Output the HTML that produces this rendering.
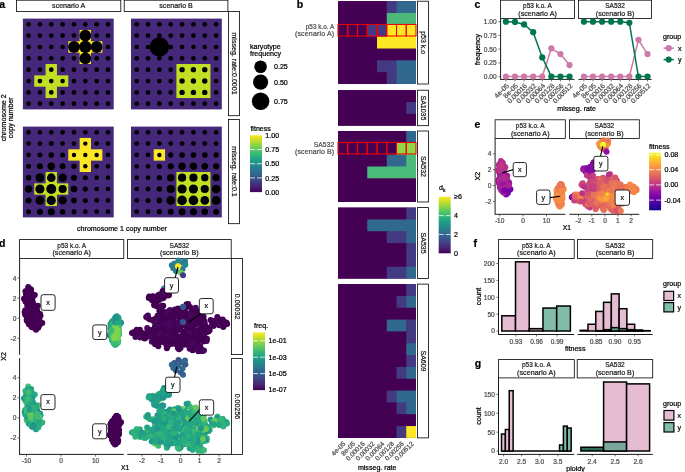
<!DOCTYPE html>
<html><head><meta charset="utf-8"><title>figure</title>
<style>html,body{margin:0;padding:0;background:#fff}svg{display:block;will-change:transform}text{font-family:"Liberation Sans",sans-serif}</style>
</head><body>
<svg width="685" height="472" viewBox="0 0 685 472">
<defs>
<linearGradient id="gvir" x1="0" y1="1" x2="0" y2="0"><stop offset="0%" stop-color="#440154"/><stop offset="10%" stop-color="#482475"/><stop offset="20%" stop-color="#414487"/><stop offset="30%" stop-color="#355f8d"/><stop offset="40%" stop-color="#2a788e"/><stop offset="50%" stop-color="#21918c"/><stop offset="60%" stop-color="#22a884"/><stop offset="70%" stop-color="#44bf70"/><stop offset="80%" stop-color="#7ad151"/><stop offset="90%" stop-color="#bddf26"/><stop offset="100%" stop-color="#fde725"/></linearGradient>
<linearGradient id="gpla" x1="0" y1="1" x2="0" y2="0"><stop offset="0%" stop-color="#0d0887"/><stop offset="10%" stop-color="#41049d"/><stop offset="20%" stop-color="#6a00a8"/><stop offset="30%" stop-color="#8f0da4"/><stop offset="40%" stop-color="#b12a90"/><stop offset="50%" stop-color="#cc4778"/><stop offset="60%" stop-color="#e16462"/><stop offset="70%" stop-color="#f2844b"/><stop offset="80%" stop-color="#fca636"/><stop offset="90%" stop-color="#fcce25"/><stop offset="100%" stop-color="#f0f921"/></linearGradient>
</defs>
<rect x="0" y="0" width="685" height="472" fill="#fff"/>
<text x="-0.80" y="7.60" font-size="10.5" text-anchor="start" fill="#000" font-weight="bold" stroke="#000" stroke-width="0.22">a</text>
<rect x="16.50" y="0.20" width="104.30" height="11.20" fill="#fff" stroke="#000" stroke-width="0.8"/>
<text x="68.65" y="8.36" font-size="7.1" text-anchor="middle" fill="#1a1a1a" stroke="#1a1a1a" stroke-width="0.22">scenario A</text>
<rect x="124.20" y="0.20" width="103.70" height="11.20" fill="#fff" stroke="#000" stroke-width="0.8"/>
<text x="176.05" y="8.36" font-size="7.1" text-anchor="middle" fill="#1a1a1a" stroke="#1a1a1a" stroke-width="0.22">scenario B</text>
<rect x="228.50" y="11.40" width="11.00" height="104.30" fill="#fff" stroke="#000" stroke-width="0.8"/>
<text font-size="7.1" text-anchor="middle" fill="#1a1a1a" transform="translate(232.24 63.55) rotate(90)" stroke="#1a1a1a" stroke-width="0.22">misseg. rate:0.0001</text>
<rect x="228.50" y="119.40" width="11.00" height="104.30" fill="#fff" stroke="#000" stroke-width="0.8"/>
<text font-size="7.1" text-anchor="middle" fill="#1a1a1a" transform="translate(232.24 171.55) rotate(90)" stroke="#1a1a1a" stroke-width="0.22">misseg. rate:0.1</text>
<rect x="22.90" y="18.60" width="90.80" height="90.80" fill="#46287a"/>
<rect x="68.30" y="41.30" width="34.05" height="11.35" fill="#fde725"/>
<rect x="79.65" y="29.95" width="11.35" height="34.05" fill="#fde725"/>
<rect x="34.25" y="75.35" width="34.05" height="11.35" fill="#c2df23"/>
<rect x="45.60" y="64.00" width="11.35" height="34.05" fill="#c2df23"/>
<circle cx="28.57" cy="24.28" r="2.35" fill="#000"/>
<circle cx="28.57" cy="35.62" r="2.35" fill="#000"/>
<circle cx="28.57" cy="46.98" r="2.35" fill="#000"/>
<circle cx="28.57" cy="58.33" r="2.35" fill="#000"/>
<circle cx="28.57" cy="69.67" r="2.35" fill="#000"/>
<circle cx="28.57" cy="81.03" r="2.35" fill="#000"/>
<circle cx="28.57" cy="92.38" r="2.35" fill="#000"/>
<circle cx="28.57" cy="103.72" r="2.35" fill="#000"/>
<circle cx="39.92" cy="24.28" r="2.35" fill="#000"/>
<circle cx="39.92" cy="35.62" r="2.35" fill="#000"/>
<circle cx="39.92" cy="46.98" r="2.35" fill="#000"/>
<circle cx="39.92" cy="58.33" r="2.35" fill="#000"/>
<circle cx="39.92" cy="69.67" r="2.35" fill="#000"/>
<circle cx="39.92" cy="81.03" r="2.35" fill="#000"/>
<circle cx="39.92" cy="92.38" r="2.35" fill="#000"/>
<circle cx="39.92" cy="103.72" r="2.35" fill="#000"/>
<circle cx="51.27" cy="24.28" r="2.35" fill="#000"/>
<circle cx="51.27" cy="35.62" r="2.35" fill="#000"/>
<circle cx="51.27" cy="46.98" r="2.35" fill="#000"/>
<circle cx="51.27" cy="58.33" r="2.35" fill="#000"/>
<circle cx="51.27" cy="69.67" r="2.35" fill="#000"/>
<circle cx="51.27" cy="81.03" r="2.35" fill="#000"/>
<circle cx="51.27" cy="92.38" r="2.35" fill="#000"/>
<circle cx="51.27" cy="103.72" r="2.35" fill="#000"/>
<circle cx="62.62" cy="24.28" r="2.35" fill="#000"/>
<circle cx="62.62" cy="35.62" r="2.35" fill="#000"/>
<circle cx="62.62" cy="46.98" r="2.35" fill="#000"/>
<circle cx="62.62" cy="58.33" r="2.35" fill="#000"/>
<circle cx="62.62" cy="69.67" r="2.35" fill="#000"/>
<circle cx="62.62" cy="81.03" r="2.35" fill="#000"/>
<circle cx="62.62" cy="92.38" r="2.35" fill="#000"/>
<circle cx="62.62" cy="103.72" r="2.35" fill="#000"/>
<circle cx="73.97" cy="24.28" r="2.35" fill="#000"/>
<circle cx="73.97" cy="35.62" r="2.35" fill="#000"/>
<circle cx="73.97" cy="46.98" r="5.90" fill="#000"/>
<circle cx="73.97" cy="58.33" r="2.35" fill="#000"/>
<circle cx="73.97" cy="69.67" r="2.35" fill="#000"/>
<circle cx="73.97" cy="81.03" r="2.35" fill="#000"/>
<circle cx="73.97" cy="92.38" r="2.35" fill="#000"/>
<circle cx="73.97" cy="103.72" r="2.35" fill="#000"/>
<circle cx="85.32" cy="24.28" r="2.35" fill="#000"/>
<circle cx="85.32" cy="35.62" r="5.90" fill="#000"/>
<circle cx="85.32" cy="46.98" r="6.20" fill="#000"/>
<circle cx="85.32" cy="58.33" r="5.90" fill="#000"/>
<circle cx="85.32" cy="69.67" r="2.35" fill="#000"/>
<circle cx="85.32" cy="81.03" r="2.35" fill="#000"/>
<circle cx="85.32" cy="92.38" r="2.35" fill="#000"/>
<circle cx="85.32" cy="103.72" r="2.35" fill="#000"/>
<circle cx="96.67" cy="24.28" r="2.35" fill="#000"/>
<circle cx="96.67" cy="35.62" r="2.35" fill="#000"/>
<circle cx="96.67" cy="46.98" r="5.90" fill="#000"/>
<circle cx="96.67" cy="58.33" r="2.35" fill="#000"/>
<circle cx="96.67" cy="69.67" r="2.35" fill="#000"/>
<circle cx="96.67" cy="81.03" r="2.35" fill="#000"/>
<circle cx="96.67" cy="92.38" r="2.35" fill="#000"/>
<circle cx="96.67" cy="103.72" r="2.35" fill="#000"/>
<circle cx="108.03" cy="24.28" r="2.35" fill="#000"/>
<circle cx="108.03" cy="35.62" r="2.35" fill="#000"/>
<circle cx="108.03" cy="46.98" r="2.35" fill="#000"/>
<circle cx="108.03" cy="58.33" r="2.35" fill="#000"/>
<circle cx="108.03" cy="69.67" r="2.35" fill="#000"/>
<circle cx="108.03" cy="81.03" r="2.35" fill="#000"/>
<circle cx="108.03" cy="92.38" r="2.35" fill="#000"/>
<circle cx="108.03" cy="103.72" r="2.35" fill="#000"/>
<rect x="22.90" y="126.60" width="90.80" height="90.80" fill="#46287a"/>
<rect x="68.30" y="149.30" width="34.05" height="11.35" fill="#fde725"/>
<rect x="79.65" y="137.95" width="11.35" height="34.05" fill="#fde725"/>
<rect x="34.25" y="183.35" width="34.05" height="11.35" fill="#c2df23"/>
<rect x="45.60" y="172.00" width="11.35" height="34.05" fill="#c2df23"/>
<circle cx="28.57" cy="132.28" r="2.35" fill="#000"/>
<circle cx="28.57" cy="143.62" r="2.35" fill="#000"/>
<circle cx="28.57" cy="154.97" r="2.35" fill="#000"/>
<circle cx="28.57" cy="166.32" r="2.50" fill="#000"/>
<circle cx="28.57" cy="177.67" r="2.80" fill="#000"/>
<circle cx="28.57" cy="189.02" r="3.70" fill="#000"/>
<circle cx="28.57" cy="200.38" r="3.00" fill="#000"/>
<circle cx="28.57" cy="211.72" r="2.50" fill="#000"/>
<circle cx="39.92" cy="132.28" r="2.35" fill="#000"/>
<circle cx="39.92" cy="143.62" r="2.35" fill="#000"/>
<circle cx="39.92" cy="154.97" r="2.50" fill="#000"/>
<circle cx="39.92" cy="166.32" r="3.00" fill="#000"/>
<circle cx="39.92" cy="177.67" r="4.40" fill="#000"/>
<circle cx="39.92" cy="189.02" r="4.60" fill="#000"/>
<circle cx="39.92" cy="200.38" r="4.40" fill="#000"/>
<circle cx="39.92" cy="211.72" r="3.00" fill="#000"/>
<circle cx="51.27" cy="132.28" r="2.35" fill="#000"/>
<circle cx="51.27" cy="143.62" r="2.50" fill="#000"/>
<circle cx="51.27" cy="154.97" r="2.80" fill="#000"/>
<circle cx="51.27" cy="166.32" r="3.70" fill="#000"/>
<circle cx="51.27" cy="177.67" r="4.30" fill="#000"/>
<circle cx="51.27" cy="189.02" r="5.00" fill="#000"/>
<circle cx="51.27" cy="200.38" r="4.60" fill="#000"/>
<circle cx="51.27" cy="211.72" r="3.55" fill="#000"/>
<circle cx="62.62" cy="132.28" r="2.35" fill="#000"/>
<circle cx="62.62" cy="143.62" r="2.35" fill="#000"/>
<circle cx="62.62" cy="154.97" r="2.50" fill="#000"/>
<circle cx="62.62" cy="166.32" r="3.00" fill="#000"/>
<circle cx="62.62" cy="177.67" r="4.20" fill="#000"/>
<circle cx="62.62" cy="189.02" r="4.10" fill="#000"/>
<circle cx="62.62" cy="200.38" r="4.20" fill="#000"/>
<circle cx="62.62" cy="211.72" r="2.80" fill="#000"/>
<circle cx="73.97" cy="132.28" r="2.35" fill="#000"/>
<circle cx="73.97" cy="143.62" r="2.35" fill="#000"/>
<circle cx="73.97" cy="154.97" r="2.20" fill="#000"/>
<circle cx="73.97" cy="166.32" r="2.70" fill="#000"/>
<circle cx="73.97" cy="177.67" r="3.00" fill="#000"/>
<circle cx="73.97" cy="189.02" r="3.30" fill="#000"/>
<circle cx="73.97" cy="200.38" r="2.80" fill="#000"/>
<circle cx="73.97" cy="211.72" r="2.50" fill="#000"/>
<circle cx="85.32" cy="132.28" r="2.35" fill="#000"/>
<circle cx="85.32" cy="143.62" r="2.20" fill="#000"/>
<circle cx="85.32" cy="154.97" r="2.20" fill="#000"/>
<circle cx="85.32" cy="166.32" r="2.20" fill="#000"/>
<circle cx="85.32" cy="177.67" r="2.50" fill="#000"/>
<circle cx="85.32" cy="189.02" r="2.60" fill="#000"/>
<circle cx="85.32" cy="200.38" r="2.50" fill="#000"/>
<circle cx="85.32" cy="211.72" r="2.35" fill="#000"/>
<circle cx="96.67" cy="132.28" r="2.35" fill="#000"/>
<circle cx="96.67" cy="143.62" r="2.35" fill="#000"/>
<circle cx="96.67" cy="154.97" r="2.20" fill="#000"/>
<circle cx="96.67" cy="166.32" r="2.35" fill="#000"/>
<circle cx="96.67" cy="177.67" r="2.35" fill="#000"/>
<circle cx="96.67" cy="189.02" r="2.35" fill="#000"/>
<circle cx="96.67" cy="200.38" r="2.35" fill="#000"/>
<circle cx="96.67" cy="211.72" r="2.35" fill="#000"/>
<circle cx="108.03" cy="132.28" r="2.35" fill="#000"/>
<circle cx="108.03" cy="143.62" r="2.35" fill="#000"/>
<circle cx="108.03" cy="154.97" r="2.35" fill="#000"/>
<circle cx="108.03" cy="166.32" r="2.35" fill="#000"/>
<circle cx="108.03" cy="177.67" r="2.35" fill="#000"/>
<circle cx="108.03" cy="189.02" r="2.35" fill="#000"/>
<circle cx="108.03" cy="200.38" r="2.35" fill="#000"/>
<circle cx="108.03" cy="211.72" r="2.35" fill="#000"/>
<rect x="131.00" y="18.60" width="90.80" height="90.80" fill="#46287a"/>
<rect x="176.40" y="64.00" width="34.05" height="34.05" fill="#c2df23"/>
<circle cx="136.68" cy="24.28" r="2.35" fill="#000"/>
<circle cx="136.68" cy="35.62" r="2.35" fill="#000"/>
<circle cx="136.68" cy="46.98" r="2.35" fill="#000"/>
<circle cx="136.68" cy="58.33" r="2.35" fill="#000"/>
<circle cx="136.68" cy="69.67" r="2.35" fill="#000"/>
<circle cx="136.68" cy="81.03" r="2.35" fill="#000"/>
<circle cx="136.68" cy="92.38" r="2.35" fill="#000"/>
<circle cx="136.68" cy="103.72" r="2.35" fill="#000"/>
<circle cx="148.03" cy="24.28" r="2.35" fill="#000"/>
<circle cx="148.03" cy="35.62" r="2.35" fill="#000"/>
<circle cx="148.03" cy="46.98" r="2.35" fill="#000"/>
<circle cx="148.03" cy="58.33" r="2.35" fill="#000"/>
<circle cx="148.03" cy="69.67" r="2.35" fill="#000"/>
<circle cx="148.03" cy="81.03" r="2.35" fill="#000"/>
<circle cx="148.03" cy="92.38" r="2.35" fill="#000"/>
<circle cx="148.03" cy="103.72" r="2.35" fill="#000"/>
<circle cx="159.38" cy="24.28" r="2.35" fill="#000"/>
<circle cx="159.38" cy="35.62" r="2.35" fill="#000"/>
<circle cx="159.38" cy="46.98" r="9.70" fill="#000"/>
<circle cx="159.38" cy="58.33" r="2.35" fill="#000"/>
<circle cx="159.38" cy="69.67" r="2.35" fill="#000"/>
<circle cx="159.38" cy="81.03" r="2.35" fill="#000"/>
<circle cx="159.38" cy="92.38" r="2.35" fill="#000"/>
<circle cx="159.38" cy="103.72" r="2.35" fill="#000"/>
<circle cx="170.72" cy="24.28" r="2.35" fill="#000"/>
<circle cx="170.72" cy="35.62" r="2.35" fill="#000"/>
<circle cx="170.72" cy="46.98" r="2.35" fill="#000"/>
<circle cx="170.72" cy="58.33" r="2.35" fill="#000"/>
<circle cx="170.72" cy="69.67" r="2.35" fill="#000"/>
<circle cx="170.72" cy="81.03" r="2.35" fill="#000"/>
<circle cx="170.72" cy="92.38" r="2.35" fill="#000"/>
<circle cx="170.72" cy="103.72" r="2.35" fill="#000"/>
<circle cx="182.07" cy="24.28" r="2.35" fill="#000"/>
<circle cx="182.07" cy="35.62" r="2.35" fill="#000"/>
<circle cx="182.07" cy="46.98" r="2.35" fill="#000"/>
<circle cx="182.07" cy="58.33" r="2.35" fill="#000"/>
<circle cx="182.07" cy="69.67" r="2.70" fill="#000"/>
<circle cx="182.07" cy="81.03" r="2.70" fill="#000"/>
<circle cx="182.07" cy="92.38" r="2.70" fill="#000"/>
<circle cx="182.07" cy="103.72" r="2.35" fill="#000"/>
<circle cx="193.43" cy="24.28" r="2.35" fill="#000"/>
<circle cx="193.43" cy="35.62" r="2.35" fill="#000"/>
<circle cx="193.43" cy="46.98" r="2.35" fill="#000"/>
<circle cx="193.43" cy="58.33" r="2.35" fill="#000"/>
<circle cx="193.43" cy="69.67" r="2.70" fill="#000"/>
<circle cx="193.43" cy="81.03" r="2.70" fill="#000"/>
<circle cx="193.43" cy="92.38" r="2.70" fill="#000"/>
<circle cx="193.43" cy="103.72" r="2.35" fill="#000"/>
<circle cx="204.77" cy="24.28" r="2.35" fill="#000"/>
<circle cx="204.77" cy="35.62" r="2.35" fill="#000"/>
<circle cx="204.77" cy="46.98" r="2.35" fill="#000"/>
<circle cx="204.77" cy="58.33" r="2.35" fill="#000"/>
<circle cx="204.77" cy="69.67" r="2.70" fill="#000"/>
<circle cx="204.77" cy="81.03" r="2.70" fill="#000"/>
<circle cx="204.77" cy="92.38" r="2.70" fill="#000"/>
<circle cx="204.77" cy="103.72" r="2.35" fill="#000"/>
<circle cx="216.12" cy="24.28" r="2.35" fill="#000"/>
<circle cx="216.12" cy="35.62" r="2.35" fill="#000"/>
<circle cx="216.12" cy="46.98" r="2.35" fill="#000"/>
<circle cx="216.12" cy="58.33" r="2.35" fill="#000"/>
<circle cx="216.12" cy="69.67" r="2.35" fill="#000"/>
<circle cx="216.12" cy="81.03" r="2.35" fill="#000"/>
<circle cx="216.12" cy="92.38" r="2.35" fill="#000"/>
<circle cx="216.12" cy="103.72" r="2.35" fill="#000"/>
<rect x="131.00" y="126.60" width="90.80" height="90.80" fill="#46287a"/>
<rect x="153.70" y="149.30" width="11.35" height="11.35" fill="#fde725"/>
<rect x="176.40" y="172.00" width="34.05" height="34.05" fill="#c2df23"/>
<circle cx="136.68" cy="132.28" r="2.35" fill="#000"/>
<circle cx="136.68" cy="143.62" r="2.35" fill="#000"/>
<circle cx="136.68" cy="154.97" r="2.35" fill="#000"/>
<circle cx="136.68" cy="166.32" r="2.35" fill="#000"/>
<circle cx="136.68" cy="177.67" r="2.35" fill="#000"/>
<circle cx="136.68" cy="189.02" r="2.35" fill="#000"/>
<circle cx="136.68" cy="200.38" r="2.35" fill="#000"/>
<circle cx="136.68" cy="211.72" r="2.35" fill="#000"/>
<circle cx="148.03" cy="132.28" r="2.35" fill="#000"/>
<circle cx="148.03" cy="143.62" r="2.35" fill="#000"/>
<circle cx="148.03" cy="154.97" r="2.35" fill="#000"/>
<circle cx="148.03" cy="166.32" r="2.40" fill="#000"/>
<circle cx="148.03" cy="177.67" r="2.45" fill="#000"/>
<circle cx="148.03" cy="189.02" r="2.50" fill="#000"/>
<circle cx="148.03" cy="200.38" r="2.50" fill="#000"/>
<circle cx="148.03" cy="211.72" r="2.45" fill="#000"/>
<circle cx="159.38" cy="132.28" r="2.35" fill="#000"/>
<circle cx="159.38" cy="143.62" r="2.35" fill="#000"/>
<circle cx="159.38" cy="154.97" r="2.20" fill="#000"/>
<circle cx="159.38" cy="166.32" r="2.60" fill="#000"/>
<circle cx="159.38" cy="177.67" r="2.60" fill="#000"/>
<circle cx="159.38" cy="189.02" r="2.80" fill="#000"/>
<circle cx="159.38" cy="200.38" r="2.80" fill="#000"/>
<circle cx="159.38" cy="211.72" r="2.60" fill="#000"/>
<circle cx="170.72" cy="132.28" r="2.35" fill="#000"/>
<circle cx="170.72" cy="143.62" r="2.35" fill="#000"/>
<circle cx="170.72" cy="154.97" r="2.60" fill="#000"/>
<circle cx="170.72" cy="166.32" r="3.10" fill="#000"/>
<circle cx="170.72" cy="177.67" r="3.70" fill="#000"/>
<circle cx="170.72" cy="189.02" r="4.10" fill="#000"/>
<circle cx="170.72" cy="200.38" r="4.30" fill="#000"/>
<circle cx="170.72" cy="211.72" r="3.00" fill="#000"/>
<circle cx="182.07" cy="132.28" r="2.35" fill="#000"/>
<circle cx="182.07" cy="143.62" r="2.45" fill="#000"/>
<circle cx="182.07" cy="154.97" r="2.80" fill="#000"/>
<circle cx="182.07" cy="166.32" r="3.70" fill="#000"/>
<circle cx="182.07" cy="177.67" r="4.10" fill="#000"/>
<circle cx="182.07" cy="189.02" r="4.60" fill="#000"/>
<circle cx="182.07" cy="200.38" r="4.80" fill="#000"/>
<circle cx="182.07" cy="211.72" r="3.55" fill="#000"/>
<circle cx="193.43" cy="132.28" r="2.35" fill="#000"/>
<circle cx="193.43" cy="143.62" r="2.45" fill="#000"/>
<circle cx="193.43" cy="154.97" r="2.80" fill="#000"/>
<circle cx="193.43" cy="166.32" r="3.70" fill="#000"/>
<circle cx="193.43" cy="177.67" r="4.10" fill="#000"/>
<circle cx="193.43" cy="189.02" r="4.60" fill="#000"/>
<circle cx="193.43" cy="200.38" r="4.80" fill="#000"/>
<circle cx="193.43" cy="211.72" r="3.55" fill="#000"/>
<circle cx="204.77" cy="132.28" r="2.35" fill="#000"/>
<circle cx="204.77" cy="143.62" r="2.45" fill="#000"/>
<circle cx="204.77" cy="154.97" r="2.80" fill="#000"/>
<circle cx="204.77" cy="166.32" r="3.30" fill="#000"/>
<circle cx="204.77" cy="177.67" r="3.70" fill="#000"/>
<circle cx="204.77" cy="189.02" r="4.10" fill="#000"/>
<circle cx="204.77" cy="200.38" r="4.30" fill="#000"/>
<circle cx="204.77" cy="211.72" r="3.30" fill="#000"/>
<circle cx="216.12" cy="132.28" r="2.35" fill="#000"/>
<circle cx="216.12" cy="143.62" r="2.35" fill="#000"/>
<circle cx="216.12" cy="154.97" r="2.60" fill="#000"/>
<circle cx="216.12" cy="166.32" r="3.10" fill="#000"/>
<circle cx="216.12" cy="177.67" r="3.55" fill="#000"/>
<circle cx="216.12" cy="189.02" r="4.30" fill="#000"/>
<circle cx="216.12" cy="200.38" r="4.30" fill="#000"/>
<circle cx="216.12" cy="211.72" r="3.00" fill="#000"/>
<text font-size="7.1" text-anchor="middle" transform="translate(6.3 117.8) rotate(-90)" stroke="#000" stroke-width="0.22">chromosome 2</text>
<text font-size="7.1" text-anchor="middle" transform="translate(13.2 117.8) rotate(-90)" stroke="#000" stroke-width="0.22">copy number</text>
<text x="122.00" y="230.60" font-size="7.1" text-anchor="middle" fill="#000" stroke="#000" stroke-width="0.22">chromosome 1 copy number</text>
<text x="250.00" y="48.50" font-size="7.1" text-anchor="start" fill="#000" stroke="#000" stroke-width="0.22">karyotype</text>
<text x="250.00" y="55.60" font-size="7.1" text-anchor="start" fill="#000" stroke="#000" stroke-width="0.22">frequency</text>
<circle cx="260.60" cy="66.70" r="6.30" fill="#000"/>
<circle cx="260.60" cy="82.10" r="7.60" fill="#000"/>
<circle cx="260.60" cy="101.20" r="8.75" fill="#000"/>
<text x="274.00" y="69.20" font-size="7.1" text-anchor="start" fill="#000" stroke="#000" stroke-width="0.22">0.25</text>
<text x="274.00" y="84.60" font-size="7.1" text-anchor="start" fill="#000" stroke="#000" stroke-width="0.22">0.50</text>
<text x="274.00" y="103.70" font-size="7.1" text-anchor="start" fill="#000" stroke="#000" stroke-width="0.22">0.75</text>
<text x="250.40" y="131.20" font-size="7.1" text-anchor="start" fill="#000" stroke="#000" stroke-width="0.22">fitness</text>
<rect x="250.00" y="135.30" width="12.00" height="56.80" fill="url(#gvir)"/>
<text x="265.30" y="137.90" font-size="7.1" text-anchor="start" fill="#000" stroke="#000" stroke-width="0.22">1.00</text>
<line x1="250.00" y1="149.50" x2="255.00" y2="149.50" stroke="#fff" stroke-width="0.75"/>
<line x1="257.00" y1="149.50" x2="262.00" y2="149.50" stroke="#fff" stroke-width="0.75"/>
<text x="265.30" y="152.10" font-size="7.1" text-anchor="start" fill="#000" stroke="#000" stroke-width="0.22">0.75</text>
<line x1="250.00" y1="163.70" x2="255.00" y2="163.70" stroke="#fff" stroke-width="0.75"/>
<line x1="257.00" y1="163.70" x2="262.00" y2="163.70" stroke="#fff" stroke-width="0.75"/>
<text x="265.30" y="166.30" font-size="7.1" text-anchor="start" fill="#000" stroke="#000" stroke-width="0.22">0.50</text>
<line x1="250.00" y1="177.90" x2="255.00" y2="177.90" stroke="#fff" stroke-width="0.75"/>
<line x1="257.00" y1="177.90" x2="262.00" y2="177.90" stroke="#fff" stroke-width="0.75"/>
<text x="265.30" y="180.50" font-size="7.1" text-anchor="start" fill="#000" stroke="#000" stroke-width="0.22">0.25</text>
<text x="265.30" y="194.70" font-size="7.1" text-anchor="start" fill="#000" stroke="#000" stroke-width="0.22">0.00</text>
<text x="296.80" y="7.60" font-size="10.5" text-anchor="start" fill="#000" font-weight="bold" stroke="#000" stroke-width="0.22">b</text>
<rect x="338.00" y="1.20" width="78.00" height="82.81" fill="#440154"/>
<rect x="338.00" y="1.20" width="49.35" height="12.43" fill="#440154"/>
<rect x="386.75" y="1.20" width="10.35" height="12.43" fill="#443983"/>
<rect x="396.50" y="1.20" width="19.50" height="12.43" fill="#31688e"/>
<rect x="338.00" y="13.03" width="49.35" height="12.43" fill="#440154"/>
<rect x="386.75" y="13.03" width="29.25" height="12.43" fill="#4cb97a"/>
<rect x="338.00" y="24.86" width="29.85" height="12.43" fill="#440154"/>
<rect x="367.25" y="24.86" width="20.10" height="12.43" fill="#443983"/>
<rect x="386.75" y="24.86" width="29.25" height="12.43" fill="#fde725"/>
<rect x="338.00" y="36.69" width="39.60" height="12.43" fill="#440154"/>
<rect x="377.00" y="36.69" width="39.00" height="12.43" fill="#fde725"/>
<rect x="338.00" y="48.52" width="78.00" height="12.43" fill="#440154"/>
<rect x="338.00" y="60.35" width="39.60" height="12.43" fill="#440154"/>
<rect x="377.00" y="60.35" width="20.10" height="12.43" fill="#443983"/>
<rect x="396.50" y="60.35" width="19.50" height="12.43" fill="#31688e"/>
<rect x="338.00" y="72.18" width="49.35" height="11.83" fill="#440154"/>
<rect x="386.75" y="72.18" width="10.35" height="11.83" fill="#443983"/>
<rect x="396.50" y="72.18" width="19.50" height="11.83" fill="#31688e"/>
<rect x="417.40" y="1.20" width="11.10" height="82.81" fill="#fff" stroke="#000" stroke-width="0.8"/>
<text font-size="7.0" text-anchor="middle" fill="#1a1a1a" transform="translate(421.23 42.61) rotate(90)" stroke="#1a1a1a" stroke-width="0.22">p53 k.o</text>
<rect x="338.00" y="90.20" width="78.00" height="35.49" fill="#440154"/>
<rect x="338.00" y="90.20" width="78.00" height="12.43" fill="#440154"/>
<rect x="338.00" y="102.03" width="68.85" height="12.43" fill="#440154"/>
<rect x="406.25" y="102.03" width="9.75" height="12.43" fill="#443983"/>
<rect x="338.00" y="113.86" width="78.00" height="11.83" fill="#440154"/>
<rect x="417.40" y="90.20" width="11.10" height="35.49" fill="#fff" stroke="#000" stroke-width="0.8"/>
<text font-size="7.0" text-anchor="middle" fill="#1a1a1a" transform="translate(421.23 107.94) rotate(90)" stroke="#1a1a1a" stroke-width="0.22">SA1035</text>
<rect x="338.00" y="131.00" width="78.00" height="70.98" fill="#440154"/>
<rect x="338.00" y="131.00" width="68.85" height="12.43" fill="#440154"/>
<rect x="406.25" y="131.00" width="9.75" height="12.43" fill="#31688e"/>
<rect x="338.00" y="142.83" width="59.10" height="12.43" fill="#440154"/>
<rect x="396.50" y="142.83" width="19.50" height="12.43" fill="#8fd744"/>
<rect x="338.00" y="154.66" width="49.35" height="12.43" fill="#440154"/>
<rect x="386.75" y="154.66" width="20.10" height="12.43" fill="#31688e"/>
<rect x="406.25" y="154.66" width="9.75" height="12.43" fill="#4cba79"/>
<rect x="338.00" y="166.49" width="29.85" height="12.43" fill="#440154"/>
<rect x="367.25" y="166.49" width="48.75" height="12.43" fill="#4cba79"/>
<rect x="338.00" y="178.32" width="78.00" height="12.43" fill="#440154"/>
<rect x="338.00" y="190.15" width="78.00" height="11.83" fill="#440154"/>
<rect x="417.40" y="131.00" width="11.10" height="70.98" fill="#fff" stroke="#000" stroke-width="0.8"/>
<text font-size="7.0" text-anchor="middle" fill="#1a1a1a" transform="translate(421.23 166.49) rotate(90)" stroke="#1a1a1a" stroke-width="0.22">SA532</text>
<rect x="338.00" y="207.60" width="78.00" height="70.98" fill="#440154"/>
<rect x="338.00" y="207.60" width="68.85" height="12.43" fill="#440154"/>
<rect x="406.25" y="207.60" width="9.75" height="12.43" fill="#443983"/>
<rect x="338.00" y="219.43" width="29.85" height="12.43" fill="#440154"/>
<rect x="367.25" y="219.43" width="48.75" height="12.43" fill="#31688e"/>
<rect x="338.00" y="231.26" width="49.35" height="12.43" fill="#440154"/>
<rect x="386.75" y="231.26" width="20.10" height="12.43" fill="#443983"/>
<rect x="406.25" y="231.26" width="9.75" height="12.43" fill="#31688e"/>
<rect x="338.00" y="243.09" width="68.85" height="12.43" fill="#440154"/>
<rect x="406.25" y="243.09" width="9.75" height="12.43" fill="#443983"/>
<rect x="338.00" y="254.92" width="68.85" height="12.43" fill="#440154"/>
<rect x="406.25" y="254.92" width="9.75" height="12.43" fill="#443983"/>
<rect x="338.00" y="266.75" width="49.35" height="11.83" fill="#440154"/>
<rect x="386.75" y="266.75" width="20.10" height="11.83" fill="#443983"/>
<rect x="406.25" y="266.75" width="9.75" height="11.83" fill="#31688e"/>
<rect x="417.40" y="207.60" width="11.10" height="70.98" fill="#fff" stroke="#000" stroke-width="0.8"/>
<text font-size="7.0" text-anchor="middle" fill="#1a1a1a" transform="translate(421.23 243.09) rotate(90)" stroke="#1a1a1a" stroke-width="0.22">SA535</text>
<rect x="338.00" y="284.10" width="78.00" height="153.79" fill="#440154"/>
<rect x="338.00" y="284.10" width="68.85" height="12.43" fill="#440154"/>
<rect x="406.25" y="284.10" width="9.75" height="12.43" fill="#443983"/>
<rect x="338.00" y="295.93" width="59.10" height="12.43" fill="#440154"/>
<rect x="396.50" y="295.93" width="10.35" height="12.43" fill="#443983"/>
<rect x="406.25" y="295.93" width="9.75" height="12.43" fill="#31688e"/>
<rect x="338.00" y="307.76" width="78.00" height="12.43" fill="#440154"/>
<rect x="338.00" y="319.59" width="49.35" height="12.43" fill="#440154"/>
<rect x="386.75" y="319.59" width="20.10" height="12.43" fill="#31688e"/>
<rect x="406.25" y="319.59" width="9.75" height="12.43" fill="#443983"/>
<rect x="338.00" y="331.42" width="68.85" height="12.43" fill="#440154"/>
<rect x="406.25" y="331.42" width="9.75" height="12.43" fill="#443983"/>
<rect x="338.00" y="343.25" width="68.85" height="12.43" fill="#440154"/>
<rect x="406.25" y="343.25" width="9.75" height="12.43" fill="#31688e"/>
<rect x="338.00" y="355.08" width="68.85" height="12.43" fill="#440154"/>
<rect x="406.25" y="355.08" width="9.75" height="12.43" fill="#443983"/>
<rect x="338.00" y="366.91" width="59.10" height="12.43" fill="#440154"/>
<rect x="396.50" y="366.91" width="10.35" height="12.43" fill="#443983"/>
<rect x="406.25" y="366.91" width="9.75" height="12.43" fill="#31688e"/>
<rect x="338.00" y="378.74" width="78.00" height="12.43" fill="#440154"/>
<rect x="338.00" y="390.57" width="49.35" height="12.43" fill="#440154"/>
<rect x="386.75" y="390.57" width="10.35" height="12.43" fill="#443983"/>
<rect x="396.50" y="390.57" width="19.50" height="12.43" fill="#31688e"/>
<rect x="338.00" y="402.40" width="59.10" height="12.43" fill="#440154"/>
<rect x="396.50" y="402.40" width="10.35" height="12.43" fill="#443983"/>
<rect x="406.25" y="402.40" width="9.75" height="12.43" fill="#31688e"/>
<rect x="338.00" y="414.23" width="78.00" height="12.43" fill="#440154"/>
<rect x="338.00" y="426.06" width="59.10" height="11.83" fill="#440154"/>
<rect x="396.50" y="426.06" width="10.35" height="11.83" fill="#443983"/>
<rect x="406.25" y="426.06" width="9.75" height="11.83" fill="#fde725"/>
<rect x="417.40" y="284.10" width="11.10" height="153.79" fill="#fff" stroke="#000" stroke-width="0.8"/>
<text font-size="7.0" text-anchor="middle" fill="#1a1a1a" transform="translate(421.23 361.00) rotate(90)" stroke="#1a1a1a" stroke-width="0.22">SA609</text>
<rect x="338.00" y="24.46" width="9.75" height="11.53" fill="none" stroke="#f00000" stroke-width="1.05"/>
<rect x="347.75" y="24.46" width="9.75" height="11.53" fill="none" stroke="#f00000" stroke-width="1.05"/>
<rect x="357.50" y="24.46" width="9.75" height="11.53" fill="none" stroke="#f00000" stroke-width="1.05"/>
<rect x="367.25" y="24.46" width="9.75" height="11.53" fill="none" stroke="#f00000" stroke-width="1.05"/>
<rect x="377.00" y="24.46" width="9.75" height="11.53" fill="none" stroke="#f00000" stroke-width="1.05"/>
<rect x="386.75" y="24.46" width="9.75" height="11.53" fill="none" stroke="#f00000" stroke-width="1.05"/>
<rect x="396.50" y="24.46" width="9.75" height="11.53" fill="none" stroke="#f00000" stroke-width="1.05"/>
<rect x="406.25" y="24.46" width="9.75" height="11.53" fill="none" stroke="#f00000" stroke-width="1.05"/>
<rect x="338.00" y="142.43" width="9.75" height="11.53" fill="none" stroke="#f00000" stroke-width="1.05"/>
<rect x="347.75" y="142.43" width="9.75" height="11.53" fill="none" stroke="#f00000" stroke-width="1.05"/>
<rect x="357.50" y="142.43" width="9.75" height="11.53" fill="none" stroke="#f00000" stroke-width="1.05"/>
<rect x="367.25" y="142.43" width="9.75" height="11.53" fill="none" stroke="#f00000" stroke-width="1.05"/>
<rect x="377.00" y="142.43" width="9.75" height="11.53" fill="none" stroke="#f00000" stroke-width="1.05"/>
<rect x="386.75" y="142.43" width="9.75" height="11.53" fill="none" stroke="#f00000" stroke-width="1.05"/>
<rect x="396.50" y="142.43" width="9.75" height="11.53" fill="none" stroke="#f00000" stroke-width="1.05"/>
<rect x="406.25" y="142.43" width="9.75" height="11.53" fill="none" stroke="#f00000" stroke-width="1.05"/>
<text x="334.20" y="28.90" font-size="7.0" text-anchor="end" fill="#4d4d4d" textLength="28.4" lengthAdjust="spacingAndGlyphs" stroke="#4d4d4d" stroke-width="0.22">p53 k.o. A</text>
<text x="334.20" y="36.40" font-size="7.0" text-anchor="end" fill="#4d4d4d" textLength="39.3" lengthAdjust="spacing" stroke="#4d4d4d" stroke-width="0.22">(scenario A)</text>
<text x="334.20" y="147.00" font-size="7.0" text-anchor="end" fill="#4d4d4d" textLength="20.4" lengthAdjust="spacingAndGlyphs" stroke="#4d4d4d" stroke-width="0.22">SA532</text>
<text x="334.20" y="154.40" font-size="7.0" text-anchor="end" fill="#4d4d4d" textLength="39.3" lengthAdjust="spacing" stroke="#4d4d4d" stroke-width="0.22">(scenario B)</text>
<text font-size="6.6" text-anchor="end" fill="#4d4d4d" transform="translate(345.88 444.20) rotate(-45)" stroke="#4d4d4d" stroke-width="0.22">4e-05</text>
<text font-size="6.6" text-anchor="end" fill="#4d4d4d" transform="translate(355.62 444.20) rotate(-45)" stroke="#4d4d4d" stroke-width="0.22">8e-05</text>
<text font-size="6.6" text-anchor="end" fill="#4d4d4d" transform="translate(365.38 444.20) rotate(-45)" stroke="#4d4d4d" stroke-width="0.22">0.00016</text>
<text font-size="6.6" text-anchor="end" fill="#4d4d4d" transform="translate(375.12 444.20) rotate(-45)" stroke="#4d4d4d" stroke-width="0.22">0.00032</text>
<text font-size="6.6" text-anchor="end" fill="#4d4d4d" transform="translate(384.88 444.20) rotate(-45)" stroke="#4d4d4d" stroke-width="0.22">0.00064</text>
<text font-size="6.6" text-anchor="end" fill="#4d4d4d" transform="translate(394.62 444.20) rotate(-45)" stroke="#4d4d4d" stroke-width="0.22">0.00128</text>
<text font-size="6.6" text-anchor="end" fill="#4d4d4d" transform="translate(404.38 444.20) rotate(-45)" stroke="#4d4d4d" stroke-width="0.22">0.00256</text>
<text font-size="6.6" text-anchor="end" fill="#4d4d4d" transform="translate(414.12 444.20) rotate(-45)" stroke="#4d4d4d" stroke-width="0.22">0.00512</text>
<text x="377.20" y="470.10" font-size="7.1" text-anchor="middle" fill="#000" stroke="#000" stroke-width="0.22">misseg. rate</text>
<text x="439" y="190.3" font-size="7.1" stroke="#000" stroke-width="0.22">d<tspan font-size="5" dy="1.5">k</tspan></text>
<rect x="438.70" y="196.80" width="12.00" height="56.50" fill="url(#gvir)"/>
<text x="454.00" y="199.30" font-size="7.1" text-anchor="start" fill="#000" stroke="#000" stroke-width="0.22">≥6</text>
<line x1="438.70" y1="215.63" x2="443.70" y2="215.63" stroke="#fff" stroke-width="0.75"/>
<line x1="445.70" y1="215.63" x2="450.70" y2="215.63" stroke="#fff" stroke-width="0.75"/>
<text x="454.00" y="218.13" font-size="7.1" text-anchor="start" fill="#000" stroke="#000" stroke-width="0.22">4</text>
<line x1="438.70" y1="234.47" x2="443.70" y2="234.47" stroke="#fff" stroke-width="0.75"/>
<line x1="445.70" y1="234.47" x2="450.70" y2="234.47" stroke="#fff" stroke-width="0.75"/>
<text x="454.00" y="236.97" font-size="7.1" text-anchor="start" fill="#000" stroke="#000" stroke-width="0.22">2</text>
<text x="454.00" y="255.80" font-size="7.1" text-anchor="start" fill="#000" stroke="#000" stroke-width="0.22">0</text>
<text x="474.50" y="7.60" font-size="10.5" text-anchor="start" fill="#000" font-weight="bold" stroke="#000" stroke-width="0.22">c</text>
<rect x="500.60" y="0.20" width="73.80" height="18.20" fill="#fff" stroke="#000" stroke-width="0.8"/>
<text x="537.50" y="7.95" font-size="7.1" text-anchor="middle" fill="#1a1a1a" textLength="28.8" lengthAdjust="spacingAndGlyphs" stroke="#1a1a1a" stroke-width="0.22">p53 k.o. A</text>
<text x="537.50" y="15.70" font-size="7.1" text-anchor="middle" fill="#1a1a1a" textLength="38.6" lengthAdjust="spacing" stroke="#1a1a1a" stroke-width="0.22">(scenario A)</text>
<rect x="578.50" y="0.20" width="73.10" height="18.20" fill="#fff" stroke="#000" stroke-width="0.8"/>
<text x="615.05" y="7.95" font-size="7.1" text-anchor="middle" fill="#1a1a1a" textLength="19.6" lengthAdjust="spacingAndGlyphs" stroke="#1a1a1a" stroke-width="0.22">SA532</text>
<text x="615.05" y="15.70" font-size="7.1" text-anchor="middle" fill="#1a1a1a" textLength="38.6" lengthAdjust="spacing" stroke="#1a1a1a" stroke-width="0.22">(scenario B)</text>
<line x1="500.60" y1="18.40" x2="500.60" y2="79.85" stroke="#000" stroke-width="0.9"/>
<line x1="500.60" y1="79.40" x2="574.40" y2="79.40" stroke="#000" stroke-width="0.9"/>
<line x1="578.50" y1="79.40" x2="651.60" y2="79.40" stroke="#000" stroke-width="0.9"/>
<line x1="498.40" y1="21.70" x2="500.60" y2="21.70" stroke="#333" stroke-width="0.7"/>
<text x="496.60" y="24.10" font-size="6.6" text-anchor="end" fill="#4d4d4d" stroke="#4d4d4d" stroke-width="0.22">1.00</text>
<line x1="498.40" y1="35.42" x2="500.60" y2="35.42" stroke="#333" stroke-width="0.7"/>
<text x="496.60" y="37.82" font-size="6.6" text-anchor="end" fill="#4d4d4d" stroke="#4d4d4d" stroke-width="0.22">0.75</text>
<line x1="498.40" y1="49.15" x2="500.60" y2="49.15" stroke="#333" stroke-width="0.7"/>
<text x="496.60" y="51.55" font-size="6.6" text-anchor="end" fill="#4d4d4d" stroke="#4d4d4d" stroke-width="0.22">0.50</text>
<line x1="498.40" y1="62.88" x2="500.60" y2="62.88" stroke="#333" stroke-width="0.7"/>
<text x="496.60" y="65.28" font-size="6.6" text-anchor="end" fill="#4d4d4d" stroke="#4d4d4d" stroke-width="0.22">0.25</text>
<line x1="498.40" y1="76.60" x2="500.60" y2="76.60" stroke="#333" stroke-width="0.7"/>
<text x="496.60" y="79.00" font-size="6.6" text-anchor="end" fill="#4d4d4d" stroke="#4d4d4d" stroke-width="0.22">0.00</text>
<text font-size="7.1" text-anchor="middle" transform="translate(480.3 49.5) rotate(-90)" stroke="#000" stroke-width="0.22">frequency</text>
<polyline points="505.90,76.60 514.99,76.60 524.08,76.60 533.17,76.60 542.26,76.60 551.35,48.33 560.44,54.09 569.53,65.07" fill="none" stroke="#cc79a7" stroke-width="1.5" stroke-linejoin="round"/>
<circle cx="505.90" cy="76.60" r="3.10" fill="#cc79a7"/>
<circle cx="514.99" cy="76.60" r="3.10" fill="#cc79a7"/>
<circle cx="524.08" cy="76.60" r="3.10" fill="#cc79a7"/>
<circle cx="533.17" cy="76.60" r="3.10" fill="#cc79a7"/>
<circle cx="542.26" cy="76.60" r="3.10" fill="#cc79a7"/>
<circle cx="551.35" cy="48.33" r="3.10" fill="#cc79a7"/>
<circle cx="560.44" cy="54.09" r="3.10" fill="#cc79a7"/>
<circle cx="569.53" cy="65.07" r="3.10" fill="#cc79a7"/>
<polyline points="505.90,21.70 514.99,21.97 524.08,24.45 533.17,32.13 542.26,57.38 551.35,76.60 560.44,76.60 569.53,76.60" fill="none" stroke="#00754f" stroke-width="1.5" stroke-linejoin="round"/>
<circle cx="505.90" cy="21.70" r="3.10" fill="#00754f"/>
<circle cx="514.99" cy="21.97" r="3.10" fill="#00754f"/>
<circle cx="524.08" cy="24.45" r="3.10" fill="#00754f"/>
<circle cx="533.17" cy="32.13" r="3.10" fill="#00754f"/>
<circle cx="542.26" cy="57.38" r="3.10" fill="#00754f"/>
<circle cx="551.35" cy="76.60" r="3.10" fill="#00754f"/>
<circle cx="560.44" cy="76.60" r="3.10" fill="#00754f"/>
<circle cx="569.53" cy="76.60" r="3.10" fill="#00754f"/>
<line x1="505.90" y1="79.40" x2="505.90" y2="81.40" stroke="#333" stroke-width="0.7"/>
<text font-size="6.9" text-anchor="end" fill="#4d4d4d" transform="translate(509.40 86.20) rotate(-45)" stroke="#4d4d4d" stroke-width="0.22">4e-05</text>
<line x1="514.99" y1="79.40" x2="514.99" y2="81.40" stroke="#333" stroke-width="0.7"/>
<text font-size="6.9" text-anchor="end" fill="#4d4d4d" transform="translate(518.49 86.20) rotate(-45)" stroke="#4d4d4d" stroke-width="0.22">8e-05</text>
<line x1="524.08" y1="79.40" x2="524.08" y2="81.40" stroke="#333" stroke-width="0.7"/>
<text font-size="6.9" text-anchor="end" fill="#4d4d4d" transform="translate(527.58 86.20) rotate(-45)" stroke="#4d4d4d" stroke-width="0.22">0.00016</text>
<line x1="533.17" y1="79.40" x2="533.17" y2="81.40" stroke="#333" stroke-width="0.7"/>
<text font-size="6.9" text-anchor="end" fill="#4d4d4d" transform="translate(536.67 86.20) rotate(-45)" stroke="#4d4d4d" stroke-width="0.22">0.00032</text>
<line x1="542.26" y1="79.40" x2="542.26" y2="81.40" stroke="#333" stroke-width="0.7"/>
<text font-size="6.9" text-anchor="end" fill="#4d4d4d" transform="translate(545.76 86.20) rotate(-45)" stroke="#4d4d4d" stroke-width="0.22">0.00064</text>
<line x1="551.35" y1="79.40" x2="551.35" y2="81.40" stroke="#333" stroke-width="0.7"/>
<text font-size="6.9" text-anchor="end" fill="#4d4d4d" transform="translate(554.85 86.20) rotate(-45)" stroke="#4d4d4d" stroke-width="0.22">0.00128</text>
<line x1="560.44" y1="79.40" x2="560.44" y2="81.40" stroke="#333" stroke-width="0.7"/>
<text font-size="6.9" text-anchor="end" fill="#4d4d4d" transform="translate(563.94 86.20) rotate(-45)" stroke="#4d4d4d" stroke-width="0.22">0.00256</text>
<line x1="569.53" y1="79.40" x2="569.53" y2="81.40" stroke="#333" stroke-width="0.7"/>
<text font-size="6.9" text-anchor="end" fill="#4d4d4d" transform="translate(573.03 86.20) rotate(-45)" stroke="#4d4d4d" stroke-width="0.22">0.00512</text>
<polyline points="583.90,76.60 592.99,76.60 602.08,76.60 611.17,76.60 620.26,76.60 629.35,76.60 638.44,39.82 647.53,54.09" fill="none" stroke="#cc79a7" stroke-width="1.5" stroke-linejoin="round"/>
<circle cx="583.90" cy="76.60" r="3.10" fill="#cc79a7"/>
<circle cx="592.99" cy="76.60" r="3.10" fill="#cc79a7"/>
<circle cx="602.08" cy="76.60" r="3.10" fill="#cc79a7"/>
<circle cx="611.17" cy="76.60" r="3.10" fill="#cc79a7"/>
<circle cx="620.26" cy="76.60" r="3.10" fill="#cc79a7"/>
<circle cx="629.35" cy="76.60" r="3.10" fill="#cc79a7"/>
<circle cx="638.44" cy="39.82" r="3.10" fill="#cc79a7"/>
<circle cx="647.53" cy="54.09" r="3.10" fill="#cc79a7"/>
<polyline points="583.90,21.70 592.99,21.70 602.08,21.70 611.17,21.70 620.26,21.70 629.35,22.80 638.44,76.60 647.53,76.60" fill="none" stroke="#00754f" stroke-width="1.5" stroke-linejoin="round"/>
<circle cx="583.90" cy="21.70" r="3.10" fill="#00754f"/>
<circle cx="592.99" cy="21.70" r="3.10" fill="#00754f"/>
<circle cx="602.08" cy="21.70" r="3.10" fill="#00754f"/>
<circle cx="611.17" cy="21.70" r="3.10" fill="#00754f"/>
<circle cx="620.26" cy="21.70" r="3.10" fill="#00754f"/>
<circle cx="629.35" cy="22.80" r="3.10" fill="#00754f"/>
<circle cx="638.44" cy="76.60" r="3.10" fill="#00754f"/>
<circle cx="647.53" cy="76.60" r="3.10" fill="#00754f"/>
<line x1="583.90" y1="79.40" x2="583.90" y2="81.40" stroke="#333" stroke-width="0.7"/>
<text font-size="6.9" text-anchor="end" fill="#4d4d4d" transform="translate(587.40 86.20) rotate(-45)" stroke="#4d4d4d" stroke-width="0.22">4e-05</text>
<line x1="592.99" y1="79.40" x2="592.99" y2="81.40" stroke="#333" stroke-width="0.7"/>
<text font-size="6.9" text-anchor="end" fill="#4d4d4d" transform="translate(596.49 86.20) rotate(-45)" stroke="#4d4d4d" stroke-width="0.22">8e-05</text>
<line x1="602.08" y1="79.40" x2="602.08" y2="81.40" stroke="#333" stroke-width="0.7"/>
<text font-size="6.9" text-anchor="end" fill="#4d4d4d" transform="translate(605.58 86.20) rotate(-45)" stroke="#4d4d4d" stroke-width="0.22">0.00016</text>
<line x1="611.17" y1="79.40" x2="611.17" y2="81.40" stroke="#333" stroke-width="0.7"/>
<text font-size="6.9" text-anchor="end" fill="#4d4d4d" transform="translate(614.67 86.20) rotate(-45)" stroke="#4d4d4d" stroke-width="0.22">0.00032</text>
<line x1="620.26" y1="79.40" x2="620.26" y2="81.40" stroke="#333" stroke-width="0.7"/>
<text font-size="6.9" text-anchor="end" fill="#4d4d4d" transform="translate(623.76 86.20) rotate(-45)" stroke="#4d4d4d" stroke-width="0.22">0.00064</text>
<line x1="629.35" y1="79.40" x2="629.35" y2="81.40" stroke="#333" stroke-width="0.7"/>
<text font-size="6.9" text-anchor="end" fill="#4d4d4d" transform="translate(632.85 86.20) rotate(-45)" stroke="#4d4d4d" stroke-width="0.22">0.00128</text>
<line x1="638.44" y1="79.40" x2="638.44" y2="81.40" stroke="#333" stroke-width="0.7"/>
<text font-size="6.9" text-anchor="end" fill="#4d4d4d" transform="translate(641.94 86.20) rotate(-45)" stroke="#4d4d4d" stroke-width="0.22">0.00256</text>
<line x1="647.53" y1="79.40" x2="647.53" y2="81.40" stroke="#333" stroke-width="0.7"/>
<text font-size="6.9" text-anchor="end" fill="#4d4d4d" transform="translate(651.03 86.20) rotate(-45)" stroke="#4d4d4d" stroke-width="0.22">0.00512</text>
<text x="576.60" y="110.90" font-size="7.1" text-anchor="middle" fill="#000" stroke="#000" stroke-width="0.22">misseg. rate</text>
<text x="663.00" y="38.50" font-size="7.1" text-anchor="start" fill="#000" stroke="#000" stroke-width="0.22">group</text>
<line x1="663.60" y1="48.20" x2="673.80" y2="48.20" stroke="#cc79a7" stroke-width="1.5"/>
<circle cx="668.70" cy="48.20" r="3.10" fill="#cc79a7"/>
<text x="678.10" y="50.60" font-size="7.1" text-anchor="start" fill="#000" stroke="#000" stroke-width="0.22">x</text>
<line x1="663.60" y1="59.60" x2="673.80" y2="59.60" stroke="#00754f" stroke-width="1.5"/>
<circle cx="668.70" cy="59.60" r="3.10" fill="#00754f"/>
<text x="678.10" y="62.00" font-size="7.1" text-anchor="start" fill="#000" stroke="#000" stroke-width="0.22">y</text>
<text x="-0.90" y="246.90" font-size="10.5" text-anchor="start" fill="#000" font-weight="bold" stroke="#000" stroke-width="0.22">d</text>
<rect x="19.60" y="239.60" width="104.20" height="18.90" fill="#fff" stroke="#000" stroke-width="0.8"/>
<text x="71.70" y="247.70" font-size="7.1" text-anchor="middle" fill="#1a1a1a" textLength="28.8" lengthAdjust="spacingAndGlyphs" stroke="#1a1a1a" stroke-width="0.22">p53 k.o. A</text>
<text x="71.70" y="255.45" font-size="7.1" text-anchor="middle" fill="#1a1a1a" textLength="38.6" lengthAdjust="spacing" stroke="#1a1a1a" stroke-width="0.22">(scenario A)</text>
<rect x="127.50" y="239.60" width="103.70" height="18.90" fill="#fff" stroke="#000" stroke-width="0.8"/>
<text x="179.35" y="247.70" font-size="7.1" text-anchor="middle" fill="#1a1a1a" textLength="19.6" lengthAdjust="spacingAndGlyphs" stroke="#1a1a1a" stroke-width="0.22">SA532</text>
<text x="179.35" y="255.45" font-size="7.1" text-anchor="middle" fill="#1a1a1a" textLength="38.6" lengthAdjust="spacing" stroke="#1a1a1a" stroke-width="0.22">(scenario B)</text>
<rect x="231.50" y="258.50" width="11.00" height="96.10" fill="#fff" stroke="#000" stroke-width="0.8"/>
<text font-size="7.1" text-anchor="middle" fill="#1a1a1a" transform="translate(235.24 306.55) rotate(90)" stroke="#1a1a1a" stroke-width="0.22">0.00032</text>
<rect x="231.50" y="358.60" width="11.00" height="95.80" fill="#fff" stroke="#000" stroke-width="0.8"/>
<text font-size="7.1" text-anchor="middle" fill="#1a1a1a" transform="translate(235.24 406.50) rotate(90)" stroke="#1a1a1a" stroke-width="0.22">0.00256</text>
<line x1="19.60" y1="258.50" x2="19.60" y2="354.80" stroke="#000" stroke-width="0.9"/>
<line x1="19.60" y1="358.20" x2="19.60" y2="454.85" stroke="#000" stroke-width="0.9"/>
<line x1="19.60" y1="454.40" x2="123.80" y2="454.40" stroke="#000" stroke-width="0.9"/>
<line x1="127.30" y1="454.40" x2="231.20" y2="454.40" stroke="#000" stroke-width="0.9"/>
<line x1="17.40" y1="278.10" x2="19.60" y2="278.10" stroke="#333" stroke-width="0.7"/>
<text x="16.40" y="280.50" font-size="6.6" text-anchor="end" fill="#4d4d4d" stroke="#4d4d4d" stroke-width="0.22">4</text>
<line x1="17.40" y1="298.20" x2="19.60" y2="298.20" stroke="#333" stroke-width="0.7"/>
<text x="16.40" y="300.60" font-size="6.6" text-anchor="end" fill="#4d4d4d" stroke="#4d4d4d" stroke-width="0.22">2</text>
<line x1="17.40" y1="318.30" x2="19.60" y2="318.30" stroke="#333" stroke-width="0.7"/>
<text x="16.40" y="320.70" font-size="6.6" text-anchor="end" fill="#4d4d4d" stroke="#4d4d4d" stroke-width="0.22">0</text>
<line x1="17.40" y1="338.40" x2="19.60" y2="338.40" stroke="#333" stroke-width="0.7"/>
<text x="16.40" y="340.80" font-size="6.6" text-anchor="end" fill="#4d4d4d" stroke="#4d4d4d" stroke-width="0.22">-2</text>
<line x1="17.40" y1="377.70" x2="19.60" y2="377.70" stroke="#333" stroke-width="0.7"/>
<text x="16.40" y="380.10" font-size="6.6" text-anchor="end" fill="#4d4d4d" stroke="#4d4d4d" stroke-width="0.22">4</text>
<line x1="17.40" y1="397.80" x2="19.60" y2="397.80" stroke="#333" stroke-width="0.7"/>
<text x="16.40" y="400.20" font-size="6.6" text-anchor="end" fill="#4d4d4d" stroke="#4d4d4d" stroke-width="0.22">2</text>
<line x1="17.40" y1="417.90" x2="19.60" y2="417.90" stroke="#333" stroke-width="0.7"/>
<text x="16.40" y="420.30" font-size="6.6" text-anchor="end" fill="#4d4d4d" stroke="#4d4d4d" stroke-width="0.22">0</text>
<line x1="17.40" y1="438.00" x2="19.60" y2="438.00" stroke="#333" stroke-width="0.7"/>
<text x="16.40" y="440.40" font-size="6.6" text-anchor="end" fill="#4d4d4d" stroke="#4d4d4d" stroke-width="0.22">-2</text>
<line x1="26.50" y1="454.40" x2="26.50" y2="456.60" stroke="#333" stroke-width="0.7"/>
<text x="26.50" y="463.20" font-size="6.6" text-anchor="middle" fill="#4d4d4d" stroke="#4d4d4d" stroke-width="0.22">-10</text>
<line x1="61.00" y1="454.40" x2="61.00" y2="456.60" stroke="#333" stroke-width="0.7"/>
<text x="61.00" y="463.20" font-size="6.6" text-anchor="middle" fill="#4d4d4d" stroke="#4d4d4d" stroke-width="0.22">0</text>
<line x1="95.60" y1="454.40" x2="95.60" y2="456.60" stroke="#333" stroke-width="0.7"/>
<text x="95.60" y="463.20" font-size="6.6" text-anchor="middle" fill="#4d4d4d" stroke="#4d4d4d" stroke-width="0.22">10</text>
<line x1="141.90" y1="454.40" x2="141.90" y2="456.60" stroke="#333" stroke-width="0.7"/>
<text x="141.90" y="463.20" font-size="6.6" text-anchor="middle" fill="#4d4d4d" stroke="#4d4d4d" stroke-width="0.22">-2</text>
<line x1="161.10" y1="454.40" x2="161.10" y2="456.60" stroke="#333" stroke-width="0.7"/>
<text x="161.10" y="463.20" font-size="6.6" text-anchor="middle" fill="#4d4d4d" stroke="#4d4d4d" stroke-width="0.22">-1</text>
<line x1="180.70" y1="454.40" x2="180.70" y2="456.60" stroke="#333" stroke-width="0.7"/>
<text x="180.70" y="463.20" font-size="6.6" text-anchor="middle" fill="#4d4d4d" stroke="#4d4d4d" stroke-width="0.22">0</text>
<line x1="199.60" y1="454.40" x2="199.60" y2="456.60" stroke="#333" stroke-width="0.7"/>
<text x="199.60" y="463.20" font-size="6.6" text-anchor="middle" fill="#4d4d4d" stroke="#4d4d4d" stroke-width="0.22">1</text>
<line x1="219.10" y1="454.40" x2="219.10" y2="456.60" stroke="#333" stroke-width="0.7"/>
<text x="219.10" y="463.20" font-size="6.6" text-anchor="middle" fill="#4d4d4d" stroke="#4d4d4d" stroke-width="0.22">2</text>
<text font-size="7.1" text-anchor="middle" transform="translate(6.0 356.5) rotate(-90)" stroke="#000" stroke-width="0.22">X2</text>
<text x="125.20" y="470.40" font-size="6.7" text-anchor="middle" fill="#000" stroke="#000" stroke-width="0.22">X1</text>
<circle cx="27.70" cy="289.98" r="3.00" fill="#440154"/>
<circle cx="27.38" cy="291.87" r="3.00" fill="#440154"/>
<circle cx="26.53" cy="291.63" r="3.00" fill="#440154"/>
<circle cx="27.95" cy="290.26" r="3.00" fill="#440154"/>
<circle cx="28.62" cy="290.30" r="3.00" fill="#440154"/>
<circle cx="31.04" cy="289.49" r="3.00" fill="#440154"/>
<circle cx="29.21" cy="290.10" r="3.00" fill="#440154"/>
<circle cx="28.21" cy="286.90" r="3.00" fill="#440154"/>
<circle cx="30.20" cy="289.09" r="3.00" fill="#440154"/>
<circle cx="30.35" cy="290.13" r="3.00" fill="#440154"/>
<circle cx="29.98" cy="295.98" r="3.00" fill="#440154"/>
<circle cx="29.48" cy="295.62" r="3.00" fill="#440154"/>
<circle cx="30.22" cy="294.54" r="3.00" fill="#440154"/>
<circle cx="29.46" cy="293.16" r="3.00" fill="#440154"/>
<circle cx="28.46" cy="295.38" r="3.00" fill="#440154"/>
<circle cx="27.21" cy="298.12" r="3.00" fill="#440154"/>
<circle cx="27.15" cy="301.73" r="3.00" fill="#440154"/>
<circle cx="26.95" cy="297.25" r="3.00" fill="#440154"/>
<circle cx="25.43" cy="301.45" r="3.00" fill="#440154"/>
<circle cx="28.89" cy="297.13" r="3.00" fill="#440154"/>
<circle cx="26.10" cy="297.12" r="3.00" fill="#440154"/>
<circle cx="26.36" cy="297.85" r="3.00" fill="#440154"/>
<circle cx="26.87" cy="297.27" r="3.00" fill="#440154"/>
<circle cx="25.74" cy="297.92" r="3.00" fill="#440154"/>
<circle cx="26.26" cy="298.18" r="3.00" fill="#440154"/>
<circle cx="27.37" cy="305.12" r="3.00" fill="#440154"/>
<circle cx="30.49" cy="307.49" r="3.00" fill="#440154"/>
<circle cx="27.81" cy="303.78" r="3.00" fill="#440154"/>
<circle cx="31.45" cy="306.27" r="3.00" fill="#440154"/>
<circle cx="29.01" cy="306.49" r="3.00" fill="#440154"/>
<circle cx="28.61" cy="295.31" r="3.00" fill="#440154"/>
<circle cx="26.31" cy="293.82" r="3.00" fill="#440154"/>
<circle cx="25.99" cy="293.49" r="3.00" fill="#440154"/>
<circle cx="25.42" cy="291.36" r="3.00" fill="#440154"/>
<circle cx="26.31" cy="293.19" r="3.00" fill="#440154"/>
<circle cx="30.43" cy="307.58" r="3.00" fill="#440154"/>
<circle cx="32.23" cy="310.84" r="3.00" fill="#440154"/>
<circle cx="30.92" cy="306.65" r="3.00" fill="#440154"/>
<circle cx="31.51" cy="308.46" r="3.00" fill="#440154"/>
<circle cx="32.57" cy="310.66" r="3.00" fill="#440154"/>
<circle cx="29.78" cy="297.44" r="3.00" fill="#440154"/>
<circle cx="30.42" cy="296.30" r="3.00" fill="#440154"/>
<circle cx="30.36" cy="296.71" r="3.00" fill="#440154"/>
<circle cx="29.00" cy="296.89" r="3.00" fill="#440154"/>
<circle cx="29.08" cy="296.50" r="3.00" fill="#440154"/>
<circle cx="32.64" cy="294.31" r="3.00" fill="#440154"/>
<circle cx="32.87" cy="294.73" r="3.00" fill="#440154"/>
<circle cx="34.79" cy="294.88" r="3.00" fill="#440154"/>
<circle cx="31.16" cy="293.81" r="3.00" fill="#440154"/>
<circle cx="31.65" cy="294.76" r="3.00" fill="#440154"/>
<circle cx="28.91" cy="308.37" r="3.00" fill="#440154"/>
<circle cx="29.57" cy="307.60" r="3.00" fill="#440154"/>
<circle cx="28.54" cy="305.47" r="3.00" fill="#440154"/>
<circle cx="28.97" cy="307.23" r="3.00" fill="#440154"/>
<circle cx="27.60" cy="306.32" r="3.00" fill="#440154"/>
<circle cx="30.62" cy="303.01" r="3.00" fill="#440154"/>
<circle cx="26.75" cy="300.52" r="3.00" fill="#440154"/>
<circle cx="27.18" cy="300.78" r="3.00" fill="#440154"/>
<circle cx="23.95" cy="298.67" r="3.00" fill="#440154"/>
<circle cx="29.20" cy="301.07" r="3.00" fill="#440154"/>
<circle cx="27.83" cy="296.84" r="3.00" fill="#440154"/>
<circle cx="27.97" cy="305.37" r="3.00" fill="#440154"/>
<circle cx="30.32" cy="305.32" r="3.00" fill="#440154"/>
<circle cx="28.01" cy="293.80" r="3.00" fill="#440154"/>
<circle cx="32.41" cy="305.71" r="3.00" fill="#440154"/>
<circle cx="32.07" cy="304.34" r="3.00" fill="#440154"/>
<circle cx="27.89" cy="300.02" r="3.00" fill="#440154"/>
<circle cx="27.82" cy="289.73" r="3.00" fill="#440154"/>
<circle cx="28.42" cy="303.66" r="3.00" fill="#440154"/>
<circle cx="32.41" cy="298.14" r="3.00" fill="#440154"/>
<circle cx="32.25" cy="296.41" r="3.00" fill="#440154"/>
<circle cx="27.32" cy="293.94" r="3.00" fill="#440154"/>
<circle cx="27.13" cy="293.48" r="3.00" fill="#440154"/>
<circle cx="31.12" cy="307.81" r="3.00" fill="#440154"/>
<circle cx="31.73" cy="298.88" r="3.00" fill="#440154"/>
<circle cx="31.12" cy="305.68" r="3.00" fill="#440154"/>
<circle cx="27.25" cy="303.09" r="3.00" fill="#440154"/>
<circle cx="32.73" cy="305.18" r="3.00" fill="#440154"/>
<circle cx="31.15" cy="298.90" r="3.00" fill="#440154"/>
<circle cx="28.08" cy="305.73" r="3.00" fill="#440154"/>
<circle cx="29.08" cy="305.89" r="3.00" fill="#440154"/>
<circle cx="32.42" cy="297.06" r="3.00" fill="#440154"/>
<circle cx="29.79" cy="308.90" r="3.00" fill="#440154"/>
<circle cx="30.43" cy="292.47" r="3.00" fill="#440154"/>
<circle cx="27.94" cy="306.53" r="3.00" fill="#440154"/>
<circle cx="28.74" cy="300.60" r="3.00" fill="#440154"/>
<circle cx="32.88" cy="302.37" r="3.00" fill="#440154"/>
<circle cx="30.56" cy="308.56" r="3.00" fill="#440154"/>
<circle cx="29.86" cy="307.31" r="3.00" fill="#440154"/>
<circle cx="31.15" cy="293.27" r="3.00" fill="#440154"/>
<circle cx="27.64" cy="295.31" r="3.00" fill="#440154"/>
<circle cx="28.10" cy="301.45" r="3.00" fill="#440154"/>
<circle cx="27.92" cy="297.94" r="3.00" fill="#440154"/>
<circle cx="28.59" cy="298.71" r="3.00" fill="#440154"/>
<circle cx="30.87" cy="307.91" r="3.00" fill="#440154"/>
<circle cx="29.86" cy="308.28" r="3.00" fill="#440154"/>
<circle cx="29.67" cy="300.16" r="3.00" fill="#440154"/>
<circle cx="28.87" cy="289.42" r="3.00" fill="#440154"/>
<circle cx="28.64" cy="292.90" r="3.00" fill="#440154"/>
<circle cx="27.46" cy="299.13" r="3.00" fill="#440154"/>
<circle cx="34.97" cy="317.98" r="3.00" fill="#440154"/>
<circle cx="35.56" cy="317.12" r="3.00" fill="#440154"/>
<circle cx="39.12" cy="317.22" r="3.00" fill="#440154"/>
<circle cx="36.95" cy="317.15" r="3.00" fill="#440154"/>
<circle cx="36.11" cy="317.37" r="3.00" fill="#440154"/>
<circle cx="30.35" cy="317.08" r="3.00" fill="#440154"/>
<circle cx="32.54" cy="314.78" r="3.00" fill="#440154"/>
<circle cx="30.41" cy="318.17" r="3.00" fill="#440154"/>
<circle cx="27.96" cy="317.86" r="3.00" fill="#440154"/>
<circle cx="32.63" cy="316.30" r="3.00" fill="#440154"/>
<circle cx="37.17" cy="324.05" r="3.00" fill="#440154"/>
<circle cx="34.38" cy="322.97" r="3.00" fill="#440154"/>
<circle cx="37.20" cy="323.25" r="3.00" fill="#440154"/>
<circle cx="35.27" cy="322.80" r="3.00" fill="#440154"/>
<circle cx="35.41" cy="322.92" r="3.00" fill="#440154"/>
<circle cx="28.96" cy="318.28" r="3.00" fill="#440154"/>
<circle cx="31.23" cy="318.03" r="3.00" fill="#440154"/>
<circle cx="27.64" cy="318.68" r="3.00" fill="#440154"/>
<circle cx="28.85" cy="318.63" r="3.00" fill="#440154"/>
<circle cx="26.89" cy="319.14" r="3.00" fill="#440154"/>
<circle cx="28.58" cy="312.65" r="3.00" fill="#440154"/>
<circle cx="27.11" cy="312.97" r="3.00" fill="#440154"/>
<circle cx="27.63" cy="312.73" r="3.00" fill="#440154"/>
<circle cx="28.82" cy="312.69" r="3.00" fill="#440154"/>
<circle cx="29.48" cy="312.26" r="3.00" fill="#440154"/>
<circle cx="36.39" cy="314.97" r="3.00" fill="#440154"/>
<circle cx="37.24" cy="316.68" r="3.00" fill="#440154"/>
<circle cx="37.30" cy="315.79" r="3.00" fill="#440154"/>
<circle cx="37.35" cy="315.23" r="3.00" fill="#440154"/>
<circle cx="33.38" cy="315.78" r="3.00" fill="#440154"/>
<circle cx="34.14" cy="319.99" r="3.00" fill="#440154"/>
<circle cx="35.52" cy="323.84" r="3.00" fill="#440154"/>
<circle cx="36.30" cy="323.33" r="3.00" fill="#440154"/>
<circle cx="35.09" cy="321.18" r="3.00" fill="#440154"/>
<circle cx="34.65" cy="322.18" r="3.00" fill="#440154"/>
<circle cx="40.25" cy="315.42" r="3.00" fill="#440154"/>
<circle cx="37.96" cy="314.35" r="3.00" fill="#440154"/>
<circle cx="40.44" cy="315.71" r="3.00" fill="#440154"/>
<circle cx="40.05" cy="313.93" r="3.00" fill="#440154"/>
<circle cx="37.73" cy="314.35" r="3.00" fill="#440154"/>
<circle cx="33.71" cy="315.61" r="3.00" fill="#440154"/>
<circle cx="33.47" cy="315.43" r="3.00" fill="#440154"/>
<circle cx="37.38" cy="319.51" r="3.00" fill="#440154"/>
<circle cx="33.77" cy="315.25" r="3.00" fill="#440154"/>
<circle cx="35.33" cy="317.35" r="3.00" fill="#440154"/>
<circle cx="34.64" cy="322.47" r="3.00" fill="#440154"/>
<circle cx="32.95" cy="319.28" r="3.00" fill="#440154"/>
<circle cx="33.46" cy="321.89" r="3.00" fill="#440154"/>
<circle cx="34.49" cy="322.18" r="3.00" fill="#440154"/>
<circle cx="34.20" cy="322.45" r="3.00" fill="#440154"/>
<circle cx="33.71" cy="317.69" r="3.00" fill="#440154"/>
<circle cx="32.43" cy="318.39" r="3.00" fill="#440154"/>
<circle cx="29.61" cy="316.84" r="3.00" fill="#440154"/>
<circle cx="30.99" cy="316.28" r="3.00" fill="#440154"/>
<circle cx="33.58" cy="317.09" r="3.00" fill="#440154"/>
<circle cx="35.23" cy="327.72" r="3.00" fill="#440154"/>
<circle cx="35.37" cy="326.07" r="3.00" fill="#440154"/>
<circle cx="35.98" cy="329.75" r="3.00" fill="#440154"/>
<circle cx="36.20" cy="328.17" r="3.00" fill="#440154"/>
<circle cx="35.66" cy="325.98" r="3.00" fill="#440154"/>
<circle cx="35.68" cy="323.81" r="3.00" fill="#440154"/>
<circle cx="39.28" cy="324.40" r="3.00" fill="#440154"/>
<circle cx="38.70" cy="324.43" r="3.00" fill="#440154"/>
<circle cx="39.50" cy="324.99" r="3.00" fill="#440154"/>
<circle cx="37.23" cy="324.14" r="3.00" fill="#440154"/>
<circle cx="36.84" cy="327.34" r="3.00" fill="#440154"/>
<circle cx="38.26" cy="327.81" r="3.00" fill="#440154"/>
<circle cx="33.67" cy="326.16" r="3.00" fill="#440154"/>
<circle cx="34.13" cy="325.79" r="3.00" fill="#440154"/>
<circle cx="35.69" cy="326.72" r="3.00" fill="#440154"/>
<circle cx="36.17" cy="307.66" r="3.00" fill="#440154"/>
<circle cx="37.72" cy="305.75" r="3.00" fill="#440154"/>
<circle cx="33.34" cy="308.10" r="3.00" fill="#440154"/>
<circle cx="35.48" cy="306.76" r="3.00" fill="#440154"/>
<circle cx="35.17" cy="305.90" r="3.00" fill="#440154"/>
<circle cx="28.27" cy="314.50" r="3.00" fill="#440154"/>
<circle cx="26.00" cy="315.27" r="3.00" fill="#440154"/>
<circle cx="25.22" cy="314.84" r="3.00" fill="#440154"/>
<circle cx="28.12" cy="315.60" r="3.00" fill="#440154"/>
<circle cx="27.13" cy="315.81" r="3.00" fill="#440154"/>
<circle cx="25.06" cy="312.69" r="3.00" fill="#440154"/>
<circle cx="24.61" cy="312.12" r="3.00" fill="#440154"/>
<circle cx="26.17" cy="311.94" r="3.00" fill="#440154"/>
<circle cx="24.91" cy="312.48" r="3.00" fill="#440154"/>
<circle cx="25.30" cy="310.35" r="3.00" fill="#440154"/>
<circle cx="26.73" cy="320.19" r="3.00" fill="#440154"/>
<circle cx="27.24" cy="321.11" r="3.00" fill="#440154"/>
<circle cx="28.57" cy="322.24" r="3.00" fill="#440154"/>
<circle cx="30.37" cy="324.67" r="3.00" fill="#440154"/>
<circle cx="28.86" cy="323.24" r="3.00" fill="#440154"/>
<circle cx="37.23" cy="326.09" r="3.00" fill="#440154"/>
<circle cx="38.52" cy="324.51" r="3.00" fill="#440154"/>
<circle cx="37.84" cy="325.72" r="3.00" fill="#440154"/>
<circle cx="39.46" cy="324.72" r="3.00" fill="#440154"/>
<circle cx="42.28" cy="323.02" r="3.00" fill="#440154"/>
<circle cx="30.24" cy="322.22" r="3.00" fill="#440154"/>
<circle cx="31.26" cy="322.71" r="3.00" fill="#440154"/>
<circle cx="28.91" cy="324.15" r="3.00" fill="#440154"/>
<circle cx="28.80" cy="322.44" r="3.00" fill="#440154"/>
<circle cx="30.93" cy="323.39" r="3.00" fill="#440154"/>
<circle cx="32.80" cy="307.42" r="3.00" fill="#440154"/>
<circle cx="32.57" cy="306.93" r="3.00" fill="#440154"/>
<circle cx="33.26" cy="307.70" r="3.00" fill="#440154"/>
<circle cx="34.58" cy="307.45" r="3.00" fill="#440154"/>
<circle cx="32.53" cy="310.59" r="3.00" fill="#440154"/>
<circle cx="30.91" cy="317.60" r="3.00" fill="#440154"/>
<circle cx="31.66" cy="315.26" r="3.00" fill="#440154"/>
<circle cx="29.96" cy="318.26" r="3.00" fill="#440154"/>
<circle cx="31.59" cy="315.24" r="3.00" fill="#440154"/>
<circle cx="31.22" cy="316.29" r="3.00" fill="#440154"/>
<circle cx="28.65" cy="315.61" r="3.00" fill="#440154"/>
<circle cx="29.00" cy="316.04" r="3.00" fill="#440154"/>
<circle cx="27.36" cy="316.63" r="3.00" fill="#440154"/>
<circle cx="28.19" cy="316.68" r="3.00" fill="#440154"/>
<circle cx="31.14" cy="316.55" r="3.00" fill="#440154"/>
<circle cx="34.96" cy="312.24" r="3.00" fill="#440154"/>
<circle cx="30.75" cy="314.05" r="3.00" fill="#440154"/>
<circle cx="32.42" cy="312.81" r="3.00" fill="#440154"/>
<circle cx="32.82" cy="313.22" r="3.00" fill="#440154"/>
<circle cx="32.75" cy="313.56" r="3.00" fill="#440154"/>
<circle cx="29.62" cy="316.30" r="3.00" fill="#440154"/>
<circle cx="28.09" cy="314.52" r="3.00" fill="#440154"/>
<circle cx="26.85" cy="312.82" r="3.00" fill="#440154"/>
<circle cx="29.07" cy="311.65" r="3.00" fill="#440154"/>
<circle cx="26.81" cy="313.66" r="3.00" fill="#440154"/>
<circle cx="32.53" cy="313.52" r="3.00" fill="#440154"/>
<circle cx="33.23" cy="315.56" r="3.00" fill="#440154"/>
<circle cx="32.58" cy="316.60" r="3.00" fill="#440154"/>
<circle cx="32.54" cy="313.99" r="3.00" fill="#440154"/>
<circle cx="37.08" cy="317.96" r="3.00" fill="#440154"/>
<circle cx="30.45" cy="308.53" r="3.00" fill="#440154"/>
<circle cx="28.87" cy="307.72" r="3.00" fill="#440154"/>
<circle cx="28.38" cy="311.76" r="3.00" fill="#440154"/>
<circle cx="35.52" cy="325.03" r="3.00" fill="#440154"/>
<circle cx="35.51" cy="313.87" r="3.00" fill="#440154"/>
<circle cx="31.84" cy="317.27" r="3.00" fill="#440154"/>
<circle cx="30.48" cy="313.19" r="3.00" fill="#440154"/>
<circle cx="26.25" cy="312.66" r="3.00" fill="#440154"/>
<circle cx="33.46" cy="319.41" r="3.00" fill="#440154"/>
<circle cx="35.98" cy="309.14" r="3.00" fill="#440154"/>
<circle cx="28.73" cy="311.45" r="3.00" fill="#440154"/>
<circle cx="31.29" cy="315.55" r="3.00" fill="#440154"/>
<circle cx="37.63" cy="314.85" r="3.00" fill="#440154"/>
<circle cx="33.48" cy="326.39" r="3.00" fill="#440154"/>
<circle cx="38.58" cy="323.63" r="3.00" fill="#440154"/>
<circle cx="33.95" cy="320.54" r="3.00" fill="#440154"/>
<circle cx="39.39" cy="320.31" r="3.00" fill="#440154"/>
<circle cx="35.91" cy="322.07" r="3.00" fill="#440154"/>
<circle cx="32.51" cy="317.77" r="3.00" fill="#440154"/>
<circle cx="31.46" cy="326.66" r="3.00" fill="#440154"/>
<circle cx="33.68" cy="311.70" r="3.00" fill="#440154"/>
<circle cx="26.96" cy="311.91" r="3.00" fill="#440154"/>
<circle cx="35.46" cy="320.60" r="3.00" fill="#440154"/>
<circle cx="33.50" cy="318.30" r="3.00" fill="#440154"/>
<circle cx="30.08" cy="310.58" r="3.00" fill="#440154"/>
<circle cx="31.72" cy="305.22" r="3.00" fill="#440154"/>
<circle cx="30.13" cy="316.14" r="3.00" fill="#440154"/>
<circle cx="39.24" cy="318.53" r="3.00" fill="#440154"/>
<circle cx="37.49" cy="314.92" r="3.00" fill="#440154"/>
<circle cx="28.27" cy="311.52" r="3.00" fill="#440154"/>
<circle cx="33.61" cy="320.43" r="3.00" fill="#440154"/>
<circle cx="30.64" cy="311.25" r="3.00" fill="#440154"/>
<circle cx="36.93" cy="325.62" r="3.00" fill="#440154"/>
<circle cx="30.39" cy="315.14" r="3.00" fill="#440154"/>
<circle cx="33.64" cy="309.22" r="3.00" fill="#440154"/>
<circle cx="37.66" cy="321.09" r="3.00" fill="#440154"/>
<circle cx="31.45" cy="309.86" r="3.00" fill="#440154"/>
<circle cx="35.52" cy="309.59" r="3.00" fill="#440154"/>
<circle cx="30.56" cy="323.10" r="3.00" fill="#440154"/>
<circle cx="32.39" cy="327.21" r="3.00" fill="#440154"/>
<circle cx="31.25" cy="309.48" r="3.00" fill="#440154"/>
<circle cx="28.94" cy="315.37" r="3.00" fill="#440154"/>
<circle cx="37.02" cy="326.16" r="3.00" fill="#440154"/>
<circle cx="27.86" cy="315.04" r="3.00" fill="#440154"/>
<circle cx="26.78" cy="315.27" r="3.00" fill="#440154"/>
<circle cx="37.39" cy="311.51" r="3.00" fill="#440154"/>
<circle cx="34.28" cy="313.33" r="3.00" fill="#440154"/>
<circle cx="30.42" cy="313.05" r="3.00" fill="#440154"/>
<circle cx="29.33" cy="313.74" r="3.00" fill="#440154"/>
<circle cx="32.54" cy="324.12" r="3.00" fill="#440154"/>
<circle cx="36.51" cy="314.12" r="3.00" fill="#440154"/>
<circle cx="27.03" cy="317.10" r="3.00" fill="#440154"/>
<circle cx="33.21" cy="326.28" r="3.00" fill="#440154"/>
<circle cx="28.31" cy="314.26" r="3.00" fill="#440154"/>
<circle cx="33.17" cy="323.75" r="3.00" fill="#440154"/>
<circle cx="36.90" cy="309.92" r="3.00" fill="#440154"/>
<circle cx="37.80" cy="324.81" r="3.00" fill="#440154"/>
<circle cx="29.70" cy="311.81" r="3.00" fill="#440154"/>
<circle cx="39.09" cy="317.91" r="3.00" fill="#440154"/>
<circle cx="30.86" cy="322.01" r="3.00" fill="#440154"/>
<circle cx="29.43" cy="311.94" r="3.00" fill="#440154"/>
<circle cx="38.65" cy="318.41" r="3.00" fill="#440154"/>
<circle cx="29.35" cy="316.65" r="3.00" fill="#440154"/>
<circle cx="30.19" cy="311.20" r="3.00" fill="#440154"/>
<circle cx="31.89" cy="316.54" r="3.00" fill="#440154"/>
<circle cx="37.73" cy="321.06" r="3.00" fill="#440154"/>
<circle cx="38.15" cy="321.78" r="3.00" fill="#440154"/>
<circle cx="33.32" cy="312.34" r="3.00" fill="#440154"/>
<circle cx="29.88" cy="313.87" r="3.00" fill="#440154"/>
<circle cx="30.22" cy="322.99" r="3.00" fill="#440154"/>
<circle cx="27.22" cy="318.92" r="3.00" fill="#440154"/>
<circle cx="27.87" cy="307.77" r="3.00" fill="#440154"/>
<circle cx="27.74" cy="317.54" r="3.00" fill="#440154"/>
<circle cx="35.17" cy="314.75" r="3.00" fill="#440154"/>
<circle cx="29.07" cy="315.34" r="3.00" fill="#440154"/>
<circle cx="35.14" cy="320.10" r="3.00" fill="#440154"/>
<circle cx="37.56" cy="323.65" r="3.00" fill="#440154"/>
<circle cx="33.05" cy="307.54" r="3.00" fill="#440154"/>
<circle cx="36.08" cy="310.95" r="3.00" fill="#440154"/>
<circle cx="33.03" cy="313.46" r="3.00" fill="#440154"/>
<circle cx="34.34" cy="309.10" r="3.00" fill="#440154"/>
<circle cx="28.42" cy="311.44" r="3.00" fill="#440154"/>
<circle cx="32.95" cy="312.38" r="3.00" fill="#440154"/>
<circle cx="31.61" cy="310.44" r="3.00" fill="#440154"/>
<circle cx="37.39" cy="319.13" r="3.00" fill="#440154"/>
<circle cx="34.01" cy="323.75" r="3.00" fill="#440154"/>
<circle cx="26.55" cy="310.53" r="3.00" fill="#440154"/>
<circle cx="39.12" cy="317.11" r="3.00" fill="#440154"/>
<circle cx="37.57" cy="312.48" r="3.00" fill="#440154"/>
<circle cx="37.14" cy="314.38" r="3.00" fill="#440154"/>
<circle cx="31.12" cy="323.39" r="3.00" fill="#440154"/>
<circle cx="34.58" cy="318.94" r="3.00" fill="#440154"/>
<circle cx="28.64" cy="314.30" r="3.00" fill="#440154"/>
<circle cx="26.89" cy="310.79" r="3.00" fill="#440154"/>
<circle cx="30.21" cy="319.39" r="3.00" fill="#440154"/>
<circle cx="33.28" cy="309.42" r="3.00" fill="#440154"/>
<circle cx="33.53" cy="308.94" r="3.00" fill="#440154"/>
<circle cx="29.03" cy="310.33" r="3.00" fill="#440154"/>
<circle cx="36.73" cy="316.80" r="3.00" fill="#440154"/>
<circle cx="31.73" cy="317.91" r="3.00" fill="#440154"/>
<circle cx="32.59" cy="306.93" r="3.00" fill="#440154"/>
<circle cx="29.52" cy="321.79" r="3.00" fill="#440154"/>
<circle cx="30.63" cy="311.86" r="3.00" fill="#440154"/>
<circle cx="32.56" cy="327.21" r="3.00" fill="#440154"/>
<circle cx="30.77" cy="318.50" r="3.00" fill="#440154"/>
<circle cx="30.61" cy="315.00" r="3.00" fill="#440154"/>
<circle cx="29.65" cy="310.05" r="3.00" fill="#440154"/>
<circle cx="34.24" cy="309.23" r="3.00" fill="#440154"/>
<circle cx="33.38" cy="323.91" r="3.00" fill="#440154"/>
<circle cx="33.46" cy="325.36" r="3.00" fill="#440154"/>
<circle cx="112.77" cy="323.67" r="3.00" fill="#28ac81"/>
<circle cx="117.89" cy="325.06" r="3.00" fill="#36b678"/>
<circle cx="116.54" cy="325.19" r="3.00" fill="#6fcd58"/>
<circle cx="113.09" cy="323.85" r="3.00" fill="#32b37b"/>
<circle cx="114.46" cy="324.96" r="3.00" fill="#5cc762"/>
<circle cx="110.96" cy="331.46" r="3.00" fill="#2eb07d"/>
<circle cx="111.04" cy="331.95" r="3.00" fill="#22a685"/>
<circle cx="110.19" cy="335.53" r="3.00" fill="#21918c"/>
<circle cx="111.12" cy="332.43" r="3.00" fill="#22a585"/>
<circle cx="111.91" cy="334.04" r="3.00" fill="#3fbc73"/>
<circle cx="115.09" cy="343.21" r="3.00" fill="#47c06e"/>
<circle cx="115.53" cy="343.04" r="3.00" fill="#39b876"/>
<circle cx="115.46" cy="341.79" r="3.00" fill="#54c467"/>
<circle cx="115.16" cy="340.72" r="3.00" fill="#6ecd58"/>
<circle cx="115.71" cy="344.52" r="3.00" fill="#22a485"/>
<circle cx="111.42" cy="334.08" r="3.00" fill="#2eb07d"/>
<circle cx="110.91" cy="335.10" r="3.00" fill="#22a485"/>
<circle cx="109.95" cy="334.85" r="3.00" fill="#21918c"/>
<circle cx="112.19" cy="335.35" r="3.00" fill="#41bd72"/>
<circle cx="114.93" cy="334.40" r="3.00" fill="#a4da36"/>
<circle cx="113.94" cy="333.11" r="3.00" fill="#93d641"/>
<circle cx="112.79" cy="333.94" r="3.00" fill="#65ca5d"/>
<circle cx="112.01" cy="335.28" r="3.00" fill="#55c566"/>
<circle cx="112.24" cy="332.91" r="3.00" fill="#64ca5e"/>
<circle cx="113.65" cy="333.00" r="3.00" fill="#8dd545"/>
<circle cx="112.66" cy="327.01" r="3.00" fill="#3fbc73"/>
<circle cx="113.03" cy="327.88" r="3.00" fill="#64ca5d"/>
<circle cx="112.76" cy="327.31" r="3.00" fill="#41bd72"/>
<circle cx="110.76" cy="324.05" r="3.00" fill="#21918c"/>
<circle cx="112.00" cy="327.65" r="3.00" fill="#40bc72"/>
<circle cx="114.48" cy="342.53" r="3.00" fill="#32b37a"/>
<circle cx="114.28" cy="343.08" r="3.00" fill="#41bd72"/>
<circle cx="114.99" cy="344.85" r="3.00" fill="#22a087"/>
<circle cx="114.87" cy="343.45" r="3.00" fill="#3dba74"/>
<circle cx="114.96" cy="342.88" r="3.00" fill="#45bf6f"/>
<circle cx="112.29" cy="331.20" r="3.00" fill="#5ec861"/>
<circle cx="112.20" cy="333.52" r="3.00" fill="#5cc762"/>
<circle cx="112.65" cy="329.38" r="3.00" fill="#4fc36a"/>
<circle cx="110.10" cy="335.80" r="3.00" fill="#21918c"/>
<circle cx="112.31" cy="331.09" r="3.00" fill="#63c95e"/>
<circle cx="112.09" cy="321.55" r="3.00" fill="#22a386"/>
<circle cx="114.14" cy="322.89" r="3.00" fill="#32b37a"/>
<circle cx="113.23" cy="324.08" r="3.00" fill="#44bf70"/>
<circle cx="111.44" cy="323.30" r="3.00" fill="#21968a"/>
<circle cx="110.52" cy="324.74" r="3.00" fill="#21918c"/>
<circle cx="114.47" cy="318.74" r="3.00" fill="#219b89"/>
<circle cx="114.41" cy="320.04" r="3.00" fill="#22a087"/>
<circle cx="115.37" cy="321.79" r="3.00" fill="#229d88"/>
<circle cx="115.96" cy="322.46" r="3.00" fill="#42bd71"/>
<circle cx="114.90" cy="320.59" r="3.00" fill="#229e87"/>
<circle cx="118.90" cy="330.66" r="3.00" fill="#3cba75"/>
<circle cx="117.75" cy="330.28" r="3.00" fill="#68cb5b"/>
<circle cx="118.70" cy="330.11" r="3.00" fill="#3bb975"/>
<circle cx="118.49" cy="329.54" r="3.00" fill="#59c664"/>
<circle cx="118.38" cy="329.30" r="3.00" fill="#5ac663"/>
<circle cx="118.70" cy="334.77" r="3.00" fill="#45bf70"/>
<circle cx="119.07" cy="334.50" r="3.00" fill="#2fb17d"/>
<circle cx="116.50" cy="337.57" r="3.00" fill="#86d449"/>
<circle cx="117.87" cy="335.50" r="3.00" fill="#73cf55"/>
<circle cx="117.26" cy="337.17" r="3.00" fill="#67cb5c"/>
<circle cx="118.12" cy="325.23" r="3.00" fill="#46c06f"/>
<circle cx="118.13" cy="324.40" r="3.00" fill="#30b27c"/>
<circle cx="119.53" cy="324.64" r="3.00" fill="#229f87"/>
<circle cx="119.05" cy="323.28" r="3.00" fill="#219b89"/>
<circle cx="121.06" cy="322.67" r="3.00" fill="#21918c"/>
<circle cx="116.67" cy="325.03" r="3.00" fill="#56c566"/>
<circle cx="116.36" cy="327.17" r="3.00" fill="#73cf55"/>
<circle cx="118.18" cy="325.08" r="3.00" fill="#44bf70"/>
<circle cx="115.77" cy="327.54" r="3.00" fill="#9fd939"/>
<circle cx="116.40" cy="327.36" r="3.00" fill="#8fd544"/>
<circle cx="113.07" cy="340.54" r="3.00" fill="#3ebb73"/>
<circle cx="115.26" cy="340.98" r="3.00" fill="#4fc36a"/>
<circle cx="115.68" cy="341.35" r="3.00" fill="#4fc36a"/>
<circle cx="113.08" cy="340.37" r="3.00" fill="#3bb975"/>
<circle cx="113.88" cy="340.54" r="3.00" fill="#57c565"/>
<circle cx="118.04" cy="326.18" r="3.00" fill="#58c665"/>
<circle cx="115.35" cy="326.01" r="3.00" fill="#67cb5c"/>
<circle cx="118.46" cy="325.72" r="3.00" fill="#30b27c"/>
<circle cx="118.49" cy="325.70" r="3.00" fill="#3ebb74"/>
<circle cx="117.95" cy="324.79" r="3.00" fill="#3cba75"/>
<circle cx="113.67" cy="330.98" r="3.00" fill="#94d640"/>
<circle cx="113.44" cy="329.21" r="3.00" fill="#80d24d"/>
<circle cx="114.36" cy="330.25" r="3.00" fill="#81d24d"/>
<circle cx="112.06" cy="330.46" r="3.00" fill="#58c664"/>
<circle cx="110.60" cy="328.65" r="3.00" fill="#21978a"/>
<circle cx="114.37" cy="329.44" r="3.00" fill="#7bd150"/>
<circle cx="115.32" cy="330.77" r="3.00" fill="#8ad447"/>
<circle cx="115.36" cy="329.92" r="3.00" fill="#a7da34"/>
<circle cx="114.82" cy="329.61" r="3.00" fill="#98d73e"/>
<circle cx="116.89" cy="329.69" r="3.00" fill="#6fcd57"/>
<circle cx="112.32" cy="324.38" r="3.00" fill="#33b47a"/>
<circle cx="112.23" cy="325.59" r="3.00" fill="#3fbc73"/>
<circle cx="111.25" cy="327.93" r="3.00" fill="#22a087"/>
<circle cx="113.37" cy="326.34" r="3.00" fill="#67cb5c"/>
<circle cx="111.02" cy="327.57" r="3.00" fill="#219b89"/>
<circle cx="117.84" cy="342.73" r="3.00" fill="#27ab81"/>
<circle cx="118.19" cy="340.66" r="3.00" fill="#3dba74"/>
<circle cx="117.55" cy="341.76" r="3.00" fill="#3fbc73"/>
<circle cx="115.51" cy="341.58" r="3.00" fill="#4ac16d"/>
<circle cx="113.44" cy="342.97" r="3.00" fill="#2daf7e"/>
<circle cx="114.25" cy="324.21" r="3.00" fill="#52c468"/>
<circle cx="116.30" cy="335.65" r="3.00" fill="#9ed93a"/>
<circle cx="116.21" cy="338.02" r="3.00" fill="#90d643"/>
<circle cx="111.60" cy="334.41" r="3.00" fill="#2aad7f"/>
<circle cx="113.58" cy="339.74" r="3.00" fill="#47c06e"/>
<circle cx="112.37" cy="325.58" r="3.00" fill="#32b37a"/>
<circle cx="117.26" cy="339.80" r="3.00" fill="#62c95f"/>
<circle cx="115.63" cy="340.02" r="3.00" fill="#56c566"/>
<circle cx="116.25" cy="327.67" r="3.00" fill="#96d73f"/>
<circle cx="117.31" cy="325.83" r="3.00" fill="#6ccc59"/>
<circle cx="113.72" cy="330.68" r="3.00" fill="#82d34c"/>
<circle cx="113.09" cy="337.37" r="3.00" fill="#62c95f"/>
<circle cx="114.21" cy="328.33" r="3.00" fill="#99d73d"/>
<circle cx="118.52" cy="332.77" r="3.00" fill="#5dc762"/>
<circle cx="117.52" cy="335.36" r="3.00" fill="#87d448"/>
<circle cx="111.55" cy="330.31" r="3.00" fill="#3cba75"/>
<circle cx="114.19" cy="338.75" r="3.00" fill="#70ce57"/>
<circle cx="113.59" cy="337.14" r="3.00" fill="#79d151"/>
<circle cx="115.63" cy="326.01" r="3.00" fill="#86d449"/>
<circle cx="117.82" cy="325.06" r="3.00" fill="#38b777"/>
<circle cx="111.25" cy="332.09" r="3.00" fill="#31b27b"/>
<circle cx="114.58" cy="339.31" r="3.00" fill="#7cd150"/>
<circle cx="112.61" cy="332.25" r="3.00" fill="#78d052"/>
<circle cx="113.44" cy="340.06" r="3.00" fill="#55c566"/>
<circle cx="113.70" cy="325.86" r="3.00" fill="#5dc762"/>
<circle cx="116.52" cy="332.54" r="3.00" fill="#acdb31"/>
<circle cx="111.88" cy="335.48" r="3.00" fill="#40bd72"/>
<circle cx="116.15" cy="339.17" r="3.00" fill="#5ec861"/>
<circle cx="116.14" cy="329.23" r="3.00" fill="#91d642"/>
<circle cx="114.38" cy="330.04" r="3.00" fill="#8cd546"/>
<circle cx="113.05" cy="326.94" r="3.00" fill="#60c860"/>
<circle cx="118.04" cy="332.69" r="3.00" fill="#75cf54"/>
<circle cx="113.62" cy="341.27" r="3.00" fill="#50c369"/>
<circle cx="113.03" cy="331.50" r="3.00" fill="#5cc762"/>
<circle cx="114.93" cy="338.36" r="3.00" fill="#7ed24f"/>
<circle cx="116.74" cy="335.96" r="3.00" fill="#92d642"/>
<circle cx="114.06" cy="328.46" r="3.00" fill="#73cf55"/>
<circle cx="111.97" cy="340.24" r="3.00" fill="#2aae7f"/>
<circle cx="115.94" cy="338.12" r="3.00" fill="#84d34a"/>
<circle cx="112.57" cy="330.96" r="3.00" fill="#54c467"/>
<circle cx="116.98" cy="334.43" r="3.00" fill="#9ed83a"/>
<circle cx="112.21" cy="331.48" r="3.00" fill="#44bf70"/>
<circle cx="118.24" cy="326.63" r="3.00" fill="#35b579"/>
<circle cx="112.90" cy="327.82" r="3.00" fill="#59c664"/>
<circle cx="116.13" cy="340.47" r="3.00" fill="#59c664"/>
<circle cx="112.79" cy="324.46" r="3.00" fill="#43bf70"/>
<circle cx="113.29" cy="328.42" r="3.00" fill="#81d24d"/>
<circle cx="115.58" cy="324.72" r="3.00" fill="#70ce57"/>
<circle cx="114.07" cy="325.29" r="3.00" fill="#4cc26c"/>
<circle cx="112.12" cy="329.68" r="3.00" fill="#49c16d"/>
<circle cx="116.85" cy="331.10" r="3.00" fill="#92d642"/>
<circle cx="112.53" cy="335.55" r="3.00" fill="#53c467"/>
<circle cx="112.37" cy="325.60" r="3.00" fill="#2aad7f"/>
<circle cx="114.71" cy="321.75" r="3.00" fill="#219c88"/>
<circle cx="113.88" cy="339.14" r="3.00" fill="#76d053"/>
<circle cx="116.47" cy="332.59" r="3.00" fill="#a6da35"/>
<circle cx="116.05" cy="331.71" r="3.00" fill="#b2dd2d"/>
<circle cx="112.16" cy="334.74" r="3.00" fill="#3dba74"/>
<circle cx="113.99" cy="338.00" r="3.00" fill="#62c95f"/>
<circle cx="118.18" cy="331.06" r="3.00" fill="#63c95e"/>
<circle cx="115.26" cy="338.25" r="3.00" fill="#84d34b"/>
<circle cx="114.73" cy="326.23" r="3.00" fill="#6ccc59"/>
<circle cx="116.23" cy="341.32" r="3.00" fill="#50c369"/>
<circle cx="116.84" cy="337.20" r="3.00" fill="#90d643"/>
<circle cx="117.46" cy="336.77" r="3.00" fill="#67cb5c"/>
<circle cx="116.13" cy="331.50" r="3.00" fill="#b1dc2e"/>
<circle cx="113.43" cy="335.37" r="3.00" fill="#65ca5d"/>
<circle cx="112.04" cy="330.49" r="3.00" fill="#39b777"/>
<circle cx="116.89" cy="337.51" r="3.00" fill="#7bd151"/>
<circle cx="116.28" cy="326.81" r="3.00" fill="#66ca5d"/>
<circle cx="114.47" cy="331.44" r="3.00" fill="#9dd83b"/>
<circle cx="116.03" cy="330.47" r="3.00" fill="#a0d939"/>
<circle cx="115.81" cy="342.45" r="3.00" fill="#4dc26b"/>
<circle cx="112.41" cy="335.92" r="3.00" fill="#52c468"/>
<circle cx="117.25" cy="330.05" r="3.00" fill="#88d448"/>
<circle cx="114.35" cy="343.40" r="3.00" fill="#37b678"/>
<circle cx="111.44" cy="333.31" r="3.00" fill="#37b678"/>
<circle cx="112.09" cy="338.84" r="3.00" fill="#31b27b"/>
<circle cx="118.32" cy="333.12" r="3.00" fill="#64ca5d"/>
<circle cx="111.88" cy="334.05" r="3.00" fill="#43be71"/>
<circle cx="115.05" cy="337.51" r="3.00" fill="#77d053"/>
<circle cx="114.92" cy="335.70" r="3.00" fill="#84d34b"/>
<circle cx="117.47" cy="333.13" r="3.00" fill="#7cd150"/>
<circle cx="113.78" cy="342.75" r="3.00" fill="#3dba74"/>
<circle cx="112.58" cy="336.62" r="3.00" fill="#46c06f"/>
<circle cx="113.87" cy="338.49" r="3.00" fill="#73cf55"/>
<circle cx="114.44" cy="322.26" r="3.00" fill="#42bd71"/>
<circle cx="113.41" cy="330.11" r="3.00" fill="#82d34c"/>
<circle cx="111.40" cy="330.44" r="3.00" fill="#3dba74"/>
<circle cx="114.16" cy="337.02" r="3.00" fill="#84d34b"/>
<circle cx="115.89" cy="317.39" r="3.00" fill="#229d88"/>
<circle cx="115.28" cy="321.67" r="3.00" fill="#21938b"/>
<circle cx="118.71" cy="319.74" r="3.00" fill="#22a585"/>
<circle cx="115.25" cy="322.21" r="3.00" fill="#50c369"/>
<circle cx="116.08" cy="316.91" r="3.00" fill="#21978a"/>
<circle cx="114.82" cy="321.99" r="3.00" fill="#21988a"/>
<circle cx="118.09" cy="320.71" r="3.00" fill="#229e87"/>
<circle cx="116.45" cy="320.06" r="3.00" fill="#21958a"/>
<circle cx="115.90" cy="320.75" r="3.00" fill="#21928c"/>
<circle cx="118.13" cy="322.35" r="3.00" fill="#24a983"/>
<circle cx="116.45" cy="317.65" r="3.00" fill="#21968a"/>
<circle cx="116.83" cy="316.13" r="3.00" fill="#22a884"/>
<circle cx="118.20" cy="318.19" r="3.00" fill="#229e87"/>
<circle cx="118.28" cy="317.41" r="3.00" fill="#22a286"/>
<circle cx="116.01" cy="317.28" r="3.00" fill="#21938b"/>
<circle cx="116.25" cy="316.67" r="3.00" fill="#21928c"/>
<circle cx="164.00" cy="288.50" r="3.00" fill="#287d8e"/>
<circle cx="167.50" cy="291.50" r="3.00" fill="#287d8e"/>
<circle cx="204.50" cy="333.73" r="3.00" fill="#440154"/>
<circle cx="174.73" cy="328.28" r="3.00" fill="#46085c"/>
<circle cx="218.14" cy="322.49" r="3.00" fill="#440154"/>
<circle cx="154.10" cy="334.34" r="3.00" fill="#440154"/>
<circle cx="193.10" cy="339.08" r="3.00" fill="#440154"/>
<circle cx="191.15" cy="317.06" r="3.00" fill="#46085c"/>
<circle cx="190.30" cy="338.29" r="3.00" fill="#440154"/>
<circle cx="167.11" cy="346.64" r="3.00" fill="#440154"/>
<circle cx="160.08" cy="295.67" r="3.00" fill="#440154"/>
<circle cx="157.42" cy="301.24" r="3.00" fill="#440154"/>
<circle cx="186.84" cy="315.74" r="3.00" fill="#440154"/>
<circle cx="138.02" cy="330.87" r="3.00" fill="#440154"/>
<circle cx="153.70" cy="338.54" r="3.00" fill="#440154"/>
<circle cx="187.94" cy="316.28" r="3.00" fill="#46085c"/>
<circle cx="200.14" cy="338.84" r="3.00" fill="#440154"/>
<circle cx="188.41" cy="332.88" r="3.00" fill="#440154"/>
<circle cx="179.91" cy="341.64" r="3.00" fill="#46085c"/>
<circle cx="173.07" cy="327.83" r="3.00" fill="#440154"/>
<circle cx="185.42" cy="312.79" r="3.00" fill="#46085c"/>
<circle cx="170.78" cy="315.55" r="3.00" fill="#440154"/>
<circle cx="138.40" cy="333.42" r="3.00" fill="#440154"/>
<circle cx="184.12" cy="312.09" r="3.00" fill="#440154"/>
<circle cx="182.96" cy="336.95" r="3.00" fill="#440154"/>
<circle cx="198.60" cy="313.80" r="3.00" fill="#46085c"/>
<circle cx="187.89" cy="336.77" r="3.00" fill="#440154"/>
<circle cx="191.55" cy="321.75" r="3.00" fill="#440154"/>
<circle cx="217.39" cy="316.96" r="3.00" fill="#440154"/>
<circle cx="169.45" cy="325.78" r="3.00" fill="#440154"/>
<circle cx="192.84" cy="334.85" r="3.00" fill="#440154"/>
<circle cx="168.70" cy="314.12" r="3.00" fill="#440154"/>
<circle cx="189.64" cy="348.69" r="3.00" fill="#440154"/>
<circle cx="174.77" cy="309.62" r="3.00" fill="#440154"/>
<circle cx="203.23" cy="340.22" r="3.00" fill="#440154"/>
<circle cx="200.73" cy="337.07" r="3.00" fill="#440154"/>
<circle cx="162.67" cy="291.04" r="3.00" fill="#440154"/>
<circle cx="202.70" cy="350.90" r="3.00" fill="#440154"/>
<circle cx="204.47" cy="326.59" r="3.00" fill="#440154"/>
<circle cx="186.78" cy="342.87" r="3.00" fill="#46085c"/>
<circle cx="172.20" cy="330.11" r="3.00" fill="#440154"/>
<circle cx="139.95" cy="332.40" r="3.00" fill="#440154"/>
<circle cx="133.19" cy="332.81" r="3.00" fill="#440154"/>
<circle cx="168.19" cy="319.68" r="3.00" fill="#440154"/>
<circle cx="191.27" cy="318.59" r="3.00" fill="#46085c"/>
<circle cx="220.36" cy="322.27" r="3.00" fill="#440154"/>
<circle cx="160.38" cy="318.85" r="3.00" fill="#440154"/>
<circle cx="179.02" cy="349.18" r="3.00" fill="#440154"/>
<circle cx="196.52" cy="312.47" r="3.00" fill="#440154"/>
<circle cx="160.60" cy="337.45" r="3.00" fill="#46085c"/>
<circle cx="191.87" cy="334.77" r="3.00" fill="#440154"/>
<circle cx="200.07" cy="338.33" r="3.00" fill="#440154"/>
<circle cx="204.11" cy="340.13" r="3.00" fill="#440154"/>
<circle cx="190.26" cy="316.88" r="3.00" fill="#440154"/>
<circle cx="158.33" cy="346.21" r="3.00" fill="#440154"/>
<circle cx="169.07" cy="295.10" r="3.00" fill="#440154"/>
<circle cx="190.13" cy="333.49" r="3.00" fill="#46085c"/>
<circle cx="205.41" cy="338.83" r="3.00" fill="#440154"/>
<circle cx="167.08" cy="293.75" r="3.00" fill="#440154"/>
<circle cx="147.67" cy="317.99" r="3.00" fill="#46085c"/>
<circle cx="159.89" cy="334.61" r="3.00" fill="#440154"/>
<circle cx="147.91" cy="315.39" r="3.00" fill="#440154"/>
<circle cx="139.10" cy="331.21" r="3.00" fill="#46085c"/>
<circle cx="202.81" cy="337.10" r="3.00" fill="#440154"/>
<circle cx="161.09" cy="339.84" r="3.00" fill="#440154"/>
<circle cx="136.70" cy="331.18" r="3.00" fill="#440154"/>
<circle cx="194.70" cy="341.28" r="3.00" fill="#440154"/>
<circle cx="200.76" cy="331.19" r="3.00" fill="#440154"/>
<circle cx="214.07" cy="322.47" r="3.00" fill="#440154"/>
<circle cx="161.73" cy="328.53" r="3.00" fill="#440154"/>
<circle cx="161.99" cy="293.91" r="3.00" fill="#440154"/>
<circle cx="149.20" cy="296.62" r="3.00" fill="#440154"/>
<circle cx="192.41" cy="346.40" r="3.00" fill="#440154"/>
<circle cx="176.27" cy="339.31" r="3.00" fill="#46085c"/>
<circle cx="197.05" cy="317.91" r="3.00" fill="#440154"/>
<circle cx="140.16" cy="337.45" r="3.00" fill="#440154"/>
<circle cx="191.88" cy="345.57" r="3.00" fill="#440154"/>
<circle cx="155.02" cy="344.21" r="3.00" fill="#440154"/>
<circle cx="156.56" cy="304.88" r="3.00" fill="#440154"/>
<circle cx="169.49" cy="326.07" r="3.00" fill="#440154"/>
<circle cx="164.85" cy="323.23" r="3.00" fill="#440154"/>
<circle cx="193.26" cy="341.52" r="3.00" fill="#440154"/>
<circle cx="190.60" cy="340.83" r="3.00" fill="#440154"/>
<circle cx="157.51" cy="315.70" r="3.00" fill="#440154"/>
<circle cx="196.46" cy="310.69" r="3.00" fill="#46085c"/>
<circle cx="146.17" cy="317.08" r="3.00" fill="#440154"/>
<circle cx="205.06" cy="327.97" r="3.00" fill="#46085c"/>
<circle cx="161.18" cy="296.67" r="3.00" fill="#440154"/>
<circle cx="136.66" cy="335.44" r="3.00" fill="#440154"/>
<circle cx="149.94" cy="334.93" r="3.00" fill="#440154"/>
<circle cx="201.86" cy="336.39" r="3.00" fill="#440154"/>
<circle cx="192.14" cy="310.77" r="3.00" fill="#46085c"/>
<circle cx="180.33" cy="324.36" r="3.00" fill="#46085c"/>
<circle cx="159.98" cy="295.37" r="3.00" fill="#440154"/>
<circle cx="199.62" cy="346.62" r="3.00" fill="#46085c"/>
<circle cx="174.52" cy="332.93" r="3.00" fill="#440154"/>
<circle cx="203.52" cy="341.54" r="3.00" fill="#46085c"/>
<circle cx="187.00" cy="334.88" r="3.00" fill="#440154"/>
<circle cx="188.52" cy="341.56" r="3.00" fill="#440154"/>
<circle cx="190.16" cy="340.94" r="3.00" fill="#440154"/>
<circle cx="162.04" cy="306.13" r="3.00" fill="#440154"/>
<circle cx="174.81" cy="327.09" r="3.00" fill="#46085c"/>
<circle cx="219.40" cy="319.81" r="3.00" fill="#440154"/>
<circle cx="177.23" cy="323.28" r="3.00" fill="#440154"/>
<circle cx="182.00" cy="318.19" r="3.00" fill="#440154"/>
<circle cx="156.28" cy="318.91" r="3.00" fill="#440154"/>
<circle cx="196.84" cy="319.65" r="3.00" fill="#440154"/>
<circle cx="212.09" cy="323.37" r="3.00" fill="#440154"/>
<circle cx="201.65" cy="331.56" r="3.00" fill="#440154"/>
<circle cx="174.46" cy="316.45" r="3.00" fill="#440154"/>
<circle cx="200.90" cy="332.24" r="3.00" fill="#440154"/>
<circle cx="155.86" cy="332.98" r="3.00" fill="#440154"/>
<circle cx="161.18" cy="296.01" r="3.00" fill="#440154"/>
<circle cx="204.83" cy="339.99" r="3.00" fill="#440154"/>
<circle cx="170.45" cy="314.12" r="3.00" fill="#440154"/>
<circle cx="194.67" cy="339.12" r="3.00" fill="#440154"/>
<circle cx="152.04" cy="300.27" r="3.00" fill="#440154"/>
<circle cx="142.16" cy="334.04" r="3.00" fill="#440154"/>
<circle cx="184.92" cy="319.68" r="3.00" fill="#46085c"/>
<circle cx="184.09" cy="344.75" r="3.00" fill="#440154"/>
<circle cx="175.41" cy="340.46" r="3.00" fill="#440154"/>
<circle cx="161.56" cy="329.15" r="3.00" fill="#46085c"/>
<circle cx="174.78" cy="313.25" r="3.00" fill="#440154"/>
<circle cx="175.68" cy="342.31" r="3.00" fill="#440154"/>
<circle cx="196.02" cy="344.92" r="3.00" fill="#440154"/>
<circle cx="190.23" cy="339.42" r="3.00" fill="#440154"/>
<circle cx="200.01" cy="321.22" r="3.00" fill="#440154"/>
<circle cx="190.06" cy="347.13" r="3.00" fill="#440154"/>
<circle cx="189.56" cy="331.13" r="3.00" fill="#440154"/>
<circle cx="189.58" cy="321.36" r="3.00" fill="#440154"/>
<circle cx="184.96" cy="338.31" r="3.00" fill="#440154"/>
<circle cx="187.50" cy="344.75" r="3.00" fill="#440154"/>
<circle cx="144.90" cy="334.82" r="3.00" fill="#440154"/>
<circle cx="195.04" cy="346.86" r="3.00" fill="#440154"/>
<circle cx="189.27" cy="315.86" r="3.00" fill="#440154"/>
<circle cx="173.61" cy="335.25" r="3.00" fill="#440154"/>
<circle cx="163.84" cy="316.63" r="3.00" fill="#440154"/>
<circle cx="206.26" cy="332.15" r="3.00" fill="#440154"/>
<circle cx="193.76" cy="346.13" r="3.00" fill="#440154"/>
<circle cx="191.32" cy="324.54" r="3.00" fill="#440154"/>
<circle cx="136.70" cy="329.74" r="3.00" fill="#440154"/>
<circle cx="198.02" cy="348.26" r="3.00" fill="#440154"/>
<circle cx="220.76" cy="322.18" r="3.00" fill="#440154"/>
<circle cx="163.18" cy="328.26" r="3.00" fill="#440154"/>
<circle cx="180.57" cy="347.88" r="3.00" fill="#46085c"/>
<circle cx="197.30" cy="341.18" r="3.00" fill="#440154"/>
<circle cx="198.04" cy="320.73" r="3.00" fill="#440154"/>
<circle cx="171.62" cy="311.37" r="3.00" fill="#440154"/>
<circle cx="198.37" cy="346.93" r="3.00" fill="#440154"/>
<circle cx="217.42" cy="318.52" r="3.00" fill="#46085c"/>
<circle cx="148.99" cy="330.76" r="3.00" fill="#440154"/>
<circle cx="177.03" cy="316.25" r="3.00" fill="#440154"/>
<circle cx="208.63" cy="331.25" r="3.00" fill="#46085c"/>
<circle cx="188.86" cy="337.47" r="3.00" fill="#440154"/>
<circle cx="185.52" cy="337.34" r="3.00" fill="#440154"/>
<circle cx="213.52" cy="326.02" r="3.00" fill="#440154"/>
<circle cx="188.15" cy="339.03" r="3.00" fill="#440154"/>
<circle cx="202.14" cy="351.04" r="3.00" fill="#46085c"/>
<circle cx="217.04" cy="321.79" r="3.00" fill="#440154"/>
<circle cx="206.63" cy="340.96" r="3.00" fill="#440154"/>
<circle cx="154.76" cy="339.76" r="3.00" fill="#440154"/>
<circle cx="195.69" cy="341.04" r="3.00" fill="#440154"/>
<circle cx="202.25" cy="319.13" r="3.00" fill="#46085c"/>
<circle cx="157.53" cy="323.67" r="3.00" fill="#46085c"/>
<circle cx="183.28" cy="338.05" r="3.00" fill="#46085c"/>
<circle cx="222.72" cy="319.44" r="3.00" fill="#440154"/>
<circle cx="225.42" cy="322.51" r="3.00" fill="#440154"/>
<circle cx="188.44" cy="345.01" r="3.00" fill="#46085c"/>
<circle cx="204.34" cy="321.85" r="3.00" fill="#46085c"/>
<circle cx="202.66" cy="350.50" r="3.00" fill="#440154"/>
<circle cx="165.45" cy="312.62" r="3.00" fill="#46085c"/>
<circle cx="183.36" cy="320.39" r="3.00" fill="#440154"/>
<circle cx="168.08" cy="294.07" r="3.00" fill="#46085c"/>
<circle cx="173.34" cy="315.37" r="3.00" fill="#46085c"/>
<circle cx="160.67" cy="322.20" r="3.00" fill="#440154"/>
<circle cx="203.60" cy="316.84" r="3.00" fill="#440154"/>
<circle cx="145.52" cy="338.08" r="3.00" fill="#46085c"/>
<circle cx="171.69" cy="315.25" r="3.00" fill="#46085c"/>
<circle cx="197.58" cy="343.36" r="3.00" fill="#440154"/>
<circle cx="178.16" cy="309.13" r="3.00" fill="#440154"/>
<circle cx="158.01" cy="334.88" r="3.00" fill="#440154"/>
<circle cx="165.37" cy="330.73" r="3.00" fill="#440154"/>
<circle cx="174.03" cy="331.77" r="3.00" fill="#440154"/>
<circle cx="207.44" cy="331.39" r="3.00" fill="#440154"/>
<circle cx="171.35" cy="337.08" r="3.00" fill="#46085c"/>
<circle cx="181.25" cy="318.26" r="3.00" fill="#46085c"/>
<circle cx="187.62" cy="331.56" r="3.00" fill="#440154"/>
<circle cx="199.17" cy="323.36" r="3.00" fill="#440154"/>
<circle cx="198.64" cy="322.57" r="3.00" fill="#440154"/>
<circle cx="161.39" cy="338.66" r="3.00" fill="#440154"/>
<circle cx="170.46" cy="336.69" r="3.00" fill="#440154"/>
<circle cx="223.23" cy="323.39" r="3.00" fill="#46085c"/>
<circle cx="185.67" cy="316.85" r="3.00" fill="#440154"/>
<circle cx="183.43" cy="317.99" r="3.00" fill="#46085c"/>
<circle cx="141.10" cy="334.60" r="3.00" fill="#440154"/>
<circle cx="173.76" cy="332.59" r="3.00" fill="#440154"/>
<circle cx="164.56" cy="317.90" r="3.00" fill="#46085c"/>
<circle cx="192.17" cy="333.68" r="3.00" fill="#440154"/>
<circle cx="160.71" cy="340.08" r="3.00" fill="#440154"/>
<circle cx="179.55" cy="336.81" r="3.00" fill="#440154"/>
<circle cx="159.06" cy="298.28" r="3.00" fill="#440154"/>
<circle cx="152.83" cy="296.13" r="3.00" fill="#440154"/>
<circle cx="162.84" cy="294.91" r="3.00" fill="#440154"/>
<circle cx="172.48" cy="343.70" r="3.00" fill="#440154"/>
<circle cx="189.15" cy="340.94" r="3.00" fill="#46085c"/>
<circle cx="219.46" cy="323.75" r="3.00" fill="#440154"/>
<circle cx="187.17" cy="321.11" r="3.00" fill="#46085c"/>
<circle cx="152.69" cy="333.67" r="3.00" fill="#46085c"/>
<circle cx="195.86" cy="347.74" r="3.00" fill="#440154"/>
<circle cx="162.49" cy="296.91" r="3.00" fill="#440154"/>
<circle cx="168.56" cy="342.58" r="3.00" fill="#46085c"/>
<circle cx="157.44" cy="327.67" r="3.00" fill="#440154"/>
<circle cx="137.01" cy="330.99" r="3.00" fill="#440154"/>
<circle cx="173.11" cy="321.93" r="3.00" fill="#440154"/>
<circle cx="167.52" cy="326.06" r="3.00" fill="#440154"/>
<circle cx="145.06" cy="334.30" r="3.00" fill="#440154"/>
<circle cx="187.21" cy="321.82" r="3.00" fill="#440154"/>
<circle cx="186.80" cy="325.50" r="3.00" fill="#440154"/>
<circle cx="159.69" cy="294.45" r="3.00" fill="#46085c"/>
<circle cx="201.87" cy="323.80" r="3.00" fill="#46085c"/>
<circle cx="193.32" cy="332.13" r="3.00" fill="#440154"/>
<circle cx="198.93" cy="339.99" r="3.00" fill="#440154"/>
<circle cx="167.68" cy="341.23" r="3.00" fill="#440154"/>
<circle cx="198.20" cy="312.15" r="3.00" fill="#440154"/>
<circle cx="147.61" cy="316.96" r="3.00" fill="#46085c"/>
<circle cx="190.86" cy="318.14" r="3.00" fill="#440154"/>
<circle cx="180.55" cy="310.87" r="3.00" fill="#440154"/>
<circle cx="173.25" cy="332.83" r="3.00" fill="#46085c"/>
<circle cx="173.58" cy="319.71" r="3.00" fill="#440154"/>
<circle cx="166.85" cy="348.26" r="3.00" fill="#440154"/>
<circle cx="166.70" cy="345.71" r="3.00" fill="#440154"/>
<circle cx="187.09" cy="332.05" r="3.00" fill="#46085c"/>
<circle cx="210.58" cy="319.89" r="3.00" fill="#440154"/>
<circle cx="176.54" cy="313.27" r="3.00" fill="#440154"/>
<circle cx="173.23" cy="312.30" r="3.00" fill="#440154"/>
<circle cx="183.31" cy="331.82" r="3.00" fill="#440154"/>
<circle cx="170.57" cy="341.06" r="3.00" fill="#440154"/>
<circle cx="195.17" cy="314.12" r="3.00" fill="#440154"/>
<circle cx="199.20" cy="349.93" r="3.00" fill="#46085c"/>
<circle cx="169.30" cy="333.06" r="3.00" fill="#440154"/>
<circle cx="184.59" cy="310.77" r="3.00" fill="#46085c"/>
<circle cx="200.60" cy="316.35" r="3.00" fill="#440154"/>
<circle cx="168.06" cy="341.05" r="3.00" fill="#440154"/>
<circle cx="188.85" cy="331.55" r="3.00" fill="#440154"/>
<circle cx="197.16" cy="344.22" r="3.00" fill="#46085c"/>
<circle cx="161.05" cy="295.07" r="3.00" fill="#440154"/>
<circle cx="168.88" cy="322.47" r="3.00" fill="#440154"/>
<circle cx="215.13" cy="322.17" r="3.00" fill="#440154"/>
<circle cx="182.53" cy="336.44" r="3.00" fill="#440154"/>
<circle cx="175.79" cy="333.84" r="3.00" fill="#440154"/>
<circle cx="200.14" cy="346.29" r="3.00" fill="#440154"/>
<circle cx="193.50" cy="346.13" r="3.00" fill="#46085c"/>
<circle cx="185.80" cy="332.56" r="3.00" fill="#440154"/>
<circle cx="182.08" cy="337.82" r="3.00" fill="#440154"/>
<circle cx="190.36" cy="330.61" r="3.00" fill="#440154"/>
<circle cx="190.56" cy="317.91" r="3.00" fill="#440154"/>
<circle cx="189.11" cy="339.08" r="3.00" fill="#46085c"/>
<circle cx="154.48" cy="338.20" r="3.00" fill="#440154"/>
<circle cx="167.77" cy="326.59" r="3.00" fill="#440154"/>
<circle cx="172.02" cy="329.06" r="3.00" fill="#46085c"/>
<circle cx="174.26" cy="311.85" r="3.00" fill="#440154"/>
<circle cx="183.42" cy="320.09" r="3.00" fill="#46085c"/>
<circle cx="187.81" cy="305.55" r="3.00" fill="#440154"/>
<circle cx="168.33" cy="336.68" r="3.00" fill="#440154"/>
<circle cx="158.19" cy="335.00" r="3.00" fill="#440154"/>
<circle cx="182.28" cy="338.11" r="3.00" fill="#46085c"/>
<circle cx="168.42" cy="345.20" r="3.00" fill="#440154"/>
<circle cx="152.57" cy="296.78" r="3.00" fill="#440154"/>
<circle cx="150.11" cy="336.81" r="3.00" fill="#46085c"/>
<circle cx="176.83" cy="325.24" r="3.00" fill="#440154"/>
<circle cx="189.03" cy="326.79" r="3.00" fill="#440154"/>
<circle cx="189.44" cy="314.15" r="3.00" fill="#440154"/>
<circle cx="166.38" cy="316.41" r="3.00" fill="#440154"/>
<circle cx="179.18" cy="327.18" r="3.00" fill="#46085c"/>
<circle cx="182.25" cy="336.58" r="3.00" fill="#440154"/>
<circle cx="162.14" cy="312.26" r="3.00" fill="#440154"/>
<circle cx="168.58" cy="293.48" r="3.00" fill="#46085c"/>
<circle cx="225.89" cy="323.23" r="3.00" fill="#440154"/>
<circle cx="159.64" cy="323.99" r="3.00" fill="#440154"/>
<circle cx="166.41" cy="325.73" r="3.00" fill="#440154"/>
<circle cx="200.65" cy="350.63" r="3.00" fill="#440154"/>
<circle cx="205.82" cy="331.52" r="3.00" fill="#440154"/>
<circle cx="154.81" cy="340.44" r="3.00" fill="#440154"/>
<circle cx="143.45" cy="333.53" r="3.00" fill="#440154"/>
<circle cx="163.01" cy="315.62" r="3.00" fill="#46085c"/>
<circle cx="164.08" cy="315.31" r="3.00" fill="#46085c"/>
<circle cx="172.05" cy="339.13" r="3.00" fill="#46085c"/>
<circle cx="177.66" cy="329.97" r="3.00" fill="#440154"/>
<circle cx="171.55" cy="316.63" r="3.00" fill="#440154"/>
<circle cx="197.14" cy="340.72" r="3.00" fill="#440154"/>
<circle cx="187.81" cy="330.71" r="3.00" fill="#440154"/>
<circle cx="155.40" cy="298.55" r="3.00" fill="#440154"/>
<circle cx="205.96" cy="328.70" r="3.00" fill="#46085c"/>
<circle cx="162.52" cy="296.23" r="3.00" fill="#440154"/>
<circle cx="171.12" cy="335.21" r="3.00" fill="#440154"/>
<circle cx="162.51" cy="325.72" r="3.00" fill="#440154"/>
<circle cx="180.40" cy="343.01" r="3.00" fill="#440154"/>
<circle cx="188.97" cy="338.94" r="3.00" fill="#440154"/>
<circle cx="175.72" cy="327.86" r="3.00" fill="#440154"/>
<circle cx="215.19" cy="324.10" r="3.00" fill="#440154"/>
<circle cx="169.99" cy="326.38" r="3.00" fill="#46085c"/>
<circle cx="188.86" cy="321.49" r="3.00" fill="#440154"/>
<circle cx="222.10" cy="325.58" r="3.00" fill="#440154"/>
<circle cx="160.63" cy="313.87" r="3.00" fill="#46085c"/>
<circle cx="197.51" cy="318.21" r="3.00" fill="#46085c"/>
<circle cx="156.82" cy="339.09" r="3.00" fill="#440154"/>
<circle cx="194.14" cy="313.33" r="3.00" fill="#440154"/>
<circle cx="198.78" cy="330.13" r="3.00" fill="#440154"/>
<circle cx="187.95" cy="340.46" r="3.00" fill="#440154"/>
<circle cx="190.66" cy="324.81" r="3.00" fill="#46085c"/>
<circle cx="187.90" cy="319.98" r="3.00" fill="#440154"/>
<circle cx="144.97" cy="334.07" r="3.00" fill="#440154"/>
<circle cx="192.70" cy="350.19" r="3.00" fill="#46085c"/>
<circle cx="147.71" cy="330.02" r="3.00" fill="#440154"/>
<circle cx="181.10" cy="343.65" r="3.00" fill="#440154"/>
<circle cx="202.28" cy="330.35" r="3.00" fill="#440154"/>
<circle cx="167.53" cy="333.94" r="3.00" fill="#440154"/>
<circle cx="205.31" cy="326.51" r="3.00" fill="#440154"/>
<circle cx="180.38" cy="325.22" r="3.00" fill="#440154"/>
<circle cx="170.51" cy="314.63" r="3.00" fill="#440154"/>
<circle cx="154.97" cy="319.59" r="3.00" fill="#46085c"/>
<circle cx="153.39" cy="300.03" r="3.00" fill="#440154"/>
<circle cx="142.51" cy="333.46" r="3.00" fill="#46085c"/>
<circle cx="195.21" cy="309.28" r="3.00" fill="#440154"/>
<circle cx="170.21" cy="321.98" r="3.00" fill="#440154"/>
<circle cx="198.83" cy="347.19" r="3.00" fill="#46085c"/>
<circle cx="162.98" cy="342.12" r="3.00" fill="#440154"/>
<circle cx="226.37" cy="322.59" r="3.00" fill="#46085c"/>
<circle cx="154.86" cy="326.64" r="3.00" fill="#440154"/>
<circle cx="155.79" cy="335.02" r="3.00" fill="#440154"/>
<circle cx="162.10" cy="306.73" r="3.00" fill="#46085c"/>
<circle cx="209.60" cy="330.29" r="3.00" fill="#440154"/>
<circle cx="163.46" cy="297.92" r="3.00" fill="#440154"/>
<circle cx="161.33" cy="322.81" r="3.00" fill="#46085c"/>
<circle cx="171.02" cy="318.02" r="3.00" fill="#440154"/>
<circle cx="166.58" cy="327.20" r="3.00" fill="#440154"/>
<circle cx="165.89" cy="328.87" r="3.00" fill="#440154"/>
<circle cx="163.84" cy="312.74" r="3.00" fill="#46085c"/>
<circle cx="133.56" cy="333.24" r="3.00" fill="#440154"/>
<circle cx="166.56" cy="328.81" r="3.00" fill="#440154"/>
<circle cx="158.00" cy="322.63" r="3.00" fill="#440154"/>
<circle cx="153.24" cy="320.39" r="3.00" fill="#440154"/>
<circle cx="223.48" cy="324.23" r="3.00" fill="#46085c"/>
<circle cx="167.93" cy="311.57" r="3.00" fill="#440154"/>
<circle cx="182.32" cy="339.16" r="3.00" fill="#440154"/>
<circle cx="163.33" cy="341.38" r="3.00" fill="#440154"/>
<circle cx="188.89" cy="335.70" r="3.00" fill="#46085c"/>
<circle cx="198.92" cy="320.56" r="3.00" fill="#46085c"/>
<circle cx="178.89" cy="329.14" r="3.00" fill="#440154"/>
<circle cx="189.79" cy="338.92" r="3.00" fill="#440154"/>
<circle cx="168.18" cy="320.31" r="3.00" fill="#46085c"/>
<circle cx="189.49" cy="318.37" r="3.00" fill="#440154"/>
<circle cx="179.27" cy="317.67" r="3.00" fill="#440154"/>
<circle cx="176.05" cy="340.29" r="3.00" fill="#46085c"/>
<circle cx="187.38" cy="315.67" r="3.00" fill="#440154"/>
<circle cx="196.02" cy="340.01" r="3.00" fill="#440154"/>
<circle cx="157.53" cy="319.62" r="3.00" fill="#46085c"/>
<circle cx="176.66" cy="330.33" r="3.00" fill="#46085c"/>
<circle cx="188.60" cy="321.44" r="3.00" fill="#440154"/>
<circle cx="203.37" cy="326.16" r="3.00" fill="#440154"/>
<circle cx="154.80" cy="300.90" r="3.00" fill="#440154"/>
<circle cx="181.96" cy="309.50" r="3.00" fill="#440154"/>
<circle cx="196.33" cy="340.62" r="3.00" fill="#46085c"/>
<circle cx="179.30" cy="329.34" r="3.00" fill="#46085c"/>
<circle cx="171.42" cy="322.42" r="3.00" fill="#440154"/>
<circle cx="152.49" cy="299.75" r="3.00" fill="#440154"/>
<circle cx="155.65" cy="304.83" r="3.00" fill="#440154"/>
<circle cx="171.98" cy="318.07" r="3.00" fill="#440154"/>
<circle cx="164.39" cy="295.97" r="3.00" fill="#440154"/>
<circle cx="189.78" cy="322.89" r="3.00" fill="#440154"/>
<circle cx="183.19" cy="323.47" r="3.00" fill="#440154"/>
<circle cx="181.40" cy="323.71" r="3.00" fill="#440154"/>
<circle cx="160.58" cy="336.04" r="3.00" fill="#46085c"/>
<circle cx="172.93" cy="332.87" r="3.00" fill="#46085c"/>
<circle cx="174.69" cy="313.87" r="3.00" fill="#440154"/>
<circle cx="185.42" cy="337.27" r="3.00" fill="#46085c"/>
<circle cx="178.39" cy="344.15" r="3.00" fill="#46085c"/>
<circle cx="178.61" cy="337.74" r="3.00" fill="#440154"/>
<circle cx="168.28" cy="322.91" r="3.00" fill="#440154"/>
<circle cx="163.33" cy="295.19" r="3.00" fill="#440154"/>
<circle cx="191.17" cy="348.17" r="3.00" fill="#46085c"/>
<circle cx="138.50" cy="331.29" r="3.00" fill="#440154"/>
<circle cx="199.69" cy="331.07" r="3.00" fill="#440154"/>
<circle cx="188.59" cy="334.48" r="3.00" fill="#46085c"/>
<circle cx="198.44" cy="339.03" r="3.00" fill="#440154"/>
<circle cx="169.62" cy="315.84" r="3.00" fill="#440154"/>
<circle cx="170.01" cy="338.55" r="3.00" fill="#46085c"/>
<circle cx="199.26" cy="321.88" r="3.00" fill="#440154"/>
<circle cx="205.06" cy="327.43" r="3.00" fill="#440154"/>
<circle cx="174.36" cy="341.35" r="3.00" fill="#440154"/>
<circle cx="158.94" cy="294.72" r="3.00" fill="#440154"/>
<circle cx="162.38" cy="326.65" r="3.00" fill="#440154"/>
<circle cx="175.42" cy="327.63" r="3.00" fill="#440154"/>
<circle cx="171.60" cy="327.21" r="3.00" fill="#440154"/>
<circle cx="170.83" cy="312.06" r="3.00" fill="#440154"/>
<circle cx="168.22" cy="295.47" r="3.00" fill="#440154"/>
<circle cx="199.69" cy="320.34" r="3.00" fill="#440154"/>
<circle cx="154.56" cy="341.04" r="3.00" fill="#440154"/>
<circle cx="176.80" cy="313.91" r="3.00" fill="#46085c"/>
<circle cx="176.26" cy="344.11" r="3.00" fill="#440154"/>
<circle cx="188.14" cy="303.99" r="3.00" fill="#440154"/>
<circle cx="180.24" cy="328.73" r="3.00" fill="#440154"/>
<circle cx="158.03" cy="338.93" r="3.00" fill="#46085c"/>
<circle cx="155.33" cy="321.05" r="3.00" fill="#440154"/>
<circle cx="190.57" cy="315.24" r="3.00" fill="#440154"/>
<circle cx="144.47" cy="334.11" r="3.00" fill="#440154"/>
<circle cx="203.41" cy="332.40" r="3.00" fill="#440154"/>
<circle cx="191.26" cy="312.78" r="3.00" fill="#440154"/>
<circle cx="204.86" cy="332.92" r="3.00" fill="#440154"/>
<circle cx="190.92" cy="322.19" r="3.00" fill="#440154"/>
<circle cx="201.96" cy="330.85" r="3.00" fill="#440154"/>
<circle cx="177.19" cy="344.71" r="3.00" fill="#440154"/>
<circle cx="161.69" cy="295.66" r="3.00" fill="#440154"/>
<circle cx="214.20" cy="321.46" r="3.00" fill="#440154"/>
<circle cx="204.94" cy="324.46" r="3.00" fill="#440154"/>
<circle cx="168.54" cy="327.63" r="3.00" fill="#440154"/>
<circle cx="198.85" cy="329.73" r="3.00" fill="#440154"/>
<circle cx="221.16" cy="323.55" r="3.00" fill="#440154"/>
<circle cx="178.00" cy="308.39" r="3.00" fill="#440154"/>
<circle cx="174.49" cy="311.21" r="3.00" fill="#440154"/>
<circle cx="223.16" cy="321.42" r="3.00" fill="#440154"/>
<circle cx="206.87" cy="329.49" r="3.00" fill="#440154"/>
<circle cx="227.15" cy="323.92" r="3.00" fill="#440154"/>
<circle cx="172.01" cy="329.04" r="3.00" fill="#46085c"/>
<circle cx="158.08" cy="335.45" r="3.00" fill="#440154"/>
<circle cx="175.64" cy="343.41" r="3.00" fill="#440154"/>
<circle cx="160.23" cy="316.33" r="3.00" fill="#440154"/>
<circle cx="188.75" cy="329.07" r="3.00" fill="#440154"/>
<circle cx="192.42" cy="329.05" r="3.00" fill="#440154"/>
<circle cx="161.72" cy="334.95" r="3.00" fill="#46085c"/>
<circle cx="151.86" cy="330.60" r="3.00" fill="#46085c"/>
<circle cx="161.59" cy="332.17" r="3.00" fill="#440154"/>
<circle cx="171.00" cy="312.16" r="3.00" fill="#440154"/>
<circle cx="189.78" cy="321.37" r="3.00" fill="#440154"/>
<circle cx="170.91" cy="314.08" r="3.00" fill="#440154"/>
<circle cx="218.63" cy="323.55" r="3.00" fill="#440154"/>
<circle cx="188.65" cy="336.54" r="3.00" fill="#440154"/>
<circle cx="131.96" cy="333.01" r="3.00" fill="#440154"/>
<circle cx="169.62" cy="336.18" r="3.00" fill="#440154"/>
<circle cx="139.89" cy="329.72" r="3.00" fill="#440154"/>
<circle cx="164.87" cy="315.44" r="3.00" fill="#440154"/>
<circle cx="159.55" cy="298.10" r="3.00" fill="#440154"/>
<circle cx="154.44" cy="319.31" r="3.00" fill="#440154"/>
<circle cx="154.60" cy="304.86" r="3.00" fill="#440154"/>
<circle cx="162.01" cy="325.28" r="3.00" fill="#440154"/>
<circle cx="175.57" cy="337.03" r="3.00" fill="#46085c"/>
<circle cx="219.05" cy="325.33" r="3.00" fill="#440154"/>
<circle cx="176.05" cy="316.07" r="3.00" fill="#440154"/>
<circle cx="178.70" cy="316.09" r="3.00" fill="#440154"/>
<circle cx="198.55" cy="337.15" r="3.00" fill="#440154"/>
<circle cx="157.20" cy="326.80" r="3.00" fill="#46085c"/>
<circle cx="154.82" cy="304.71" r="3.00" fill="#46085c"/>
<circle cx="177.89" cy="330.10" r="3.00" fill="#440154"/>
<circle cx="206.95" cy="338.75" r="3.00" fill="#440154"/>
<circle cx="139.31" cy="330.64" r="3.00" fill="#440154"/>
<circle cx="183.51" cy="337.38" r="3.00" fill="#440154"/>
<circle cx="181.42" cy="323.08" r="3.00" fill="#440154"/>
<circle cx="191.10" cy="316.72" r="3.00" fill="#46085c"/>
<circle cx="161.66" cy="295.06" r="3.00" fill="#440154"/>
<circle cx="167.15" cy="333.02" r="3.00" fill="#440154"/>
<circle cx="188.46" cy="306.70" r="3.00" fill="#440154"/>
<circle cx="195.85" cy="324.52" r="3.00" fill="#440154"/>
<circle cx="204.02" cy="334.10" r="3.00" fill="#46085c"/>
<circle cx="204.43" cy="321.46" r="3.00" fill="#46085c"/>
<circle cx="165.02" cy="314.19" r="3.00" fill="#440154"/>
<circle cx="175.75" cy="316.03" r="3.00" fill="#440154"/>
<circle cx="171.43" cy="315.92" r="3.00" fill="#46085c"/>
<circle cx="188.93" cy="341.14" r="3.00" fill="#46085c"/>
<circle cx="185.37" cy="340.31" r="3.00" fill="#440154"/>
<circle cx="177.92" cy="325.25" r="3.00" fill="#440154"/>
<circle cx="199.41" cy="339.53" r="3.00" fill="#440154"/>
<circle cx="187.99" cy="323.79" r="3.00" fill="#440154"/>
<circle cx="203.51" cy="330.20" r="3.00" fill="#440154"/>
<circle cx="186.98" cy="337.82" r="3.00" fill="#46085c"/>
<circle cx="200.66" cy="348.39" r="3.00" fill="#440154"/>
<circle cx="191.46" cy="321.59" r="3.00" fill="#440154"/>
<circle cx="133.71" cy="332.32" r="3.00" fill="#46085c"/>
<circle cx="157.49" cy="342.68" r="3.00" fill="#440154"/>
<circle cx="190.40" cy="332.22" r="3.00" fill="#440154"/>
<circle cx="179.78" cy="317.38" r="3.00" fill="#440154"/>
<circle cx="179.77" cy="318.09" r="3.00" fill="#440154"/>
<circle cx="165.72" cy="329.80" r="3.00" fill="#440154"/>
<circle cx="188.83" cy="320.82" r="3.00" fill="#440154"/>
<circle cx="213.95" cy="322.84" r="3.00" fill="#440154"/>
<circle cx="167.93" cy="329.76" r="3.00" fill="#440154"/>
<circle cx="214.56" cy="321.11" r="3.00" fill="#46085c"/>
<circle cx="167.33" cy="344.26" r="3.00" fill="#440154"/>
<circle cx="185.12" cy="325.80" r="3.00" fill="#440154"/>
<circle cx="160.61" cy="338.16" r="3.00" fill="#440154"/>
<circle cx="152.17" cy="296.82" r="3.00" fill="#440154"/>
<circle cx="159.09" cy="329.48" r="3.00" fill="#440154"/>
<circle cx="223.29" cy="326.91" r="3.00" fill="#440154"/>
<circle cx="175.98" cy="324.42" r="3.00" fill="#440154"/>
<circle cx="203.10" cy="337.72" r="3.00" fill="#440154"/>
<circle cx="190.60" cy="323.37" r="3.00" fill="#440154"/>
<circle cx="189.25" cy="319.02" r="3.00" fill="#46085c"/>
<circle cx="198.33" cy="335.92" r="3.00" fill="#440154"/>
<circle cx="189.98" cy="335.25" r="3.00" fill="#440154"/>
<circle cx="151.76" cy="341.84" r="3.00" fill="#46085c"/>
<circle cx="178.12" cy="314.90" r="3.00" fill="#440154"/>
<circle cx="154.98" cy="342.08" r="3.00" fill="#440154"/>
<circle cx="167.37" cy="326.68" r="3.00" fill="#440154"/>
<circle cx="205.10" cy="340.72" r="3.00" fill="#440154"/>
<circle cx="155.27" cy="305.24" r="3.00" fill="#440154"/>
<circle cx="182.39" cy="323.81" r="3.00" fill="#440154"/>
<circle cx="208.14" cy="327.38" r="3.00" fill="#440154"/>
<circle cx="188.08" cy="326.07" r="3.00" fill="#440154"/>
<circle cx="184.54" cy="312.09" r="3.00" fill="#440154"/>
<circle cx="159.09" cy="299.88" r="3.00" fill="#440154"/>
<circle cx="184.16" cy="341.08" r="3.00" fill="#440154"/>
<circle cx="222.82" cy="323.01" r="3.00" fill="#440154"/>
<circle cx="189.33" cy="343.34" r="3.00" fill="#46085c"/>
<circle cx="193.15" cy="327.52" r="3.00" fill="#440154"/>
<circle cx="154.42" cy="304.13" r="3.00" fill="#440154"/>
<circle cx="159.98" cy="319.98" r="3.00" fill="#440154"/>
<circle cx="188.30" cy="320.98" r="3.00" fill="#440154"/>
<circle cx="157.66" cy="295.76" r="3.00" fill="#440154"/>
<circle cx="191.30" cy="333.33" r="3.00" fill="#46085c"/>
<circle cx="192.66" cy="330.08" r="3.00" fill="#440154"/>
<circle cx="160.65" cy="341.82" r="3.00" fill="#440154"/>
<circle cx="221.73" cy="319.97" r="3.00" fill="#440154"/>
<circle cx="188.83" cy="336.93" r="3.00" fill="#440154"/>
<circle cx="179.60" cy="340.63" r="3.00" fill="#46085c"/>
<circle cx="162.04" cy="298.38" r="3.00" fill="#46085c"/>
<circle cx="175.70" cy="329.80" r="3.00" fill="#46085c"/>
<circle cx="192.05" cy="322.95" r="3.00" fill="#440154"/>
<circle cx="192.48" cy="350.00" r="3.00" fill="#440154"/>
<circle cx="181.91" cy="324.86" r="3.00" fill="#440154"/>
<circle cx="176.57" cy="330.51" r="3.00" fill="#46085c"/>
<circle cx="208.28" cy="331.42" r="3.00" fill="#440154"/>
<circle cx="177.52" cy="327.65" r="3.00" fill="#46085c"/>
<circle cx="164.09" cy="312.23" r="3.00" fill="#46085c"/>
<circle cx="190.70" cy="312.99" r="3.00" fill="#440154"/>
<circle cx="156.69" cy="297.83" r="3.00" fill="#46085c"/>
<circle cx="198.31" cy="351.13" r="3.00" fill="#440154"/>
<circle cx="151.34" cy="330.05" r="3.00" fill="#440154"/>
<circle cx="166.75" cy="325.01" r="3.00" fill="#440154"/>
<circle cx="158.53" cy="319.15" r="3.00" fill="#46085c"/>
<circle cx="182.44" cy="315.06" r="3.00" fill="#440154"/>
<circle cx="178.22" cy="337.62" r="3.00" fill="#440154"/>
<circle cx="191.06" cy="338.21" r="3.00" fill="#440154"/>
<circle cx="169.50" cy="323.60" r="3.00" fill="#440154"/>
<circle cx="160.65" cy="333.20" r="3.00" fill="#440154"/>
<circle cx="183.24" cy="337.91" r="3.00" fill="#440154"/>
<circle cx="167.03" cy="312.44" r="3.00" fill="#46085c"/>
<circle cx="183.11" cy="321.73" r="3.00" fill="#440154"/>
<circle cx="186.04" cy="330.73" r="3.00" fill="#440154"/>
<circle cx="170.30" cy="324.99" r="3.00" fill="#440154"/>
<circle cx="178.71" cy="310.50" r="3.00" fill="#440154"/>
<circle cx="173.78" cy="316.41" r="3.00" fill="#46085c"/>
<circle cx="159.98" cy="337.03" r="3.00" fill="#440154"/>
<circle cx="190.02" cy="307.04" r="3.00" fill="#440154"/>
<circle cx="183.65" cy="319.04" r="3.00" fill="#46085c"/>
<circle cx="157.29" cy="338.02" r="3.00" fill="#440154"/>
<circle cx="198.86" cy="319.87" r="3.00" fill="#440154"/>
<circle cx="170.48" cy="342.31" r="3.00" fill="#440154"/>
<circle cx="179.49" cy="341.43" r="3.00" fill="#440154"/>
<circle cx="141.60" cy="333.04" r="3.00" fill="#440154"/>
<circle cx="154.23" cy="305.15" r="3.00" fill="#440154"/>
<circle cx="194.14" cy="343.88" r="3.00" fill="#440154"/>
<circle cx="183.01" cy="313.34" r="3.00" fill="#440154"/>
<circle cx="180.97" cy="340.78" r="3.00" fill="#440154"/>
<circle cx="174.94" cy="329.26" r="3.00" fill="#46085c"/>
<circle cx="154.38" cy="322.08" r="3.00" fill="#440154"/>
<circle cx="167.09" cy="323.72" r="3.00" fill="#440154"/>
<circle cx="207.40" cy="330.38" r="3.00" fill="#440154"/>
<circle cx="170.03" cy="309.94" r="3.00" fill="#46085c"/>
<circle cx="200.71" cy="329.47" r="3.00" fill="#46085c"/>
<circle cx="193.72" cy="312.30" r="3.00" fill="#440154"/>
<circle cx="148.72" cy="297.89" r="3.00" fill="#440154"/>
<circle cx="180.98" cy="337.35" r="3.00" fill="#440154"/>
<circle cx="137.16" cy="330.83" r="3.00" fill="#440154"/>
<circle cx="203.94" cy="350.55" r="3.00" fill="#46085c"/>
<circle cx="163.81" cy="296.53" r="3.00" fill="#440154"/>
<circle cx="175.98" cy="316.19" r="3.00" fill="#440154"/>
<circle cx="191.85" cy="318.37" r="3.00" fill="#440154"/>
<circle cx="163.78" cy="314.00" r="3.00" fill="#46085c"/>
<circle cx="141.65" cy="335.55" r="3.00" fill="#46085c"/>
<circle cx="163.65" cy="296.56" r="3.00" fill="#440154"/>
<circle cx="173.98" cy="311.56" r="3.00" fill="#440154"/>
<circle cx="206.55" cy="328.97" r="3.00" fill="#440154"/>
<circle cx="195.65" cy="307.87" r="3.00" fill="#46085c"/>
<circle cx="189.73" cy="323.33" r="3.00" fill="#46085c"/>
<circle cx="190.52" cy="344.36" r="3.00" fill="#440154"/>
<circle cx="134.38" cy="332.23" r="3.00" fill="#440154"/>
<circle cx="185.76" cy="318.27" r="3.00" fill="#440154"/>
<circle cx="219.33" cy="324.57" r="3.00" fill="#46085c"/>
<circle cx="161.90" cy="319.41" r="3.00" fill="#440154"/>
<circle cx="196.96" cy="342.95" r="3.00" fill="#440154"/>
<circle cx="165.94" cy="329.68" r="3.00" fill="#440154"/>
<circle cx="162.17" cy="305.78" r="3.00" fill="#440154"/>
<circle cx="137.08" cy="330.88" r="3.00" fill="#440154"/>
<circle cx="154.45" cy="321.34" r="3.00" fill="#46085c"/>
<circle cx="185.37" cy="321.88" r="3.00" fill="#440154"/>
<circle cx="157.34" cy="337.69" r="3.00" fill="#440154"/>
<circle cx="171.69" cy="319.34" r="3.00" fill="#440154"/>
<circle cx="185.35" cy="343.76" r="3.00" fill="#440154"/>
<circle cx="161.26" cy="337.12" r="3.00" fill="#440154"/>
<circle cx="224.27" cy="324.94" r="3.00" fill="#440154"/>
<circle cx="223.63" cy="322.72" r="3.00" fill="#46085c"/>
<circle cx="165.15" cy="318.64" r="3.00" fill="#440154"/>
<circle cx="189.89" cy="341.74" r="3.00" fill="#440154"/>
<circle cx="193.61" cy="339.03" r="3.00" fill="#440154"/>
<circle cx="185.65" cy="319.10" r="3.00" fill="#440154"/>
<circle cx="177.13" cy="329.47" r="3.00" fill="#440154"/>
<circle cx="197.72" cy="334.60" r="3.00" fill="#440154"/>
<circle cx="188.83" cy="321.85" r="3.00" fill="#440154"/>
<circle cx="201.73" cy="328.93" r="3.00" fill="#440154"/>
<circle cx="203.41" cy="319.00" r="3.00" fill="#440154"/>
<circle cx="180.09" cy="323.97" r="3.00" fill="#440154"/>
<circle cx="172.71" cy="314.39" r="3.00" fill="#440154"/>
<circle cx="178.10" cy="346.36" r="3.00" fill="#440154"/>
<circle cx="161.61" cy="312.18" r="3.00" fill="#440154"/>
<circle cx="225.13" cy="323.02" r="3.00" fill="#440154"/>
<circle cx="144.14" cy="336.90" r="3.00" fill="#440154"/>
<circle cx="163.23" cy="305.83" r="3.00" fill="#440154"/>
<circle cx="192.49" cy="333.24" r="3.00" fill="#46085c"/>
<circle cx="162.24" cy="334.46" r="3.00" fill="#46085c"/>
<circle cx="168.74" cy="317.35" r="3.00" fill="#440154"/>
<circle cx="186.54" cy="304.32" r="3.00" fill="#440154"/>
<circle cx="188.20" cy="318.25" r="3.00" fill="#440154"/>
<circle cx="202.94" cy="326.45" r="3.00" fill="#440154"/>
<circle cx="176.92" cy="327.36" r="3.00" fill="#46085c"/>
<circle cx="165.34" cy="330.64" r="3.00" fill="#440154"/>
<circle cx="221.09" cy="319.69" r="3.00" fill="#440154"/>
<circle cx="157.21" cy="329.43" r="3.00" fill="#440154"/>
<circle cx="190.46" cy="334.66" r="3.00" fill="#440154"/>
<circle cx="196.88" cy="314.93" r="3.00" fill="#440154"/>
<circle cx="192.05" cy="337.95" r="3.00" fill="#440154"/>
<circle cx="143.53" cy="335.19" r="3.00" fill="#440154"/>
<circle cx="166.41" cy="336.98" r="3.00" fill="#46085c"/>
<circle cx="162.21" cy="293.95" r="3.00" fill="#46085c"/>
<circle cx="149.82" cy="319.40" r="3.00" fill="#440154"/>
<circle cx="191.95" cy="317.17" r="3.00" fill="#440154"/>
<circle cx="163.15" cy="320.00" r="3.00" fill="#440154"/>
<circle cx="165.92" cy="339.84" r="3.00" fill="#440154"/>
<circle cx="162.26" cy="337.38" r="3.00" fill="#440154"/>
<circle cx="187.17" cy="332.84" r="3.00" fill="#440154"/>
<circle cx="184.63" cy="337.63" r="3.00" fill="#440154"/>
<circle cx="192.46" cy="332.03" r="3.00" fill="#440154"/>
<circle cx="189.68" cy="325.30" r="3.00" fill="#440154"/>
<circle cx="205.72" cy="329.47" r="3.00" fill="#440154"/>
<circle cx="189.71" cy="332.96" r="3.00" fill="#46085c"/>
<circle cx="144.49" cy="338.45" r="3.00" fill="#440154"/>
<circle cx="167.86" cy="325.15" r="3.00" fill="#46085c"/>
<circle cx="205.45" cy="339.64" r="3.00" fill="#46085c"/>
<circle cx="159.43" cy="311.31" r="3.00" fill="#440154"/>
<circle cx="177.79" cy="348.08" r="3.00" fill="#440154"/>
<circle cx="178.78" cy="310.02" r="3.00" fill="#440154"/>
<circle cx="200.90" cy="328.58" r="3.00" fill="#440154"/>
<circle cx="173.40" cy="313.96" r="3.00" fill="#440154"/>
<circle cx="185.26" cy="312.06" r="3.00" fill="#440154"/>
<circle cx="188.90" cy="338.54" r="3.00" fill="#440154"/>
<circle cx="166.23" cy="344.43" r="3.00" fill="#440154"/>
<circle cx="170.22" cy="343.76" r="3.00" fill="#440154"/>
<circle cx="213.55" cy="324.66" r="3.00" fill="#440154"/>
<circle cx="167.10" cy="319.49" r="3.00" fill="#440154"/>
<circle cx="168.62" cy="340.71" r="3.00" fill="#440154"/>
<circle cx="188.62" cy="338.11" r="3.00" fill="#440154"/>
<circle cx="164.88" cy="317.65" r="3.00" fill="#440154"/>
<circle cx="168.85" cy="327.29" r="3.00" fill="#46085c"/>
<circle cx="223.54" cy="324.58" r="3.00" fill="#440154"/>
<circle cx="174.07" cy="333.30" r="3.00" fill="#440154"/>
<circle cx="135.39" cy="337.11" r="3.00" fill="#46085c"/>
<circle cx="178.44" cy="322.42" r="3.00" fill="#46085c"/>
<circle cx="158.19" cy="297.72" r="3.00" fill="#440154"/>
<circle cx="159.31" cy="334.31" r="3.00" fill="#46085c"/>
<circle cx="147.18" cy="327.91" r="3.00" fill="#46085c"/>
<circle cx="202.95" cy="339.43" r="3.00" fill="#440154"/>
<circle cx="170.43" cy="322.40" r="3.00" fill="#46085c"/>
<circle cx="136.91" cy="332.52" r="3.00" fill="#440154"/>
<circle cx="163.91" cy="329.82" r="3.00" fill="#440154"/>
<circle cx="174.18" cy="328.76" r="3.00" fill="#440154"/>
<circle cx="183.62" cy="341.97" r="3.00" fill="#440154"/>
<circle cx="157.05" cy="306.42" r="3.00" fill="#440154"/>
<circle cx="188.44" cy="336.88" r="3.00" fill="#440154"/>
<circle cx="164.50" cy="322.60" r="3.00" fill="#46085c"/>
<circle cx="190.22" cy="315.09" r="3.00" fill="#46085c"/>
<circle cx="193.02" cy="343.33" r="3.00" fill="#46085c"/>
<circle cx="157.76" cy="299.50" r="3.00" fill="#440154"/>
<circle cx="154.80" cy="297.19" r="3.00" fill="#440154"/>
<circle cx="163.85" cy="318.87" r="3.00" fill="#440154"/>
<circle cx="178.63" cy="343.38" r="3.00" fill="#440154"/>
<circle cx="179.25" cy="343.39" r="3.00" fill="#440154"/>
<circle cx="182.38" cy="334.93" r="3.00" fill="#440154"/>
<circle cx="183.00" cy="306.80" r="3.10" fill="#39568c"/>
<circle cx="183.00" cy="322.00" r="3.10" fill="#39568c"/>
<circle cx="174.40" cy="263.40" r="3.00" fill="#25868d"/>
<circle cx="181.60" cy="262.60" r="3.00" fill="#27808d"/>
<circle cx="185.30" cy="264.80" r="3.00" fill="#26848d"/>
<circle cx="173.30" cy="268.30" r="3.00" fill="#27808d"/>
<circle cx="182.60" cy="268.90" r="3.00" fill="#287e8d"/>
<circle cx="176.00" cy="271.00" r="3.00" fill="#287c8e"/>
<circle cx="185.00" cy="261.00" r="3.00" fill="#287e8d"/>
<circle cx="180.90" cy="272.80" r="3.00" fill="#6fcd57"/>
<circle cx="183.00" cy="275.20" r="3.00" fill="#443983"/>
<circle cx="178.50" cy="260.50" r="3.00" fill="#25878d"/>
<circle cx="171.80" cy="265.20" r="3.00" fill="#2b778e"/>
<circle cx="178.00" cy="266.30" r="3.00" fill="#fde725"/>
<line x1="175.20" y1="277.70" x2="178.00" y2="267.00" stroke="#000" stroke-width="1.1"/>
<line x1="201.50" y1="313.20" x2="189.00" y2="322.00" stroke="#000" stroke-width="1.1"/>
<rect x="41.00" y="294.70" width="14.10" height="15.60" fill="#fff" stroke="#000" stroke-width="0.85" rx="2.2" ry="2.2"/>
<text x="48.05" y="304.80" font-size="7.1" text-anchor="middle" fill="#111" stroke="#111" stroke-width="0.22">x</text>
<rect x="92.80" y="324.90" width="14.00" height="14.60" fill="#fff" stroke="#000" stroke-width="0.85" rx="2.2" ry="2.2"/>
<text x="99.80" y="334.50" font-size="7.1" text-anchor="middle" fill="#111" stroke="#111" stroke-width="0.22">y</text>
<rect x="164.60" y="277.70" width="13.90" height="15.30" fill="#fff" stroke="#000" stroke-width="0.85" rx="2.2" ry="2.2"/>
<text x="171.55" y="287.65" font-size="7.1" text-anchor="middle" fill="#111" stroke="#111" stroke-width="0.22">y</text>
<rect x="199.30" y="298.50" width="13.90" height="15.30" fill="#fff" stroke="#000" stroke-width="0.85" rx="2.2" ry="2.2"/>
<text x="206.25" y="308.45" font-size="7.1" text-anchor="middle" fill="#111" stroke="#111" stroke-width="0.22">x</text>
<circle cx="27.70" cy="389.58" r="3.00" fill="#27ab81"/>
<circle cx="27.38" cy="391.47" r="3.00" fill="#38b777"/>
<circle cx="26.53" cy="391.23" r="3.00" fill="#21968a"/>
<circle cx="27.95" cy="389.86" r="3.00" fill="#3bb975"/>
<circle cx="28.62" cy="389.90" r="3.00" fill="#2db07d"/>
<circle cx="31.04" cy="389.09" r="3.00" fill="#21948b"/>
<circle cx="29.21" cy="389.70" r="3.00" fill="#22a486"/>
<circle cx="28.21" cy="386.50" r="3.00" fill="#48c06e"/>
<circle cx="30.20" cy="388.69" r="3.00" fill="#37b678"/>
<circle cx="30.35" cy="389.73" r="3.00" fill="#219989"/>
<circle cx="29.98" cy="395.58" r="3.00" fill="#44bf70"/>
<circle cx="29.48" cy="395.22" r="3.00" fill="#22a386"/>
<circle cx="30.22" cy="394.14" r="3.00" fill="#34b47a"/>
<circle cx="29.46" cy="392.76" r="3.00" fill="#2daf7e"/>
<circle cx="28.46" cy="394.98" r="3.00" fill="#6ecd58"/>
<circle cx="27.21" cy="397.72" r="3.00" fill="#27ab81"/>
<circle cx="27.15" cy="401.33" r="3.00" fill="#4cc26c"/>
<circle cx="26.95" cy="396.85" r="3.00" fill="#25aa82"/>
<circle cx="25.43" cy="401.05" r="3.00" fill="#38b777"/>
<circle cx="28.89" cy="396.73" r="3.00" fill="#21928c"/>
<circle cx="26.10" cy="396.72" r="3.00" fill="#41bd72"/>
<circle cx="26.36" cy="397.45" r="3.00" fill="#2db07d"/>
<circle cx="26.87" cy="396.87" r="3.00" fill="#22a485"/>
<circle cx="25.74" cy="397.52" r="3.00" fill="#3ebb73"/>
<circle cx="26.26" cy="397.78" r="3.00" fill="#43bf70"/>
<circle cx="27.37" cy="404.72" r="3.00" fill="#219989"/>
<circle cx="30.49" cy="407.09" r="3.00" fill="#21928c"/>
<circle cx="27.81" cy="403.38" r="3.00" fill="#31b27b"/>
<circle cx="31.45" cy="405.87" r="3.00" fill="#42bd71"/>
<circle cx="29.01" cy="406.09" r="3.00" fill="#21978a"/>
<circle cx="28.61" cy="394.91" r="3.00" fill="#2bae7f"/>
<circle cx="26.31" cy="393.42" r="3.00" fill="#21948b"/>
<circle cx="25.99" cy="393.09" r="3.00" fill="#21948b"/>
<circle cx="25.42" cy="390.96" r="3.00" fill="#26ab82"/>
<circle cx="26.31" cy="392.79" r="3.00" fill="#43bf70"/>
<circle cx="30.43" cy="407.18" r="3.00" fill="#40bc73"/>
<circle cx="32.23" cy="410.44" r="3.00" fill="#35b579"/>
<circle cx="30.92" cy="406.25" r="3.00" fill="#35b579"/>
<circle cx="31.51" cy="408.06" r="3.00" fill="#219c88"/>
<circle cx="32.57" cy="410.26" r="3.00" fill="#23a884"/>
<circle cx="29.78" cy="397.04" r="3.00" fill="#22a784"/>
<circle cx="30.42" cy="395.90" r="3.00" fill="#24aa83"/>
<circle cx="30.36" cy="396.31" r="3.00" fill="#22a785"/>
<circle cx="29.00" cy="396.49" r="3.00" fill="#35b579"/>
<circle cx="29.08" cy="396.10" r="3.00" fill="#22a087"/>
<circle cx="32.64" cy="393.91" r="3.00" fill="#21988a"/>
<circle cx="32.87" cy="394.33" r="3.00" fill="#33b47a"/>
<circle cx="34.79" cy="394.48" r="3.00" fill="#2db07d"/>
<circle cx="31.16" cy="393.41" r="3.00" fill="#229d88"/>
<circle cx="31.65" cy="394.36" r="3.00" fill="#219c88"/>
<circle cx="28.91" cy="407.97" r="3.00" fill="#2fb17c"/>
<circle cx="29.57" cy="407.20" r="3.00" fill="#21948b"/>
<circle cx="28.54" cy="405.07" r="3.00" fill="#3ab876"/>
<circle cx="28.97" cy="406.83" r="3.00" fill="#3cba75"/>
<circle cx="27.60" cy="405.92" r="3.00" fill="#44bf70"/>
<circle cx="30.62" cy="402.61" r="3.00" fill="#219989"/>
<circle cx="26.75" cy="400.12" r="3.00" fill="#3bb976"/>
<circle cx="27.18" cy="400.38" r="3.00" fill="#28ac80"/>
<circle cx="23.95" cy="398.27" r="3.00" fill="#229d88"/>
<circle cx="29.20" cy="400.67" r="3.00" fill="#3dbb74"/>
<circle cx="27.83" cy="396.44" r="3.00" fill="#229d88"/>
<circle cx="27.97" cy="404.97" r="3.00" fill="#219a89"/>
<circle cx="30.32" cy="404.92" r="3.00" fill="#41bd72"/>
<circle cx="28.01" cy="393.40" r="3.00" fill="#4cc26b"/>
<circle cx="32.41" cy="405.31" r="3.00" fill="#36b678"/>
<circle cx="32.07" cy="403.94" r="3.00" fill="#21978a"/>
<circle cx="27.89" cy="399.62" r="3.00" fill="#23a884"/>
<circle cx="27.82" cy="389.33" r="3.00" fill="#2caf7e"/>
<circle cx="28.42" cy="403.26" r="3.00" fill="#219c88"/>
<circle cx="32.41" cy="397.74" r="3.00" fill="#3fbb73"/>
<circle cx="32.25" cy="396.01" r="3.00" fill="#22a685"/>
<circle cx="27.32" cy="393.54" r="3.00" fill="#26ab82"/>
<circle cx="27.13" cy="393.08" r="3.00" fill="#25aa83"/>
<circle cx="31.12" cy="407.41" r="3.00" fill="#21918c"/>
<circle cx="31.73" cy="398.48" r="3.00" fill="#41bd72"/>
<circle cx="31.12" cy="405.28" r="3.00" fill="#41bd72"/>
<circle cx="27.25" cy="402.69" r="3.00" fill="#43be71"/>
<circle cx="32.73" cy="404.78" r="3.00" fill="#2aad7f"/>
<circle cx="31.15" cy="398.50" r="3.00" fill="#22a685"/>
<circle cx="28.08" cy="405.33" r="3.00" fill="#22a186"/>
<circle cx="29.08" cy="405.49" r="3.00" fill="#219a89"/>
<circle cx="32.42" cy="396.66" r="3.00" fill="#219c88"/>
<circle cx="29.79" cy="408.50" r="3.00" fill="#29ac80"/>
<circle cx="30.43" cy="392.07" r="3.00" fill="#22a685"/>
<circle cx="27.94" cy="406.13" r="3.00" fill="#36b678"/>
<circle cx="28.74" cy="400.20" r="3.00" fill="#6fcd57"/>
<circle cx="32.88" cy="401.97" r="3.00" fill="#229d88"/>
<circle cx="30.56" cy="408.16" r="3.00" fill="#41bd72"/>
<circle cx="29.86" cy="406.91" r="3.00" fill="#22a386"/>
<circle cx="31.15" cy="392.87" r="3.00" fill="#22a784"/>
<circle cx="27.64" cy="394.91" r="3.00" fill="#22a187"/>
<circle cx="28.10" cy="401.05" r="3.00" fill="#2fb17c"/>
<circle cx="27.92" cy="397.54" r="3.00" fill="#22a884"/>
<circle cx="28.59" cy="398.31" r="3.00" fill="#22a685"/>
<circle cx="30.87" cy="407.51" r="3.00" fill="#2caf7e"/>
<circle cx="29.86" cy="407.88" r="3.00" fill="#21978a"/>
<circle cx="29.67" cy="399.76" r="3.00" fill="#2bae7f"/>
<circle cx="28.87" cy="389.02" r="3.00" fill="#22a685"/>
<circle cx="28.64" cy="392.50" r="3.00" fill="#3fbc73"/>
<circle cx="27.46" cy="398.73" r="3.00" fill="#39b876"/>
<circle cx="34.97" cy="417.58" r="3.00" fill="#41bd72"/>
<circle cx="35.56" cy="416.72" r="3.00" fill="#38b777"/>
<circle cx="39.12" cy="416.82" r="3.00" fill="#29ad80"/>
<circle cx="36.95" cy="416.75" r="3.00" fill="#3bb975"/>
<circle cx="36.11" cy="416.97" r="3.00" fill="#38b777"/>
<circle cx="30.35" cy="416.68" r="3.00" fill="#3ab976"/>
<circle cx="32.54" cy="414.38" r="3.00" fill="#3ab876"/>
<circle cx="30.41" cy="417.77" r="3.00" fill="#26ab82"/>
<circle cx="27.96" cy="417.46" r="3.00" fill="#2fb17d"/>
<circle cx="32.63" cy="415.90" r="3.00" fill="#31b27b"/>
<circle cx="37.17" cy="423.65" r="3.00" fill="#21958b"/>
<circle cx="34.38" cy="422.57" r="3.00" fill="#21968a"/>
<circle cx="37.20" cy="422.85" r="3.00" fill="#37b678"/>
<circle cx="35.27" cy="422.40" r="3.00" fill="#22a286"/>
<circle cx="35.41" cy="422.52" r="3.00" fill="#35b579"/>
<circle cx="28.96" cy="417.88" r="3.00" fill="#3fbc73"/>
<circle cx="31.23" cy="417.63" r="3.00" fill="#30b27c"/>
<circle cx="27.64" cy="418.28" r="3.00" fill="#23a984"/>
<circle cx="28.85" cy="418.23" r="3.00" fill="#3ebb73"/>
<circle cx="26.89" cy="418.74" r="3.00" fill="#29ad80"/>
<circle cx="28.58" cy="412.25" r="3.00" fill="#21938b"/>
<circle cx="27.11" cy="412.57" r="3.00" fill="#3bb975"/>
<circle cx="27.63" cy="412.33" r="3.00" fill="#24a983"/>
<circle cx="28.82" cy="412.29" r="3.00" fill="#26ab82"/>
<circle cx="29.48" cy="411.86" r="3.00" fill="#35b579"/>
<circle cx="36.39" cy="414.57" r="3.00" fill="#33b37a"/>
<circle cx="37.24" cy="416.28" r="3.00" fill="#49c16d"/>
<circle cx="37.30" cy="415.39" r="3.00" fill="#2eb07d"/>
<circle cx="37.35" cy="414.83" r="3.00" fill="#219989"/>
<circle cx="33.38" cy="415.38" r="3.00" fill="#31b27b"/>
<circle cx="34.14" cy="419.59" r="3.00" fill="#38b777"/>
<circle cx="35.52" cy="423.44" r="3.00" fill="#21918c"/>
<circle cx="36.30" cy="422.93" r="3.00" fill="#33b47a"/>
<circle cx="35.09" cy="420.78" r="3.00" fill="#2fb17c"/>
<circle cx="34.65" cy="421.78" r="3.00" fill="#33b37a"/>
<circle cx="40.25" cy="415.02" r="3.00" fill="#22a585"/>
<circle cx="37.96" cy="413.95" r="3.00" fill="#22a286"/>
<circle cx="40.44" cy="415.31" r="3.00" fill="#2bae7f"/>
<circle cx="40.05" cy="413.53" r="3.00" fill="#219c88"/>
<circle cx="37.73" cy="413.95" r="3.00" fill="#3cba75"/>
<circle cx="33.71" cy="415.21" r="3.00" fill="#22a784"/>
<circle cx="33.47" cy="415.03" r="3.00" fill="#3ebb74"/>
<circle cx="37.38" cy="419.11" r="3.00" fill="#46c06f"/>
<circle cx="33.77" cy="414.85" r="3.00" fill="#2aad7f"/>
<circle cx="35.33" cy="416.95" r="3.00" fill="#22a685"/>
<circle cx="34.64" cy="422.07" r="3.00" fill="#64ca5e"/>
<circle cx="32.95" cy="418.88" r="3.00" fill="#6ccc59"/>
<circle cx="33.46" cy="421.49" r="3.00" fill="#43be71"/>
<circle cx="34.49" cy="421.78" r="3.00" fill="#58c664"/>
<circle cx="34.20" cy="422.05" r="3.00" fill="#35b579"/>
<circle cx="33.71" cy="417.29" r="3.00" fill="#29ad80"/>
<circle cx="32.43" cy="417.99" r="3.00" fill="#3bb975"/>
<circle cx="29.61" cy="416.44" r="3.00" fill="#22a087"/>
<circle cx="30.99" cy="415.88" r="3.00" fill="#3dbb74"/>
<circle cx="33.58" cy="416.69" r="3.00" fill="#56c565"/>
<circle cx="35.23" cy="427.32" r="3.00" fill="#22a186"/>
<circle cx="35.37" cy="425.67" r="3.00" fill="#47c06e"/>
<circle cx="35.98" cy="429.35" r="3.00" fill="#21978a"/>
<circle cx="36.20" cy="427.77" r="3.00" fill="#229e88"/>
<circle cx="35.66" cy="425.58" r="3.00" fill="#2eb07d"/>
<circle cx="35.68" cy="423.41" r="3.00" fill="#2aae7f"/>
<circle cx="39.28" cy="424.00" r="3.00" fill="#40bc72"/>
<circle cx="38.70" cy="424.03" r="3.00" fill="#21928c"/>
<circle cx="39.50" cy="424.59" r="3.00" fill="#3cb975"/>
<circle cx="37.23" cy="423.74" r="3.00" fill="#21948b"/>
<circle cx="36.84" cy="426.94" r="3.00" fill="#3dba74"/>
<circle cx="38.26" cy="427.41" r="3.00" fill="#2fb17c"/>
<circle cx="33.67" cy="425.76" r="3.00" fill="#21928c"/>
<circle cx="34.13" cy="425.39" r="3.00" fill="#43be71"/>
<circle cx="35.69" cy="426.32" r="3.00" fill="#22a087"/>
<circle cx="36.17" cy="407.26" r="3.00" fill="#25aa82"/>
<circle cx="37.72" cy="405.35" r="3.00" fill="#48c06e"/>
<circle cx="33.34" cy="407.70" r="3.00" fill="#22a485"/>
<circle cx="35.48" cy="406.36" r="3.00" fill="#21958b"/>
<circle cx="35.17" cy="405.50" r="3.00" fill="#219c88"/>
<circle cx="28.27" cy="414.10" r="3.00" fill="#37b678"/>
<circle cx="26.00" cy="414.87" r="3.00" fill="#21988a"/>
<circle cx="25.22" cy="414.44" r="3.00" fill="#22a187"/>
<circle cx="28.12" cy="415.20" r="3.00" fill="#219c88"/>
<circle cx="27.13" cy="415.41" r="3.00" fill="#22a784"/>
<circle cx="25.06" cy="412.29" r="3.00" fill="#21978a"/>
<circle cx="24.61" cy="411.72" r="3.00" fill="#4bc16c"/>
<circle cx="26.17" cy="411.54" r="3.00" fill="#44bf70"/>
<circle cx="24.91" cy="412.08" r="3.00" fill="#21968a"/>
<circle cx="25.30" cy="409.95" r="3.00" fill="#219889"/>
<circle cx="26.73" cy="419.79" r="3.00" fill="#29ad80"/>
<circle cx="27.24" cy="420.71" r="3.00" fill="#4cc26c"/>
<circle cx="28.57" cy="421.84" r="3.00" fill="#3ab876"/>
<circle cx="30.37" cy="424.27" r="3.00" fill="#219989"/>
<circle cx="28.86" cy="422.84" r="3.00" fill="#3fbb73"/>
<circle cx="37.23" cy="425.69" r="3.00" fill="#21938b"/>
<circle cx="38.52" cy="424.11" r="3.00" fill="#25aa82"/>
<circle cx="37.84" cy="425.32" r="3.00" fill="#37b678"/>
<circle cx="39.46" cy="424.32" r="3.00" fill="#22a685"/>
<circle cx="42.28" cy="422.62" r="3.00" fill="#2fb17c"/>
<circle cx="30.24" cy="421.82" r="3.00" fill="#35b579"/>
<circle cx="31.26" cy="422.31" r="3.00" fill="#219a89"/>
<circle cx="28.91" cy="423.75" r="3.00" fill="#21978a"/>
<circle cx="28.80" cy="422.04" r="3.00" fill="#22a087"/>
<circle cx="30.93" cy="422.99" r="3.00" fill="#21958b"/>
<circle cx="32.80" cy="407.02" r="3.00" fill="#219989"/>
<circle cx="32.57" cy="406.53" r="3.00" fill="#21938b"/>
<circle cx="33.26" cy="407.30" r="3.00" fill="#22a286"/>
<circle cx="34.58" cy="407.05" r="3.00" fill="#34b479"/>
<circle cx="32.53" cy="410.19" r="3.00" fill="#219a89"/>
<circle cx="30.91" cy="417.20" r="3.00" fill="#37b678"/>
<circle cx="31.66" cy="414.86" r="3.00" fill="#22a485"/>
<circle cx="29.96" cy="417.86" r="3.00" fill="#23a983"/>
<circle cx="31.59" cy="414.84" r="3.00" fill="#2fb17c"/>
<circle cx="31.22" cy="415.89" r="3.00" fill="#68cb5b"/>
<circle cx="28.65" cy="415.21" r="3.00" fill="#219b89"/>
<circle cx="29.00" cy="415.64" r="3.00" fill="#21978a"/>
<circle cx="27.36" cy="416.23" r="3.00" fill="#40bc72"/>
<circle cx="28.19" cy="416.28" r="3.00" fill="#22a186"/>
<circle cx="31.14" cy="416.15" r="3.00" fill="#22a685"/>
<circle cx="34.96" cy="411.84" r="3.00" fill="#36b578"/>
<circle cx="30.75" cy="413.65" r="3.00" fill="#39b777"/>
<circle cx="32.42" cy="412.41" r="3.00" fill="#22a087"/>
<circle cx="32.82" cy="412.82" r="3.00" fill="#48c06d"/>
<circle cx="32.75" cy="413.16" r="3.00" fill="#63c95e"/>
<circle cx="29.62" cy="415.90" r="3.00" fill="#219989"/>
<circle cx="28.09" cy="414.12" r="3.00" fill="#43be71"/>
<circle cx="26.85" cy="412.42" r="3.00" fill="#3bb975"/>
<circle cx="29.07" cy="411.25" r="3.00" fill="#2fb17c"/>
<circle cx="26.81" cy="413.26" r="3.00" fill="#31b27b"/>
<circle cx="32.53" cy="413.12" r="3.00" fill="#36b578"/>
<circle cx="33.23" cy="415.16" r="3.00" fill="#43be71"/>
<circle cx="32.58" cy="416.20" r="3.00" fill="#64ca5e"/>
<circle cx="32.54" cy="413.59" r="3.00" fill="#55c566"/>
<circle cx="37.08" cy="417.56" r="3.00" fill="#3dba74"/>
<circle cx="30.45" cy="408.13" r="3.00" fill="#42be71"/>
<circle cx="28.87" cy="407.32" r="3.00" fill="#21928c"/>
<circle cx="28.38" cy="411.36" r="3.00" fill="#22a784"/>
<circle cx="35.52" cy="424.63" r="3.00" fill="#21928c"/>
<circle cx="35.51" cy="413.47" r="3.00" fill="#2fb17c"/>
<circle cx="31.84" cy="416.87" r="3.00" fill="#47c06e"/>
<circle cx="30.48" cy="412.79" r="3.00" fill="#3bb976"/>
<circle cx="26.25" cy="412.26" r="3.00" fill="#219889"/>
<circle cx="33.46" cy="419.01" r="3.00" fill="#22a186"/>
<circle cx="35.98" cy="408.74" r="3.00" fill="#3bb975"/>
<circle cx="28.73" cy="411.05" r="3.00" fill="#27ab81"/>
<circle cx="31.29" cy="415.15" r="3.00" fill="#3ab876"/>
<circle cx="37.63" cy="414.45" r="3.00" fill="#33b47a"/>
<circle cx="33.48" cy="425.99" r="3.00" fill="#219989"/>
<circle cx="38.58" cy="423.23" r="3.00" fill="#30b27c"/>
<circle cx="33.95" cy="420.14" r="3.00" fill="#3ab876"/>
<circle cx="39.39" cy="419.91" r="3.00" fill="#46c06f"/>
<circle cx="35.91" cy="421.67" r="3.00" fill="#34b579"/>
<circle cx="32.51" cy="417.37" r="3.00" fill="#68cb5b"/>
<circle cx="31.46" cy="426.26" r="3.00" fill="#3fbc73"/>
<circle cx="33.68" cy="411.30" r="3.00" fill="#2fb17c"/>
<circle cx="26.96" cy="411.51" r="3.00" fill="#35b579"/>
<circle cx="35.46" cy="420.20" r="3.00" fill="#23a884"/>
<circle cx="33.50" cy="417.90" r="3.00" fill="#31b27b"/>
<circle cx="30.08" cy="410.18" r="3.00" fill="#32b37b"/>
<circle cx="31.72" cy="404.82" r="3.00" fill="#22a286"/>
<circle cx="30.13" cy="415.74" r="3.00" fill="#38b777"/>
<circle cx="39.24" cy="418.13" r="3.00" fill="#2bae7e"/>
<circle cx="37.49" cy="414.52" r="3.00" fill="#4cc26b"/>
<circle cx="28.27" cy="411.12" r="3.00" fill="#219989"/>
<circle cx="33.61" cy="420.03" r="3.00" fill="#63c95e"/>
<circle cx="30.64" cy="410.85" r="3.00" fill="#219b89"/>
<circle cx="36.93" cy="425.22" r="3.00" fill="#4ec26a"/>
<circle cx="30.39" cy="414.74" r="3.00" fill="#24a983"/>
<circle cx="33.64" cy="408.82" r="3.00" fill="#32b37b"/>
<circle cx="37.66" cy="420.69" r="3.00" fill="#2eb07d"/>
<circle cx="31.45" cy="409.46" r="3.00" fill="#21918c"/>
<circle cx="35.52" cy="409.19" r="3.00" fill="#2bae7e"/>
<circle cx="30.56" cy="422.70" r="3.00" fill="#22a286"/>
<circle cx="32.39" cy="426.81" r="3.00" fill="#30b27c"/>
<circle cx="31.25" cy="409.08" r="3.00" fill="#2aad7f"/>
<circle cx="28.94" cy="414.97" r="3.00" fill="#3cba75"/>
<circle cx="37.02" cy="425.76" r="3.00" fill="#22a286"/>
<circle cx="27.86" cy="414.64" r="3.00" fill="#2bae7f"/>
<circle cx="26.78" cy="414.87" r="3.00" fill="#29ad80"/>
<circle cx="37.39" cy="411.11" r="3.00" fill="#49c16d"/>
<circle cx="34.28" cy="412.93" r="3.00" fill="#5ec861"/>
<circle cx="30.42" cy="412.65" r="3.00" fill="#6ecd58"/>
<circle cx="29.33" cy="413.34" r="3.00" fill="#25aa82"/>
<circle cx="32.54" cy="423.72" r="3.00" fill="#3ebb74"/>
<circle cx="36.51" cy="413.72" r="3.00" fill="#21938b"/>
<circle cx="27.03" cy="416.70" r="3.00" fill="#22a784"/>
<circle cx="33.21" cy="425.88" r="3.00" fill="#21958b"/>
<circle cx="28.31" cy="413.86" r="3.00" fill="#22a685"/>
<circle cx="33.17" cy="423.35" r="3.00" fill="#22a087"/>
<circle cx="36.90" cy="409.52" r="3.00" fill="#26ab82"/>
<circle cx="37.80" cy="424.41" r="3.00" fill="#35b579"/>
<circle cx="29.70" cy="411.41" r="3.00" fill="#21918c"/>
<circle cx="39.09" cy="417.51" r="3.00" fill="#2caf7e"/>
<circle cx="30.86" cy="421.61" r="3.00" fill="#21988a"/>
<circle cx="29.43" cy="411.54" r="3.00" fill="#22a485"/>
<circle cx="38.65" cy="418.01" r="3.00" fill="#42bd71"/>
<circle cx="29.35" cy="416.25" r="3.00" fill="#2db07d"/>
<circle cx="30.19" cy="410.80" r="3.00" fill="#22a784"/>
<circle cx="31.89" cy="416.14" r="3.00" fill="#61c95f"/>
<circle cx="37.73" cy="420.66" r="3.00" fill="#3dba74"/>
<circle cx="38.15" cy="421.38" r="3.00" fill="#21958b"/>
<circle cx="33.32" cy="411.94" r="3.00" fill="#36b678"/>
<circle cx="29.88" cy="413.47" r="3.00" fill="#30b17c"/>
<circle cx="30.22" cy="422.59" r="3.00" fill="#21938b"/>
<circle cx="27.22" cy="418.52" r="3.00" fill="#3ebb73"/>
<circle cx="27.87" cy="407.37" r="3.00" fill="#22a087"/>
<circle cx="27.74" cy="417.14" r="3.00" fill="#21948b"/>
<circle cx="35.17" cy="414.35" r="3.00" fill="#28ac81"/>
<circle cx="29.07" cy="414.94" r="3.00" fill="#3ab976"/>
<circle cx="35.14" cy="419.70" r="3.00" fill="#24a983"/>
<circle cx="37.56" cy="423.25" r="3.00" fill="#26ab82"/>
<circle cx="33.05" cy="407.14" r="3.00" fill="#25aa82"/>
<circle cx="36.08" cy="410.55" r="3.00" fill="#27ac81"/>
<circle cx="33.03" cy="413.06" r="3.00" fill="#54c467"/>
<circle cx="34.34" cy="408.70" r="3.00" fill="#34b47a"/>
<circle cx="28.42" cy="411.04" r="3.00" fill="#30b27c"/>
<circle cx="32.95" cy="411.98" r="3.00" fill="#29ad80"/>
<circle cx="31.61" cy="410.04" r="3.00" fill="#30b27c"/>
<circle cx="37.39" cy="418.73" r="3.00" fill="#22a186"/>
<circle cx="34.01" cy="423.35" r="3.00" fill="#33b47a"/>
<circle cx="26.55" cy="410.13" r="3.00" fill="#34b479"/>
<circle cx="39.12" cy="416.71" r="3.00" fill="#4ac16d"/>
<circle cx="37.57" cy="412.08" r="3.00" fill="#21938b"/>
<circle cx="37.14" cy="413.98" r="3.00" fill="#3fbb73"/>
<circle cx="31.12" cy="422.99" r="3.00" fill="#3dba74"/>
<circle cx="34.58" cy="418.54" r="3.00" fill="#2aae7f"/>
<circle cx="28.64" cy="413.90" r="3.00" fill="#2daf7e"/>
<circle cx="26.89" cy="410.39" r="3.00" fill="#41bd72"/>
<circle cx="30.21" cy="418.99" r="3.00" fill="#37b678"/>
<circle cx="33.28" cy="409.02" r="3.00" fill="#47c06e"/>
<circle cx="33.53" cy="408.54" r="3.00" fill="#22a386"/>
<circle cx="29.03" cy="409.93" r="3.00" fill="#40bc73"/>
<circle cx="36.73" cy="416.40" r="3.00" fill="#40bc72"/>
<circle cx="31.73" cy="417.51" r="3.00" fill="#28ac81"/>
<circle cx="32.59" cy="406.53" r="3.00" fill="#26ab82"/>
<circle cx="29.52" cy="421.39" r="3.00" fill="#22a884"/>
<circle cx="30.63" cy="411.46" r="3.00" fill="#22a087"/>
<circle cx="32.56" cy="426.81" r="3.00" fill="#21958b"/>
<circle cx="30.77" cy="418.10" r="3.00" fill="#56c565"/>
<circle cx="30.61" cy="414.60" r="3.00" fill="#61c95f"/>
<circle cx="29.65" cy="409.65" r="3.00" fill="#219c88"/>
<circle cx="34.24" cy="408.83" r="3.00" fill="#2daf7e"/>
<circle cx="33.38" cy="423.51" r="3.00" fill="#42bd71"/>
<circle cx="33.46" cy="424.96" r="3.00" fill="#21958b"/>
<circle cx="112.77" cy="423.27" r="3.00" fill="#440154"/>
<circle cx="117.89" cy="424.66" r="3.00" fill="#440154"/>
<circle cx="116.54" cy="424.79" r="3.00" fill="#440154"/>
<circle cx="113.09" cy="423.45" r="3.00" fill="#440154"/>
<circle cx="114.46" cy="424.56" r="3.00" fill="#440154"/>
<circle cx="110.96" cy="431.06" r="3.00" fill="#440154"/>
<circle cx="111.04" cy="431.55" r="3.00" fill="#440154"/>
<circle cx="110.19" cy="435.13" r="3.00" fill="#440154"/>
<circle cx="111.12" cy="432.03" r="3.00" fill="#440154"/>
<circle cx="111.91" cy="433.64" r="3.00" fill="#440154"/>
<circle cx="115.09" cy="442.81" r="3.00" fill="#440154"/>
<circle cx="115.53" cy="442.64" r="3.00" fill="#440154"/>
<circle cx="115.46" cy="441.39" r="3.00" fill="#440154"/>
<circle cx="115.16" cy="440.32" r="3.00" fill="#440154"/>
<circle cx="115.71" cy="444.12" r="3.00" fill="#440154"/>
<circle cx="111.42" cy="433.68" r="3.00" fill="#440154"/>
<circle cx="110.91" cy="434.70" r="3.00" fill="#440154"/>
<circle cx="109.95" cy="434.45" r="3.00" fill="#440154"/>
<circle cx="112.19" cy="434.95" r="3.00" fill="#440154"/>
<circle cx="114.93" cy="434.00" r="3.00" fill="#440154"/>
<circle cx="113.94" cy="432.71" r="3.00" fill="#440154"/>
<circle cx="112.79" cy="433.54" r="3.00" fill="#440154"/>
<circle cx="112.01" cy="434.88" r="3.00" fill="#440154"/>
<circle cx="112.24" cy="432.51" r="3.00" fill="#440154"/>
<circle cx="113.65" cy="432.60" r="3.00" fill="#440154"/>
<circle cx="112.66" cy="426.61" r="3.00" fill="#440154"/>
<circle cx="113.03" cy="427.48" r="3.00" fill="#440154"/>
<circle cx="112.76" cy="426.91" r="3.00" fill="#440154"/>
<circle cx="110.76" cy="423.65" r="3.00" fill="#440154"/>
<circle cx="112.00" cy="427.25" r="3.00" fill="#440154"/>
<circle cx="114.48" cy="442.13" r="3.00" fill="#440154"/>
<circle cx="114.28" cy="442.68" r="3.00" fill="#440154"/>
<circle cx="114.99" cy="444.45" r="3.00" fill="#440154"/>
<circle cx="114.87" cy="443.05" r="3.00" fill="#440154"/>
<circle cx="114.96" cy="442.48" r="3.00" fill="#440154"/>
<circle cx="112.29" cy="430.80" r="3.00" fill="#440154"/>
<circle cx="112.20" cy="433.12" r="3.00" fill="#440154"/>
<circle cx="112.65" cy="428.98" r="3.00" fill="#440154"/>
<circle cx="110.10" cy="435.40" r="3.00" fill="#440154"/>
<circle cx="112.31" cy="430.69" r="3.00" fill="#440154"/>
<circle cx="112.09" cy="421.15" r="3.00" fill="#440154"/>
<circle cx="114.14" cy="422.49" r="3.00" fill="#440154"/>
<circle cx="113.23" cy="423.68" r="3.00" fill="#440154"/>
<circle cx="111.44" cy="422.90" r="3.00" fill="#440154"/>
<circle cx="110.52" cy="424.34" r="3.00" fill="#440154"/>
<circle cx="114.47" cy="418.34" r="3.00" fill="#440154"/>
<circle cx="114.41" cy="419.64" r="3.00" fill="#440154"/>
<circle cx="115.37" cy="421.39" r="3.00" fill="#440154"/>
<circle cx="115.96" cy="422.06" r="3.00" fill="#440154"/>
<circle cx="114.90" cy="420.19" r="3.00" fill="#440154"/>
<circle cx="118.90" cy="430.26" r="3.00" fill="#440154"/>
<circle cx="117.75" cy="429.88" r="3.00" fill="#440154"/>
<circle cx="118.70" cy="429.71" r="3.00" fill="#440154"/>
<circle cx="118.49" cy="429.14" r="3.00" fill="#440154"/>
<circle cx="118.38" cy="428.90" r="3.00" fill="#440154"/>
<circle cx="118.70" cy="434.37" r="3.00" fill="#440154"/>
<circle cx="119.07" cy="434.10" r="3.00" fill="#440154"/>
<circle cx="116.50" cy="437.17" r="3.00" fill="#440154"/>
<circle cx="117.87" cy="435.10" r="3.00" fill="#440154"/>
<circle cx="117.26" cy="436.77" r="3.00" fill="#440154"/>
<circle cx="118.12" cy="424.83" r="3.00" fill="#440154"/>
<circle cx="118.13" cy="424.00" r="3.00" fill="#440154"/>
<circle cx="119.53" cy="424.24" r="3.00" fill="#440154"/>
<circle cx="119.05" cy="422.88" r="3.00" fill="#440154"/>
<circle cx="121.06" cy="422.27" r="3.00" fill="#440154"/>
<circle cx="116.67" cy="424.63" r="3.00" fill="#440154"/>
<circle cx="116.36" cy="426.77" r="3.00" fill="#440154"/>
<circle cx="118.18" cy="424.68" r="3.00" fill="#440154"/>
<circle cx="115.77" cy="427.14" r="3.00" fill="#440154"/>
<circle cx="116.40" cy="426.96" r="3.00" fill="#440154"/>
<circle cx="113.07" cy="440.14" r="3.00" fill="#440154"/>
<circle cx="115.26" cy="440.58" r="3.00" fill="#440154"/>
<circle cx="115.68" cy="440.95" r="3.00" fill="#440154"/>
<circle cx="113.08" cy="439.97" r="3.00" fill="#440154"/>
<circle cx="113.88" cy="440.14" r="3.00" fill="#440154"/>
<circle cx="118.04" cy="425.78" r="3.00" fill="#440154"/>
<circle cx="115.35" cy="425.61" r="3.00" fill="#440154"/>
<circle cx="118.46" cy="425.32" r="3.00" fill="#440154"/>
<circle cx="118.49" cy="425.30" r="3.00" fill="#440154"/>
<circle cx="117.95" cy="424.39" r="3.00" fill="#440154"/>
<circle cx="113.67" cy="430.58" r="3.00" fill="#440154"/>
<circle cx="113.44" cy="428.81" r="3.00" fill="#440154"/>
<circle cx="114.36" cy="429.85" r="3.00" fill="#440154"/>
<circle cx="112.06" cy="430.06" r="3.00" fill="#440154"/>
<circle cx="110.60" cy="428.25" r="3.00" fill="#440154"/>
<circle cx="114.37" cy="429.04" r="3.00" fill="#440154"/>
<circle cx="115.32" cy="430.37" r="3.00" fill="#440154"/>
<circle cx="115.36" cy="429.52" r="3.00" fill="#440154"/>
<circle cx="114.82" cy="429.21" r="3.00" fill="#440154"/>
<circle cx="116.89" cy="429.29" r="3.00" fill="#440154"/>
<circle cx="112.32" cy="423.98" r="3.00" fill="#440154"/>
<circle cx="112.23" cy="425.19" r="3.00" fill="#440154"/>
<circle cx="111.25" cy="427.53" r="3.00" fill="#440154"/>
<circle cx="113.37" cy="425.94" r="3.00" fill="#440154"/>
<circle cx="111.02" cy="427.17" r="3.00" fill="#440154"/>
<circle cx="117.84" cy="442.33" r="3.00" fill="#440154"/>
<circle cx="118.19" cy="440.26" r="3.00" fill="#440154"/>
<circle cx="117.55" cy="441.36" r="3.00" fill="#440154"/>
<circle cx="115.51" cy="441.18" r="3.00" fill="#440154"/>
<circle cx="113.44" cy="442.57" r="3.00" fill="#440154"/>
<circle cx="114.25" cy="423.81" r="3.00" fill="#440154"/>
<circle cx="116.30" cy="435.25" r="3.00" fill="#440154"/>
<circle cx="116.21" cy="437.62" r="3.00" fill="#440154"/>
<circle cx="111.60" cy="434.01" r="3.00" fill="#440154"/>
<circle cx="113.58" cy="439.34" r="3.00" fill="#440154"/>
<circle cx="112.37" cy="425.18" r="3.00" fill="#440154"/>
<circle cx="117.26" cy="439.40" r="3.00" fill="#440154"/>
<circle cx="115.63" cy="439.62" r="3.00" fill="#440154"/>
<circle cx="116.25" cy="427.27" r="3.00" fill="#440154"/>
<circle cx="117.31" cy="425.43" r="3.00" fill="#440154"/>
<circle cx="113.72" cy="430.28" r="3.00" fill="#440154"/>
<circle cx="113.09" cy="436.97" r="3.00" fill="#440154"/>
<circle cx="114.21" cy="427.93" r="3.00" fill="#440154"/>
<circle cx="118.52" cy="432.37" r="3.00" fill="#440154"/>
<circle cx="117.52" cy="434.96" r="3.00" fill="#440154"/>
<circle cx="111.55" cy="429.91" r="3.00" fill="#440154"/>
<circle cx="114.19" cy="438.35" r="3.00" fill="#440154"/>
<circle cx="113.59" cy="436.74" r="3.00" fill="#440154"/>
<circle cx="115.63" cy="425.61" r="3.00" fill="#440154"/>
<circle cx="117.82" cy="424.66" r="3.00" fill="#440154"/>
<circle cx="111.25" cy="431.69" r="3.00" fill="#440154"/>
<circle cx="114.58" cy="438.91" r="3.00" fill="#440154"/>
<circle cx="112.61" cy="431.85" r="3.00" fill="#440154"/>
<circle cx="113.44" cy="439.66" r="3.00" fill="#440154"/>
<circle cx="113.70" cy="425.46" r="3.00" fill="#440154"/>
<circle cx="116.52" cy="432.14" r="3.00" fill="#440154"/>
<circle cx="111.88" cy="435.08" r="3.00" fill="#440154"/>
<circle cx="116.15" cy="438.77" r="3.00" fill="#440154"/>
<circle cx="116.14" cy="428.83" r="3.00" fill="#440154"/>
<circle cx="114.38" cy="429.64" r="3.00" fill="#440154"/>
<circle cx="113.05" cy="426.54" r="3.00" fill="#440154"/>
<circle cx="118.04" cy="432.29" r="3.00" fill="#440154"/>
<circle cx="113.62" cy="440.87" r="3.00" fill="#440154"/>
<circle cx="113.03" cy="431.10" r="3.00" fill="#440154"/>
<circle cx="114.93" cy="437.96" r="3.00" fill="#440154"/>
<circle cx="116.74" cy="435.56" r="3.00" fill="#440154"/>
<circle cx="114.06" cy="428.06" r="3.00" fill="#440154"/>
<circle cx="111.97" cy="439.84" r="3.00" fill="#440154"/>
<circle cx="115.94" cy="437.72" r="3.00" fill="#440154"/>
<circle cx="112.57" cy="430.56" r="3.00" fill="#440154"/>
<circle cx="116.98" cy="434.03" r="3.00" fill="#440154"/>
<circle cx="112.21" cy="431.08" r="3.00" fill="#440154"/>
<circle cx="118.24" cy="426.23" r="3.00" fill="#440154"/>
<circle cx="112.90" cy="427.42" r="3.00" fill="#440154"/>
<circle cx="116.13" cy="440.07" r="3.00" fill="#440154"/>
<circle cx="112.79" cy="424.06" r="3.00" fill="#440154"/>
<circle cx="113.29" cy="428.02" r="3.00" fill="#440154"/>
<circle cx="115.58" cy="424.32" r="3.00" fill="#440154"/>
<circle cx="114.07" cy="424.89" r="3.00" fill="#440154"/>
<circle cx="112.12" cy="429.28" r="3.00" fill="#440154"/>
<circle cx="116.85" cy="430.70" r="3.00" fill="#440154"/>
<circle cx="112.53" cy="435.15" r="3.00" fill="#440154"/>
<circle cx="112.37" cy="425.20" r="3.00" fill="#440154"/>
<circle cx="114.71" cy="421.35" r="3.00" fill="#440154"/>
<circle cx="113.88" cy="438.74" r="3.00" fill="#440154"/>
<circle cx="116.47" cy="432.19" r="3.00" fill="#440154"/>
<circle cx="116.05" cy="431.31" r="3.00" fill="#440154"/>
<circle cx="112.16" cy="434.34" r="3.00" fill="#440154"/>
<circle cx="113.99" cy="437.60" r="3.00" fill="#440154"/>
<circle cx="118.18" cy="430.66" r="3.00" fill="#440154"/>
<circle cx="115.26" cy="437.85" r="3.00" fill="#440154"/>
<circle cx="114.73" cy="425.83" r="3.00" fill="#440154"/>
<circle cx="116.23" cy="440.92" r="3.00" fill="#440154"/>
<circle cx="116.84" cy="436.80" r="3.00" fill="#440154"/>
<circle cx="117.46" cy="436.37" r="3.00" fill="#440154"/>
<circle cx="116.13" cy="431.10" r="3.00" fill="#440154"/>
<circle cx="113.43" cy="434.97" r="3.00" fill="#440154"/>
<circle cx="112.04" cy="430.09" r="3.00" fill="#440154"/>
<circle cx="116.89" cy="437.11" r="3.00" fill="#440154"/>
<circle cx="116.28" cy="426.41" r="3.00" fill="#440154"/>
<circle cx="114.47" cy="431.04" r="3.00" fill="#440154"/>
<circle cx="116.03" cy="430.07" r="3.00" fill="#440154"/>
<circle cx="115.81" cy="442.05" r="3.00" fill="#440154"/>
<circle cx="112.41" cy="435.52" r="3.00" fill="#440154"/>
<circle cx="117.25" cy="429.65" r="3.00" fill="#440154"/>
<circle cx="114.35" cy="443.00" r="3.00" fill="#440154"/>
<circle cx="111.44" cy="432.91" r="3.00" fill="#440154"/>
<circle cx="112.09" cy="438.44" r="3.00" fill="#440154"/>
<circle cx="118.32" cy="432.72" r="3.00" fill="#440154"/>
<circle cx="111.88" cy="433.65" r="3.00" fill="#440154"/>
<circle cx="115.05" cy="437.11" r="3.00" fill="#440154"/>
<circle cx="114.92" cy="435.30" r="3.00" fill="#440154"/>
<circle cx="117.47" cy="432.73" r="3.00" fill="#440154"/>
<circle cx="113.78" cy="442.35" r="3.00" fill="#440154"/>
<circle cx="112.58" cy="436.22" r="3.00" fill="#440154"/>
<circle cx="113.87" cy="438.09" r="3.00" fill="#440154"/>
<circle cx="114.44" cy="421.86" r="3.00" fill="#440154"/>
<circle cx="113.41" cy="429.71" r="3.00" fill="#440154"/>
<circle cx="111.40" cy="430.04" r="3.00" fill="#440154"/>
<circle cx="114.16" cy="436.62" r="3.00" fill="#440154"/>
<circle cx="115.89" cy="416.99" r="3.00" fill="#440154"/>
<circle cx="115.28" cy="421.27" r="3.00" fill="#440154"/>
<circle cx="118.71" cy="419.34" r="3.00" fill="#440154"/>
<circle cx="115.25" cy="421.81" r="3.00" fill="#440154"/>
<circle cx="116.08" cy="416.51" r="3.00" fill="#440154"/>
<circle cx="114.82" cy="421.59" r="3.00" fill="#440154"/>
<circle cx="118.09" cy="420.31" r="3.00" fill="#440154"/>
<circle cx="116.45" cy="419.66" r="3.00" fill="#440154"/>
<circle cx="115.90" cy="420.35" r="3.00" fill="#440154"/>
<circle cx="118.13" cy="421.95" r="3.00" fill="#440154"/>
<circle cx="116.45" cy="417.25" r="3.00" fill="#440154"/>
<circle cx="116.83" cy="415.73" r="3.00" fill="#440154"/>
<circle cx="118.20" cy="417.79" r="3.00" fill="#440154"/>
<circle cx="118.28" cy="417.01" r="3.00" fill="#440154"/>
<circle cx="116.01" cy="416.88" r="3.00" fill="#440154"/>
<circle cx="116.25" cy="416.27" r="3.00" fill="#440154"/>
<circle cx="164.00" cy="388.10" r="3.00" fill="#21918c"/>
<circle cx="167.50" cy="391.10" r="3.00" fill="#21918c"/>
<circle cx="204.50" cy="433.33" r="3.00" fill="#22a087"/>
<circle cx="174.73" cy="427.88" r="3.00" fill="#28ac81"/>
<circle cx="218.14" cy="422.09" r="3.00" fill="#2aad7f"/>
<circle cx="154.10" cy="433.94" r="3.00" fill="#2aad7f"/>
<circle cx="193.10" cy="438.68" r="3.00" fill="#229f87"/>
<circle cx="191.15" cy="416.66" r="3.00" fill="#38b777"/>
<circle cx="190.30" cy="437.89" r="3.00" fill="#35b579"/>
<circle cx="167.11" cy="446.24" r="3.00" fill="#229f87"/>
<circle cx="160.08" cy="395.27" r="3.00" fill="#228d8c"/>
<circle cx="157.42" cy="400.84" r="3.00" fill="#21938b"/>
<circle cx="186.84" cy="415.34" r="3.00" fill="#21988a"/>
<circle cx="138.02" cy="430.47" r="3.00" fill="#29ad80"/>
<circle cx="153.70" cy="438.14" r="3.00" fill="#229d88"/>
<circle cx="187.94" cy="415.88" r="3.00" fill="#22a784"/>
<circle cx="200.14" cy="438.44" r="3.00" fill="#21988a"/>
<circle cx="188.41" cy="432.48" r="3.00" fill="#2aae7f"/>
<circle cx="179.91" cy="441.24" r="3.00" fill="#24a983"/>
<circle cx="173.07" cy="427.43" r="3.00" fill="#229f87"/>
<circle cx="185.42" cy="412.39" r="3.00" fill="#219a89"/>
<circle cx="170.78" cy="415.15" r="3.00" fill="#37b678"/>
<circle cx="138.40" cy="433.02" r="3.00" fill="#38b777"/>
<circle cx="184.12" cy="411.69" r="3.00" fill="#3ab876"/>
<circle cx="182.96" cy="436.55" r="3.00" fill="#219989"/>
<circle cx="198.60" cy="413.40" r="3.00" fill="#3cb975"/>
<circle cx="187.89" cy="436.37" r="3.00" fill="#22a286"/>
<circle cx="191.55" cy="421.35" r="3.00" fill="#22a486"/>
<circle cx="217.39" cy="416.56" r="3.00" fill="#3cb975"/>
<circle cx="169.45" cy="425.38" r="3.00" fill="#22a087"/>
<circle cx="192.84" cy="434.45" r="3.00" fill="#26ab82"/>
<circle cx="168.70" cy="413.72" r="3.00" fill="#31b27b"/>
<circle cx="189.64" cy="448.29" r="3.00" fill="#22a685"/>
<circle cx="174.77" cy="409.22" r="3.00" fill="#22a685"/>
<circle cx="203.23" cy="439.82" r="3.00" fill="#31b27b"/>
<circle cx="200.73" cy="436.67" r="3.00" fill="#2daf7e"/>
<circle cx="162.67" cy="390.64" r="3.00" fill="#25aa82"/>
<circle cx="202.70" cy="450.50" r="3.00" fill="#3bb975"/>
<circle cx="204.47" cy="426.19" r="3.00" fill="#219c88"/>
<circle cx="186.78" cy="442.47" r="3.00" fill="#229d88"/>
<circle cx="172.20" cy="429.71" r="3.00" fill="#2db07d"/>
<circle cx="139.95" cy="432.00" r="3.00" fill="#27ab81"/>
<circle cx="133.19" cy="432.41" r="3.00" fill="#229d88"/>
<circle cx="168.19" cy="419.28" r="3.00" fill="#23a984"/>
<circle cx="191.27" cy="418.19" r="3.00" fill="#30b17c"/>
<circle cx="220.36" cy="421.87" r="3.00" fill="#219a89"/>
<circle cx="160.38" cy="418.45" r="3.00" fill="#219989"/>
<circle cx="179.02" cy="448.78" r="3.00" fill="#26ab81"/>
<circle cx="196.52" cy="412.07" r="3.00" fill="#229f87"/>
<circle cx="160.60" cy="437.05" r="3.00" fill="#219989"/>
<circle cx="191.87" cy="434.37" r="3.00" fill="#37b777"/>
<circle cx="200.07" cy="437.93" r="3.00" fill="#23a984"/>
<circle cx="204.11" cy="439.73" r="3.00" fill="#2db07d"/>
<circle cx="190.26" cy="416.48" r="3.00" fill="#219c88"/>
<circle cx="158.33" cy="445.81" r="3.00" fill="#3dba74"/>
<circle cx="169.07" cy="394.70" r="3.00" fill="#21908c"/>
<circle cx="190.13" cy="433.09" r="3.00" fill="#219a89"/>
<circle cx="205.41" cy="438.43" r="3.00" fill="#2fb17c"/>
<circle cx="167.08" cy="393.35" r="3.00" fill="#22a187"/>
<circle cx="147.67" cy="417.59" r="3.00" fill="#64ca5d"/>
<circle cx="159.89" cy="434.21" r="3.00" fill="#27ac81"/>
<circle cx="147.91" cy="414.99" r="3.00" fill="#22a585"/>
<circle cx="139.10" cy="430.81" r="3.00" fill="#37b677"/>
<circle cx="202.81" cy="436.70" r="3.00" fill="#22a585"/>
<circle cx="161.09" cy="439.44" r="3.00" fill="#64ca5d"/>
<circle cx="136.70" cy="430.78" r="3.00" fill="#21988a"/>
<circle cx="194.70" cy="440.88" r="3.00" fill="#24a983"/>
<circle cx="200.76" cy="430.79" r="3.00" fill="#22a386"/>
<circle cx="214.07" cy="422.07" r="3.00" fill="#219b89"/>
<circle cx="161.73" cy="428.13" r="3.00" fill="#22a386"/>
<circle cx="161.99" cy="393.51" r="3.00" fill="#228e8c"/>
<circle cx="149.20" cy="396.22" r="3.00" fill="#238b8c"/>
<circle cx="192.41" cy="446.00" r="3.00" fill="#219a89"/>
<circle cx="176.27" cy="438.91" r="3.00" fill="#26aa82"/>
<circle cx="197.05" cy="417.51" r="3.00" fill="#22a884"/>
<circle cx="140.16" cy="437.05" r="3.00" fill="#30b17c"/>
<circle cx="191.88" cy="445.17" r="3.00" fill="#229e87"/>
<circle cx="155.02" cy="443.81" r="3.00" fill="#64ca5d"/>
<circle cx="156.56" cy="404.48" r="3.00" fill="#23a983"/>
<circle cx="169.49" cy="425.67" r="3.00" fill="#31b27b"/>
<circle cx="164.85" cy="422.83" r="3.00" fill="#27ab81"/>
<circle cx="193.26" cy="441.12" r="3.00" fill="#64ca5d"/>
<circle cx="190.60" cy="440.43" r="3.00" fill="#3cb975"/>
<circle cx="157.51" cy="415.30" r="3.00" fill="#21978a"/>
<circle cx="196.46" cy="410.29" r="3.00" fill="#64ca5d"/>
<circle cx="146.17" cy="416.68" r="3.00" fill="#39b876"/>
<circle cx="205.06" cy="427.57" r="3.00" fill="#229f87"/>
<circle cx="161.18" cy="396.27" r="3.00" fill="#22a486"/>
<circle cx="136.66" cy="435.04" r="3.00" fill="#219989"/>
<circle cx="149.94" cy="434.53" r="3.00" fill="#219889"/>
<circle cx="201.86" cy="435.99" r="3.00" fill="#22a685"/>
<circle cx="192.14" cy="410.37" r="3.00" fill="#219c88"/>
<circle cx="180.33" cy="423.96" r="3.00" fill="#39b876"/>
<circle cx="159.98" cy="394.97" r="3.00" fill="#219b89"/>
<circle cx="199.62" cy="446.22" r="3.00" fill="#27ab81"/>
<circle cx="174.52" cy="432.53" r="3.00" fill="#3dba74"/>
<circle cx="203.52" cy="441.14" r="3.00" fill="#2fb17c"/>
<circle cx="187.00" cy="434.48" r="3.00" fill="#32b37b"/>
<circle cx="188.52" cy="441.16" r="3.00" fill="#64ca5d"/>
<circle cx="190.16" cy="440.54" r="3.00" fill="#23a983"/>
<circle cx="162.04" cy="405.73" r="3.00" fill="#228f8c"/>
<circle cx="174.81" cy="426.69" r="3.00" fill="#229e87"/>
<circle cx="219.40" cy="419.41" r="3.00" fill="#229f87"/>
<circle cx="177.23" cy="422.88" r="3.00" fill="#229e87"/>
<circle cx="182.00" cy="417.79" r="3.00" fill="#2daf7e"/>
<circle cx="156.28" cy="418.51" r="3.00" fill="#219989"/>
<circle cx="196.84" cy="419.25" r="3.00" fill="#24a983"/>
<circle cx="212.09" cy="422.97" r="3.00" fill="#22a386"/>
<circle cx="201.65" cy="431.16" r="3.00" fill="#2bae7f"/>
<circle cx="174.46" cy="416.05" r="3.00" fill="#21978a"/>
<circle cx="200.90" cy="431.84" r="3.00" fill="#35b579"/>
<circle cx="155.86" cy="432.58" r="3.00" fill="#219989"/>
<circle cx="161.18" cy="395.61" r="3.00" fill="#228f8c"/>
<circle cx="204.83" cy="439.59" r="3.00" fill="#29ad80"/>
<circle cx="170.45" cy="413.72" r="3.00" fill="#2caf7e"/>
<circle cx="194.67" cy="438.72" r="3.00" fill="#219989"/>
<circle cx="152.04" cy="399.87" r="3.00" fill="#229d88"/>
<circle cx="142.16" cy="433.64" r="3.00" fill="#21988a"/>
<circle cx="184.92" cy="419.28" r="3.00" fill="#37b677"/>
<circle cx="184.09" cy="444.35" r="3.00" fill="#21988a"/>
<circle cx="175.41" cy="440.06" r="3.00" fill="#64ca5d"/>
<circle cx="161.56" cy="428.75" r="3.00" fill="#219c88"/>
<circle cx="174.78" cy="412.85" r="3.00" fill="#2eb07d"/>
<circle cx="175.68" cy="441.91" r="3.00" fill="#32b37b"/>
<circle cx="196.02" cy="444.52" r="3.00" fill="#32b37a"/>
<circle cx="190.23" cy="439.02" r="3.00" fill="#229e88"/>
<circle cx="200.01" cy="420.82" r="3.00" fill="#229f87"/>
<circle cx="190.06" cy="446.73" r="3.00" fill="#34b479"/>
<circle cx="189.56" cy="430.73" r="3.00" fill="#34b47a"/>
<circle cx="189.58" cy="420.96" r="3.00" fill="#22a685"/>
<circle cx="184.96" cy="437.91" r="3.00" fill="#219a89"/>
<circle cx="187.50" cy="444.35" r="3.00" fill="#22a585"/>
<circle cx="144.90" cy="434.42" r="3.00" fill="#38b777"/>
<circle cx="195.04" cy="446.46" r="3.00" fill="#229f87"/>
<circle cx="189.27" cy="415.46" r="3.00" fill="#33b37a"/>
<circle cx="173.61" cy="434.85" r="3.00" fill="#229e88"/>
<circle cx="163.84" cy="416.23" r="3.00" fill="#36b678"/>
<circle cx="206.26" cy="431.75" r="3.00" fill="#22a186"/>
<circle cx="193.76" cy="445.73" r="3.00" fill="#35b579"/>
<circle cx="191.32" cy="424.14" r="3.00" fill="#25aa82"/>
<circle cx="136.70" cy="429.34" r="3.00" fill="#22a685"/>
<circle cx="198.02" cy="447.86" r="3.00" fill="#32b27b"/>
<circle cx="220.76" cy="421.78" r="3.00" fill="#24a983"/>
<circle cx="163.18" cy="427.86" r="3.00" fill="#229d88"/>
<circle cx="180.57" cy="447.48" r="3.00" fill="#219a89"/>
<circle cx="197.30" cy="440.78" r="3.00" fill="#25aa82"/>
<circle cx="198.04" cy="420.33" r="3.00" fill="#29ac80"/>
<circle cx="171.62" cy="410.97" r="3.00" fill="#64ca5d"/>
<circle cx="198.37" cy="446.53" r="3.00" fill="#22a585"/>
<circle cx="217.42" cy="418.12" r="3.00" fill="#21978a"/>
<circle cx="148.99" cy="430.36" r="3.00" fill="#219a89"/>
<circle cx="177.03" cy="415.85" r="3.00" fill="#22a685"/>
<circle cx="208.63" cy="430.85" r="3.00" fill="#22a784"/>
<circle cx="188.86" cy="437.07" r="3.00" fill="#36b678"/>
<circle cx="185.52" cy="436.94" r="3.00" fill="#24aa83"/>
<circle cx="213.52" cy="425.62" r="3.00" fill="#64ca5d"/>
<circle cx="188.15" cy="438.63" r="3.00" fill="#229f87"/>
<circle cx="202.14" cy="450.64" r="3.00" fill="#2caf7e"/>
<circle cx="217.04" cy="421.39" r="3.00" fill="#36b578"/>
<circle cx="206.63" cy="440.56" r="3.00" fill="#22a685"/>
<circle cx="154.76" cy="439.36" r="3.00" fill="#22a386"/>
<circle cx="195.69" cy="440.64" r="3.00" fill="#34b47a"/>
<circle cx="202.25" cy="418.73" r="3.00" fill="#22a685"/>
<circle cx="157.53" cy="423.27" r="3.00" fill="#229f87"/>
<circle cx="183.28" cy="437.65" r="3.00" fill="#21968a"/>
<circle cx="222.72" cy="419.04" r="3.00" fill="#22a286"/>
<circle cx="225.42" cy="422.11" r="3.00" fill="#22a685"/>
<circle cx="188.44" cy="444.61" r="3.00" fill="#37b678"/>
<circle cx="204.34" cy="421.45" r="3.00" fill="#22a186"/>
<circle cx="202.66" cy="450.10" r="3.00" fill="#22a286"/>
<circle cx="165.45" cy="412.22" r="3.00" fill="#2eb07d"/>
<circle cx="183.36" cy="419.99" r="3.00" fill="#219c88"/>
<circle cx="168.08" cy="393.67" r="3.00" fill="#228f8c"/>
<circle cx="173.34" cy="414.97" r="3.00" fill="#21978a"/>
<circle cx="160.67" cy="421.80" r="3.00" fill="#22a286"/>
<circle cx="203.60" cy="416.44" r="3.00" fill="#3bb975"/>
<circle cx="145.52" cy="437.68" r="3.00" fill="#219b88"/>
<circle cx="171.69" cy="414.85" r="3.00" fill="#2aad7f"/>
<circle cx="197.58" cy="442.96" r="3.00" fill="#22a386"/>
<circle cx="178.16" cy="408.73" r="3.00" fill="#2cae7e"/>
<circle cx="158.01" cy="434.48" r="3.00" fill="#21978a"/>
<circle cx="165.37" cy="430.33" r="3.00" fill="#21988a"/>
<circle cx="174.03" cy="431.37" r="3.00" fill="#219b88"/>
<circle cx="207.44" cy="430.99" r="3.00" fill="#23a884"/>
<circle cx="171.35" cy="436.68" r="3.00" fill="#22a087"/>
<circle cx="181.25" cy="417.86" r="3.00" fill="#3dba74"/>
<circle cx="187.62" cy="431.16" r="3.00" fill="#3cba74"/>
<circle cx="199.17" cy="422.96" r="3.00" fill="#219c88"/>
<circle cx="198.64" cy="422.17" r="3.00" fill="#2fb17c"/>
<circle cx="161.39" cy="438.26" r="3.00" fill="#22a186"/>
<circle cx="170.46" cy="436.29" r="3.00" fill="#21978a"/>
<circle cx="223.23" cy="422.99" r="3.00" fill="#229d88"/>
<circle cx="185.67" cy="416.45" r="3.00" fill="#26ab82"/>
<circle cx="183.43" cy="417.59" r="3.00" fill="#219989"/>
<circle cx="141.10" cy="434.20" r="3.00" fill="#35b579"/>
<circle cx="173.76" cy="432.19" r="3.00" fill="#22a784"/>
<circle cx="164.56" cy="417.50" r="3.00" fill="#37b678"/>
<circle cx="192.17" cy="433.28" r="3.00" fill="#26ab82"/>
<circle cx="160.71" cy="439.68" r="3.00" fill="#35b579"/>
<circle cx="179.55" cy="436.41" r="3.00" fill="#22a785"/>
<circle cx="159.06" cy="397.88" r="3.00" fill="#21988a"/>
<circle cx="152.83" cy="395.73" r="3.00" fill="#64ca5d"/>
<circle cx="162.84" cy="394.51" r="3.00" fill="#21908c"/>
<circle cx="172.48" cy="443.30" r="3.00" fill="#22a485"/>
<circle cx="189.15" cy="440.54" r="3.00" fill="#22a585"/>
<circle cx="219.46" cy="423.35" r="3.00" fill="#229e87"/>
<circle cx="187.17" cy="420.71" r="3.00" fill="#23a983"/>
<circle cx="152.69" cy="433.27" r="3.00" fill="#22a187"/>
<circle cx="195.86" cy="447.34" r="3.00" fill="#2eb07d"/>
<circle cx="162.49" cy="396.51" r="3.00" fill="#24888d"/>
<circle cx="168.56" cy="442.18" r="3.00" fill="#22a784"/>
<circle cx="157.44" cy="427.27" r="3.00" fill="#219c88"/>
<circle cx="137.01" cy="430.59" r="3.00" fill="#22a784"/>
<circle cx="173.11" cy="421.53" r="3.00" fill="#219b88"/>
<circle cx="167.52" cy="425.66" r="3.00" fill="#3cba75"/>
<circle cx="145.06" cy="433.90" r="3.00" fill="#2fb17c"/>
<circle cx="187.21" cy="421.42" r="3.00" fill="#37b678"/>
<circle cx="186.80" cy="425.10" r="3.00" fill="#36b678"/>
<circle cx="159.69" cy="394.05" r="3.00" fill="#248a8d"/>
<circle cx="201.87" cy="423.40" r="3.00" fill="#64ca5d"/>
<circle cx="193.32" cy="431.73" r="3.00" fill="#22a585"/>
<circle cx="198.93" cy="439.59" r="3.00" fill="#39b777"/>
<circle cx="167.68" cy="440.83" r="3.00" fill="#22a386"/>
<circle cx="198.20" cy="411.75" r="3.00" fill="#219989"/>
<circle cx="147.61" cy="416.56" r="3.00" fill="#219a89"/>
<circle cx="190.86" cy="417.74" r="3.00" fill="#24aa83"/>
<circle cx="180.55" cy="410.47" r="3.00" fill="#22a485"/>
<circle cx="173.25" cy="432.43" r="3.00" fill="#28ac81"/>
<circle cx="173.58" cy="419.31" r="3.00" fill="#22a087"/>
<circle cx="166.85" cy="447.86" r="3.00" fill="#28ac80"/>
<circle cx="166.70" cy="445.31" r="3.00" fill="#35b579"/>
<circle cx="187.09" cy="431.65" r="3.00" fill="#3cba75"/>
<circle cx="210.58" cy="419.49" r="3.00" fill="#219b89"/>
<circle cx="176.54" cy="412.87" r="3.00" fill="#219a89"/>
<circle cx="173.23" cy="411.90" r="3.00" fill="#21968a"/>
<circle cx="183.31" cy="431.42" r="3.00" fill="#64ca5d"/>
<circle cx="170.57" cy="440.66" r="3.00" fill="#3dba74"/>
<circle cx="195.17" cy="413.72" r="3.00" fill="#24a983"/>
<circle cx="199.20" cy="449.53" r="3.00" fill="#229f87"/>
<circle cx="169.30" cy="432.66" r="3.00" fill="#2db07d"/>
<circle cx="184.59" cy="410.37" r="3.00" fill="#39b777"/>
<circle cx="200.60" cy="415.95" r="3.00" fill="#21988a"/>
<circle cx="168.06" cy="440.65" r="3.00" fill="#37b678"/>
<circle cx="188.85" cy="431.15" r="3.00" fill="#64ca5d"/>
<circle cx="197.16" cy="443.82" r="3.00" fill="#24aa83"/>
<circle cx="161.05" cy="394.67" r="3.00" fill="#219c88"/>
<circle cx="168.88" cy="422.07" r="3.00" fill="#219c88"/>
<circle cx="215.13" cy="421.77" r="3.00" fill="#33b37a"/>
<circle cx="182.53" cy="436.04" r="3.00" fill="#2daf7e"/>
<circle cx="175.79" cy="433.44" r="3.00" fill="#2bae7f"/>
<circle cx="200.14" cy="445.89" r="3.00" fill="#22a087"/>
<circle cx="193.50" cy="445.73" r="3.00" fill="#2eb07d"/>
<circle cx="185.80" cy="432.16" r="3.00" fill="#219a89"/>
<circle cx="182.08" cy="437.42" r="3.00" fill="#22a187"/>
<circle cx="190.36" cy="430.21" r="3.00" fill="#3cb975"/>
<circle cx="190.56" cy="417.51" r="3.00" fill="#3ab876"/>
<circle cx="189.11" cy="438.68" r="3.00" fill="#2bae7f"/>
<circle cx="154.48" cy="437.80" r="3.00" fill="#22a186"/>
<circle cx="167.77" cy="426.19" r="3.00" fill="#35b579"/>
<circle cx="172.02" cy="428.66" r="3.00" fill="#25aa82"/>
<circle cx="174.26" cy="411.45" r="3.00" fill="#21988a"/>
<circle cx="183.42" cy="419.69" r="3.00" fill="#219989"/>
<circle cx="187.81" cy="405.15" r="3.00" fill="#27ab81"/>
<circle cx="168.33" cy="436.28" r="3.00" fill="#23a884"/>
<circle cx="158.19" cy="434.60" r="3.00" fill="#33b37a"/>
<circle cx="182.28" cy="437.71" r="3.00" fill="#38b777"/>
<circle cx="168.42" cy="444.80" r="3.00" fill="#21968a"/>
<circle cx="152.57" cy="396.38" r="3.00" fill="#21908c"/>
<circle cx="150.11" cy="436.41" r="3.00" fill="#34b47a"/>
<circle cx="176.83" cy="424.84" r="3.00" fill="#229e87"/>
<circle cx="189.03" cy="426.39" r="3.00" fill="#22a186"/>
<circle cx="189.44" cy="413.75" r="3.00" fill="#28ac81"/>
<circle cx="166.38" cy="416.01" r="3.00" fill="#22a386"/>
<circle cx="179.18" cy="426.78" r="3.00" fill="#21968a"/>
<circle cx="182.25" cy="436.18" r="3.00" fill="#21978a"/>
<circle cx="162.14" cy="411.86" r="3.00" fill="#2bae7f"/>
<circle cx="168.58" cy="393.08" r="3.00" fill="#22a386"/>
<circle cx="225.89" cy="422.83" r="3.00" fill="#229d88"/>
<circle cx="159.64" cy="423.59" r="3.00" fill="#28ac81"/>
<circle cx="166.41" cy="425.33" r="3.00" fill="#64ca5d"/>
<circle cx="200.65" cy="450.23" r="3.00" fill="#21988a"/>
<circle cx="205.82" cy="431.12" r="3.00" fill="#22a186"/>
<circle cx="154.81" cy="440.04" r="3.00" fill="#2bae7f"/>
<circle cx="143.45" cy="433.13" r="3.00" fill="#27ac81"/>
<circle cx="163.01" cy="415.22" r="3.00" fill="#22a486"/>
<circle cx="164.08" cy="414.91" r="3.00" fill="#22a386"/>
<circle cx="172.05" cy="438.73" r="3.00" fill="#34b479"/>
<circle cx="177.66" cy="429.57" r="3.00" fill="#229e88"/>
<circle cx="171.55" cy="416.23" r="3.00" fill="#3bb975"/>
<circle cx="197.14" cy="440.32" r="3.00" fill="#219b89"/>
<circle cx="187.81" cy="430.31" r="3.00" fill="#21978a"/>
<circle cx="155.40" cy="398.15" r="3.00" fill="#21988a"/>
<circle cx="205.96" cy="428.30" r="3.00" fill="#22a784"/>
<circle cx="162.52" cy="395.83" r="3.00" fill="#219a89"/>
<circle cx="171.12" cy="434.81" r="3.00" fill="#30b27b"/>
<circle cx="162.51" cy="425.32" r="3.00" fill="#2db07d"/>
<circle cx="180.40" cy="442.61" r="3.00" fill="#219b88"/>
<circle cx="188.97" cy="438.54" r="3.00" fill="#38b777"/>
<circle cx="175.72" cy="427.46" r="3.00" fill="#219b88"/>
<circle cx="215.19" cy="423.70" r="3.00" fill="#22a585"/>
<circle cx="169.99" cy="425.98" r="3.00" fill="#3cb975"/>
<circle cx="188.86" cy="421.09" r="3.00" fill="#3ab876"/>
<circle cx="222.10" cy="425.18" r="3.00" fill="#229f87"/>
<circle cx="160.63" cy="413.47" r="3.00" fill="#38b777"/>
<circle cx="197.51" cy="417.81" r="3.00" fill="#22a286"/>
<circle cx="156.82" cy="438.69" r="3.00" fill="#22a087"/>
<circle cx="194.14" cy="412.93" r="3.00" fill="#35b579"/>
<circle cx="198.78" cy="429.73" r="3.00" fill="#33b37a"/>
<circle cx="187.95" cy="440.06" r="3.00" fill="#22a187"/>
<circle cx="190.66" cy="424.41" r="3.00" fill="#219b89"/>
<circle cx="187.90" cy="419.58" r="3.00" fill="#25aa82"/>
<circle cx="144.97" cy="433.67" r="3.00" fill="#2daf7e"/>
<circle cx="192.70" cy="449.79" r="3.00" fill="#2bae7e"/>
<circle cx="147.71" cy="429.62" r="3.00" fill="#3cb975"/>
<circle cx="181.10" cy="443.25" r="3.00" fill="#22a784"/>
<circle cx="202.28" cy="429.95" r="3.00" fill="#2eb07d"/>
<circle cx="167.53" cy="433.54" r="3.00" fill="#35b579"/>
<circle cx="205.31" cy="426.11" r="3.00" fill="#219c88"/>
<circle cx="180.38" cy="424.82" r="3.00" fill="#22a186"/>
<circle cx="170.51" cy="414.23" r="3.00" fill="#22a685"/>
<circle cx="154.97" cy="419.19" r="3.00" fill="#219989"/>
<circle cx="153.39" cy="399.63" r="3.00" fill="#22a784"/>
<circle cx="142.51" cy="433.06" r="3.00" fill="#27ab81"/>
<circle cx="195.21" cy="408.88" r="3.00" fill="#2aad7f"/>
<circle cx="170.21" cy="421.58" r="3.00" fill="#219989"/>
<circle cx="198.83" cy="446.79" r="3.00" fill="#36b678"/>
<circle cx="162.98" cy="441.72" r="3.00" fill="#37b678"/>
<circle cx="226.37" cy="422.19" r="3.00" fill="#219989"/>
<circle cx="154.86" cy="426.24" r="3.00" fill="#35b579"/>
<circle cx="155.79" cy="434.62" r="3.00" fill="#29ad80"/>
<circle cx="162.10" cy="406.33" r="3.00" fill="#26aa82"/>
<circle cx="209.60" cy="429.89" r="3.00" fill="#22a286"/>
<circle cx="163.46" cy="397.52" r="3.00" fill="#22a585"/>
<circle cx="161.33" cy="422.41" r="3.00" fill="#219b88"/>
<circle cx="171.02" cy="417.62" r="3.00" fill="#229f87"/>
<circle cx="166.58" cy="426.80" r="3.00" fill="#32b37a"/>
<circle cx="165.89" cy="428.47" r="3.00" fill="#26ab82"/>
<circle cx="163.84" cy="412.34" r="3.00" fill="#229d88"/>
<circle cx="133.56" cy="432.84" r="3.00" fill="#229f87"/>
<circle cx="166.56" cy="428.41" r="3.00" fill="#229f87"/>
<circle cx="158.00" cy="422.23" r="3.00" fill="#21968a"/>
<circle cx="153.24" cy="419.99" r="3.00" fill="#229e88"/>
<circle cx="223.48" cy="423.83" r="3.00" fill="#37b678"/>
<circle cx="167.93" cy="411.17" r="3.00" fill="#30b17c"/>
<circle cx="182.32" cy="438.76" r="3.00" fill="#219a89"/>
<circle cx="163.33" cy="440.98" r="3.00" fill="#22a685"/>
<circle cx="188.89" cy="435.30" r="3.00" fill="#21968a"/>
<circle cx="198.92" cy="420.16" r="3.00" fill="#22a386"/>
<circle cx="178.89" cy="428.74" r="3.00" fill="#22a485"/>
<circle cx="189.79" cy="438.52" r="3.00" fill="#24a983"/>
<circle cx="168.18" cy="419.91" r="3.00" fill="#22a585"/>
<circle cx="189.49" cy="417.97" r="3.00" fill="#33b37a"/>
<circle cx="179.27" cy="417.27" r="3.00" fill="#2caf7e"/>
<circle cx="176.05" cy="439.89" r="3.00" fill="#24a983"/>
<circle cx="187.38" cy="415.27" r="3.00" fill="#22a087"/>
<circle cx="196.02" cy="439.61" r="3.00" fill="#38b777"/>
<circle cx="157.53" cy="419.22" r="3.00" fill="#64ca5d"/>
<circle cx="176.66" cy="429.93" r="3.00" fill="#229e88"/>
<circle cx="188.60" cy="421.04" r="3.00" fill="#38b777"/>
<circle cx="203.37" cy="425.76" r="3.00" fill="#22a884"/>
<circle cx="154.80" cy="400.50" r="3.00" fill="#22a186"/>
<circle cx="181.96" cy="409.10" r="3.00" fill="#64ca5d"/>
<circle cx="196.33" cy="440.22" r="3.00" fill="#229f87"/>
<circle cx="179.30" cy="428.94" r="3.00" fill="#219b88"/>
<circle cx="171.42" cy="422.02" r="3.00" fill="#33b47a"/>
<circle cx="152.49" cy="399.35" r="3.00" fill="#21988a"/>
<circle cx="155.65" cy="404.43" r="3.00" fill="#25aa82"/>
<circle cx="171.98" cy="417.67" r="3.00" fill="#64ca5d"/>
<circle cx="164.39" cy="395.57" r="3.00" fill="#21938b"/>
<circle cx="189.78" cy="422.49" r="3.00" fill="#2eb07d"/>
<circle cx="183.19" cy="423.07" r="3.00" fill="#229e87"/>
<circle cx="181.40" cy="423.31" r="3.00" fill="#21978a"/>
<circle cx="160.58" cy="435.64" r="3.00" fill="#21978a"/>
<circle cx="172.93" cy="432.47" r="3.00" fill="#32b37b"/>
<circle cx="174.69" cy="413.47" r="3.00" fill="#219c88"/>
<circle cx="185.42" cy="436.87" r="3.00" fill="#2aad7f"/>
<circle cx="178.39" cy="443.75" r="3.00" fill="#22a187"/>
<circle cx="178.61" cy="437.34" r="3.00" fill="#39b777"/>
<circle cx="168.28" cy="422.51" r="3.00" fill="#28ac80"/>
<circle cx="163.33" cy="394.79" r="3.00" fill="#22a386"/>
<circle cx="191.17" cy="447.77" r="3.00" fill="#219a89"/>
<circle cx="138.50" cy="430.89" r="3.00" fill="#22a884"/>
<circle cx="199.69" cy="430.67" r="3.00" fill="#219a89"/>
<circle cx="188.59" cy="434.08" r="3.00" fill="#22a486"/>
<circle cx="198.44" cy="438.63" r="3.00" fill="#22a784"/>
<circle cx="169.62" cy="415.44" r="3.00" fill="#22a486"/>
<circle cx="170.01" cy="438.15" r="3.00" fill="#25aa82"/>
<circle cx="199.26" cy="421.48" r="3.00" fill="#27ab81"/>
<circle cx="205.06" cy="427.03" r="3.00" fill="#229f87"/>
<circle cx="174.36" cy="440.95" r="3.00" fill="#219b88"/>
<circle cx="158.94" cy="394.32" r="3.00" fill="#229e87"/>
<circle cx="162.38" cy="426.25" r="3.00" fill="#28ac81"/>
<circle cx="175.42" cy="427.23" r="3.00" fill="#219b88"/>
<circle cx="171.60" cy="426.81" r="3.00" fill="#34b479"/>
<circle cx="170.83" cy="411.66" r="3.00" fill="#21968a"/>
<circle cx="168.22" cy="395.07" r="3.00" fill="#229e87"/>
<circle cx="199.69" cy="419.94" r="3.00" fill="#32b37b"/>
<circle cx="154.56" cy="440.64" r="3.00" fill="#22a685"/>
<circle cx="176.80" cy="413.51" r="3.00" fill="#219989"/>
<circle cx="176.26" cy="443.71" r="3.00" fill="#22a585"/>
<circle cx="188.14" cy="403.59" r="3.00" fill="#33b47a"/>
<circle cx="180.24" cy="428.33" r="3.00" fill="#22a386"/>
<circle cx="158.03" cy="438.53" r="3.00" fill="#64ca5d"/>
<circle cx="155.33" cy="420.65" r="3.00" fill="#22a884"/>
<circle cx="190.57" cy="414.84" r="3.00" fill="#33b47a"/>
<circle cx="144.47" cy="433.71" r="3.00" fill="#28ac81"/>
<circle cx="203.41" cy="432.00" r="3.00" fill="#22a087"/>
<circle cx="191.26" cy="412.38" r="3.00" fill="#22a685"/>
<circle cx="204.86" cy="432.52" r="3.00" fill="#22a186"/>
<circle cx="190.92" cy="421.79" r="3.00" fill="#25aa82"/>
<circle cx="201.96" cy="430.45" r="3.00" fill="#24aa83"/>
<circle cx="177.19" cy="444.31" r="3.00" fill="#22a186"/>
<circle cx="161.69" cy="395.26" r="3.00" fill="#238b8c"/>
<circle cx="214.20" cy="421.06" r="3.00" fill="#26ab82"/>
<circle cx="204.94" cy="424.06" r="3.00" fill="#34b479"/>
<circle cx="168.54" cy="427.23" r="3.00" fill="#2caf7e"/>
<circle cx="198.85" cy="429.33" r="3.00" fill="#64ca5d"/>
<circle cx="221.16" cy="423.15" r="3.00" fill="#22a685"/>
<circle cx="178.00" cy="407.99" r="3.00" fill="#25aa82"/>
<circle cx="174.49" cy="410.81" r="3.00" fill="#22a884"/>
<circle cx="223.16" cy="421.02" r="3.00" fill="#23a983"/>
<circle cx="206.87" cy="429.09" r="3.00" fill="#22a386"/>
<circle cx="227.15" cy="423.52" r="3.00" fill="#34b479"/>
<circle cx="172.01" cy="428.64" r="3.00" fill="#22a186"/>
<circle cx="158.08" cy="435.05" r="3.00" fill="#39b777"/>
<circle cx="175.64" cy="443.01" r="3.00" fill="#27ab81"/>
<circle cx="160.23" cy="415.93" r="3.00" fill="#229e87"/>
<circle cx="188.75" cy="428.67" r="3.00" fill="#22a784"/>
<circle cx="192.42" cy="428.65" r="3.00" fill="#35b579"/>
<circle cx="161.72" cy="434.55" r="3.00" fill="#219b89"/>
<circle cx="151.86" cy="430.20" r="3.00" fill="#219a89"/>
<circle cx="161.59" cy="431.77" r="3.00" fill="#21968a"/>
<circle cx="171.00" cy="411.76" r="3.00" fill="#2daf7d"/>
<circle cx="189.78" cy="420.97" r="3.00" fill="#2caf7e"/>
<circle cx="170.91" cy="413.68" r="3.00" fill="#22a485"/>
<circle cx="218.63" cy="423.15" r="3.00" fill="#2aae7f"/>
<circle cx="188.65" cy="436.14" r="3.00" fill="#32b37a"/>
<circle cx="131.96" cy="432.61" r="3.00" fill="#2aad7f"/>
<circle cx="169.62" cy="435.78" r="3.00" fill="#22a585"/>
<circle cx="139.89" cy="429.32" r="3.00" fill="#3bb975"/>
<circle cx="164.87" cy="415.04" r="3.00" fill="#2caf7e"/>
<circle cx="159.55" cy="397.70" r="3.00" fill="#22a087"/>
<circle cx="154.44" cy="418.91" r="3.00" fill="#3cba75"/>
<circle cx="154.60" cy="404.46" r="3.00" fill="#22a087"/>
<circle cx="162.01" cy="424.88" r="3.00" fill="#22a485"/>
<circle cx="175.57" cy="436.63" r="3.00" fill="#219b89"/>
<circle cx="219.05" cy="424.93" r="3.00" fill="#22a286"/>
<circle cx="176.05" cy="415.67" r="3.00" fill="#21978a"/>
<circle cx="178.70" cy="415.69" r="3.00" fill="#2caf7e"/>
<circle cx="198.55" cy="436.75" r="3.00" fill="#25aa82"/>
<circle cx="157.20" cy="426.40" r="3.00" fill="#22a386"/>
<circle cx="154.82" cy="404.31" r="3.00" fill="#23a983"/>
<circle cx="177.89" cy="429.70" r="3.00" fill="#22a286"/>
<circle cx="206.95" cy="438.35" r="3.00" fill="#3cba75"/>
<circle cx="139.31" cy="430.24" r="3.00" fill="#219c88"/>
<circle cx="183.51" cy="436.98" r="3.00" fill="#219c88"/>
<circle cx="181.42" cy="422.68" r="3.00" fill="#37b677"/>
<circle cx="191.10" cy="416.32" r="3.00" fill="#22a784"/>
<circle cx="161.66" cy="394.66" r="3.00" fill="#219b88"/>
<circle cx="167.15" cy="432.62" r="3.00" fill="#25aa82"/>
<circle cx="188.46" cy="406.30" r="3.00" fill="#33b37a"/>
<circle cx="195.85" cy="424.12" r="3.00" fill="#22a087"/>
<circle cx="204.02" cy="433.70" r="3.00" fill="#229d88"/>
<circle cx="204.43" cy="421.06" r="3.00" fill="#3ab976"/>
<circle cx="165.02" cy="413.79" r="3.00" fill="#22a784"/>
<circle cx="175.75" cy="415.63" r="3.00" fill="#29ad80"/>
<circle cx="171.43" cy="415.52" r="3.00" fill="#219989"/>
<circle cx="188.93" cy="440.74" r="3.00" fill="#22a485"/>
<circle cx="185.37" cy="439.91" r="3.00" fill="#27ab81"/>
<circle cx="177.92" cy="424.85" r="3.00" fill="#22a585"/>
<circle cx="199.41" cy="439.13" r="3.00" fill="#219989"/>
<circle cx="187.99" cy="423.39" r="3.00" fill="#229d88"/>
<circle cx="203.51" cy="429.80" r="3.00" fill="#64ca5d"/>
<circle cx="186.98" cy="437.42" r="3.00" fill="#35b579"/>
<circle cx="200.66" cy="447.99" r="3.00" fill="#27ab81"/>
<circle cx="191.46" cy="421.19" r="3.00" fill="#27ab81"/>
<circle cx="133.71" cy="431.92" r="3.00" fill="#22a784"/>
<circle cx="157.49" cy="442.28" r="3.00" fill="#22a485"/>
<circle cx="190.40" cy="431.82" r="3.00" fill="#22a784"/>
<circle cx="179.78" cy="416.98" r="3.00" fill="#219c88"/>
<circle cx="179.77" cy="417.69" r="3.00" fill="#3cba75"/>
<circle cx="165.72" cy="429.40" r="3.00" fill="#2bae7f"/>
<circle cx="188.83" cy="420.42" r="3.00" fill="#22a685"/>
<circle cx="213.95" cy="422.44" r="3.00" fill="#22a087"/>
<circle cx="167.93" cy="429.36" r="3.00" fill="#21978a"/>
<circle cx="214.56" cy="420.71" r="3.00" fill="#64ca5d"/>
<circle cx="167.33" cy="443.86" r="3.00" fill="#229f87"/>
<circle cx="185.12" cy="425.40" r="3.00" fill="#3ab876"/>
<circle cx="160.61" cy="437.76" r="3.00" fill="#22a087"/>
<circle cx="152.17" cy="396.42" r="3.00" fill="#219b88"/>
<circle cx="159.09" cy="429.08" r="3.00" fill="#22a784"/>
<circle cx="223.29" cy="426.51" r="3.00" fill="#39b777"/>
<circle cx="175.98" cy="424.02" r="3.00" fill="#219c88"/>
<circle cx="203.10" cy="437.32" r="3.00" fill="#2fb17c"/>
<circle cx="190.60" cy="422.97" r="3.00" fill="#2db07d"/>
<circle cx="189.25" cy="418.62" r="3.00" fill="#229d88"/>
<circle cx="198.33" cy="435.52" r="3.00" fill="#229d88"/>
<circle cx="189.98" cy="434.85" r="3.00" fill="#2eb07d"/>
<circle cx="151.76" cy="441.44" r="3.00" fill="#21978a"/>
<circle cx="178.12" cy="414.50" r="3.00" fill="#33b47a"/>
<circle cx="154.98" cy="441.68" r="3.00" fill="#22a685"/>
<circle cx="167.37" cy="426.28" r="3.00" fill="#21978a"/>
<circle cx="205.10" cy="440.32" r="3.00" fill="#2fb17c"/>
<circle cx="155.27" cy="404.84" r="3.00" fill="#238a8d"/>
<circle cx="182.39" cy="423.41" r="3.00" fill="#219b89"/>
<circle cx="208.14" cy="426.98" r="3.00" fill="#22a585"/>
<circle cx="188.08" cy="425.67" r="3.00" fill="#29ad80"/>
<circle cx="184.54" cy="411.69" r="3.00" fill="#21988a"/>
<circle cx="159.09" cy="399.48" r="3.00" fill="#64ca5d"/>
<circle cx="184.16" cy="440.68" r="3.00" fill="#32b37b"/>
<circle cx="222.82" cy="422.61" r="3.00" fill="#229e88"/>
<circle cx="189.33" cy="442.94" r="3.00" fill="#21978a"/>
<circle cx="193.15" cy="427.12" r="3.00" fill="#35b579"/>
<circle cx="154.42" cy="403.73" r="3.00" fill="#219a89"/>
<circle cx="159.98" cy="419.58" r="3.00" fill="#22a386"/>
<circle cx="188.30" cy="420.58" r="3.00" fill="#22a486"/>
<circle cx="157.66" cy="395.36" r="3.00" fill="#27ab81"/>
<circle cx="191.30" cy="432.93" r="3.00" fill="#22a585"/>
<circle cx="192.66" cy="429.68" r="3.00" fill="#22a884"/>
<circle cx="160.65" cy="441.42" r="3.00" fill="#219989"/>
<circle cx="221.73" cy="419.57" r="3.00" fill="#2bae7f"/>
<circle cx="188.83" cy="436.53" r="3.00" fill="#22a685"/>
<circle cx="179.60" cy="440.23" r="3.00" fill="#21978a"/>
<circle cx="162.04" cy="397.98" r="3.00" fill="#219989"/>
<circle cx="175.70" cy="429.40" r="3.00" fill="#35b579"/>
<circle cx="192.05" cy="422.55" r="3.00" fill="#28ac81"/>
<circle cx="192.48" cy="449.60" r="3.00" fill="#27ac81"/>
<circle cx="181.91" cy="424.46" r="3.00" fill="#21968a"/>
<circle cx="176.57" cy="430.11" r="3.00" fill="#38b777"/>
<circle cx="208.28" cy="431.02" r="3.00" fill="#22a784"/>
<circle cx="177.52" cy="427.25" r="3.00" fill="#29ad80"/>
<circle cx="164.09" cy="411.83" r="3.00" fill="#21988a"/>
<circle cx="190.70" cy="412.59" r="3.00" fill="#229e87"/>
<circle cx="156.69" cy="397.43" r="3.00" fill="#21978a"/>
<circle cx="198.31" cy="450.73" r="3.00" fill="#32b37a"/>
<circle cx="151.34" cy="429.65" r="3.00" fill="#22a585"/>
<circle cx="166.75" cy="424.61" r="3.00" fill="#29ad80"/>
<circle cx="158.53" cy="418.75" r="3.00" fill="#219b89"/>
<circle cx="182.44" cy="414.66" r="3.00" fill="#22a187"/>
<circle cx="178.22" cy="437.22" r="3.00" fill="#21978a"/>
<circle cx="191.06" cy="437.81" r="3.00" fill="#2bae7f"/>
<circle cx="169.50" cy="423.20" r="3.00" fill="#2db07d"/>
<circle cx="160.65" cy="432.80" r="3.00" fill="#30b27c"/>
<circle cx="183.24" cy="437.51" r="3.00" fill="#38b777"/>
<circle cx="167.03" cy="412.04" r="3.00" fill="#229f87"/>
<circle cx="183.11" cy="421.33" r="3.00" fill="#34b479"/>
<circle cx="186.04" cy="430.33" r="3.00" fill="#2eb07d"/>
<circle cx="170.30" cy="424.59" r="3.00" fill="#31b27b"/>
<circle cx="178.71" cy="410.10" r="3.00" fill="#219b89"/>
<circle cx="173.78" cy="416.01" r="3.00" fill="#33b47a"/>
<circle cx="159.98" cy="436.63" r="3.00" fill="#22a685"/>
<circle cx="190.02" cy="406.64" r="3.00" fill="#3bb976"/>
<circle cx="183.65" cy="418.64" r="3.00" fill="#22a685"/>
<circle cx="157.29" cy="437.62" r="3.00" fill="#3bb975"/>
<circle cx="198.86" cy="419.47" r="3.00" fill="#22a386"/>
<circle cx="170.48" cy="441.91" r="3.00" fill="#32b37b"/>
<circle cx="179.49" cy="441.03" r="3.00" fill="#219a89"/>
<circle cx="141.60" cy="432.64" r="3.00" fill="#21968a"/>
<circle cx="154.23" cy="404.75" r="3.00" fill="#22a186"/>
<circle cx="194.14" cy="443.48" r="3.00" fill="#22a286"/>
<circle cx="183.01" cy="412.94" r="3.00" fill="#22a486"/>
<circle cx="180.97" cy="440.38" r="3.00" fill="#64ca5d"/>
<circle cx="174.94" cy="428.86" r="3.00" fill="#37b678"/>
<circle cx="154.38" cy="421.68" r="3.00" fill="#22a785"/>
<circle cx="167.09" cy="423.32" r="3.00" fill="#22a884"/>
<circle cx="207.40" cy="429.98" r="3.00" fill="#219a89"/>
<circle cx="170.03" cy="409.54" r="3.00" fill="#219b88"/>
<circle cx="200.71" cy="429.07" r="3.00" fill="#38b777"/>
<circle cx="193.72" cy="411.90" r="3.00" fill="#38b777"/>
<circle cx="148.72" cy="397.49" r="3.00" fill="#23a983"/>
<circle cx="180.98" cy="436.95" r="3.00" fill="#22a685"/>
<circle cx="137.16" cy="430.43" r="3.00" fill="#33b37a"/>
<circle cx="203.94" cy="450.15" r="3.00" fill="#3cba75"/>
<circle cx="163.81" cy="396.13" r="3.00" fill="#228e8c"/>
<circle cx="175.98" cy="415.79" r="3.00" fill="#22a485"/>
<circle cx="191.85" cy="417.97" r="3.00" fill="#2cae7e"/>
<circle cx="163.78" cy="413.60" r="3.00" fill="#33b37a"/>
<circle cx="141.65" cy="435.15" r="3.00" fill="#219c88"/>
<circle cx="163.65" cy="396.16" r="3.00" fill="#21958a"/>
<circle cx="173.98" cy="411.16" r="3.00" fill="#64ca5d"/>
<circle cx="206.55" cy="428.57" r="3.00" fill="#36b678"/>
<circle cx="195.65" cy="407.47" r="3.00" fill="#64ca5d"/>
<circle cx="189.73" cy="422.93" r="3.00" fill="#22a186"/>
<circle cx="190.52" cy="443.96" r="3.00" fill="#39b777"/>
<circle cx="134.38" cy="431.83" r="3.00" fill="#33b37a"/>
<circle cx="185.76" cy="417.87" r="3.00" fill="#22a685"/>
<circle cx="219.33" cy="424.17" r="3.00" fill="#22a485"/>
<circle cx="161.90" cy="419.01" r="3.00" fill="#229d88"/>
<circle cx="196.96" cy="442.55" r="3.00" fill="#21968a"/>
<circle cx="165.94" cy="429.28" r="3.00" fill="#22a485"/>
<circle cx="162.17" cy="405.38" r="3.00" fill="#219889"/>
<circle cx="137.08" cy="430.48" r="3.00" fill="#3ab876"/>
<circle cx="154.45" cy="420.94" r="3.00" fill="#219a89"/>
<circle cx="185.37" cy="421.48" r="3.00" fill="#229d88"/>
<circle cx="157.34" cy="437.29" r="3.00" fill="#22a685"/>
<circle cx="171.69" cy="418.94" r="3.00" fill="#22a685"/>
<circle cx="185.35" cy="443.36" r="3.00" fill="#35b579"/>
<circle cx="161.26" cy="436.72" r="3.00" fill="#21988a"/>
<circle cx="224.27" cy="424.54" r="3.00" fill="#22a087"/>
<circle cx="223.63" cy="422.32" r="3.00" fill="#22a685"/>
<circle cx="165.15" cy="418.24" r="3.00" fill="#229d88"/>
<circle cx="189.89" cy="441.34" r="3.00" fill="#32b37b"/>
<circle cx="193.61" cy="438.63" r="3.00" fill="#29ad80"/>
<circle cx="185.65" cy="418.70" r="3.00" fill="#219a89"/>
<circle cx="177.13" cy="429.07" r="3.00" fill="#22a685"/>
<circle cx="197.72" cy="434.20" r="3.00" fill="#22a884"/>
<circle cx="188.83" cy="421.45" r="3.00" fill="#229e87"/>
<circle cx="201.73" cy="428.53" r="3.00" fill="#2aad7f"/>
<circle cx="203.41" cy="418.60" r="3.00" fill="#64ca5d"/>
<circle cx="180.09" cy="423.57" r="3.00" fill="#37b678"/>
<circle cx="172.71" cy="413.99" r="3.00" fill="#3bb975"/>
<circle cx="178.10" cy="445.96" r="3.00" fill="#2aad7f"/>
<circle cx="161.61" cy="411.78" r="3.00" fill="#2eb07d"/>
<circle cx="225.13" cy="422.62" r="3.00" fill="#22a485"/>
<circle cx="144.14" cy="436.50" r="3.00" fill="#22a585"/>
<circle cx="163.23" cy="405.43" r="3.00" fill="#21948b"/>
<circle cx="192.49" cy="432.84" r="3.00" fill="#22a087"/>
<circle cx="162.24" cy="434.06" r="3.00" fill="#31b27b"/>
<circle cx="168.74" cy="416.95" r="3.00" fill="#28ac80"/>
<circle cx="186.54" cy="403.92" r="3.00" fill="#219c88"/>
<circle cx="188.20" cy="417.85" r="3.00" fill="#64ca5d"/>
<circle cx="202.94" cy="426.05" r="3.00" fill="#2db07d"/>
<circle cx="176.92" cy="426.96" r="3.00" fill="#22a087"/>
<circle cx="165.34" cy="430.24" r="3.00" fill="#22a884"/>
<circle cx="221.09" cy="419.29" r="3.00" fill="#36b678"/>
<circle cx="157.21" cy="429.03" r="3.00" fill="#21968a"/>
<circle cx="190.46" cy="434.26" r="3.00" fill="#2eb07d"/>
<circle cx="196.88" cy="414.53" r="3.00" fill="#2caf7e"/>
<circle cx="192.05" cy="437.55" r="3.00" fill="#29ad80"/>
<circle cx="143.53" cy="434.79" r="3.00" fill="#22a186"/>
<circle cx="166.41" cy="436.58" r="3.00" fill="#22a386"/>
<circle cx="162.21" cy="393.55" r="3.00" fill="#22a186"/>
<circle cx="149.82" cy="419.00" r="3.00" fill="#22a685"/>
<circle cx="191.95" cy="416.77" r="3.00" fill="#229e88"/>
<circle cx="163.15" cy="419.60" r="3.00" fill="#219a89"/>
<circle cx="165.92" cy="439.44" r="3.00" fill="#30b27c"/>
<circle cx="162.26" cy="436.98" r="3.00" fill="#2bae7f"/>
<circle cx="187.17" cy="432.44" r="3.00" fill="#29ad80"/>
<circle cx="184.63" cy="437.23" r="3.00" fill="#29ad80"/>
<circle cx="192.46" cy="431.63" r="3.00" fill="#3dba74"/>
<circle cx="189.68" cy="424.90" r="3.00" fill="#22a485"/>
<circle cx="205.72" cy="429.07" r="3.00" fill="#64ca5d"/>
<circle cx="189.71" cy="432.56" r="3.00" fill="#22a884"/>
<circle cx="144.49" cy="438.05" r="3.00" fill="#2bae7f"/>
<circle cx="167.86" cy="424.75" r="3.00" fill="#21988a"/>
<circle cx="205.45" cy="439.24" r="3.00" fill="#219889"/>
<circle cx="159.43" cy="410.91" r="3.00" fill="#22a884"/>
<circle cx="177.79" cy="447.68" r="3.00" fill="#38b777"/>
<circle cx="178.78" cy="409.62" r="3.00" fill="#219889"/>
<circle cx="200.90" cy="428.18" r="3.00" fill="#219c88"/>
<circle cx="173.40" cy="413.56" r="3.00" fill="#219989"/>
<circle cx="185.26" cy="411.66" r="3.00" fill="#24a983"/>
<circle cx="188.90" cy="438.14" r="3.00" fill="#22a386"/>
<circle cx="166.23" cy="444.03" r="3.00" fill="#22a286"/>
<circle cx="170.22" cy="443.36" r="3.00" fill="#219a89"/>
<circle cx="213.55" cy="424.26" r="3.00" fill="#22a286"/>
<circle cx="167.10" cy="419.09" r="3.00" fill="#22a485"/>
<circle cx="168.62" cy="440.31" r="3.00" fill="#22a386"/>
<circle cx="188.62" cy="437.71" r="3.00" fill="#229f87"/>
<circle cx="164.88" cy="417.25" r="3.00" fill="#219b88"/>
<circle cx="168.85" cy="426.89" r="3.00" fill="#3ab876"/>
<circle cx="223.54" cy="424.18" r="3.00" fill="#30b27c"/>
<circle cx="174.07" cy="432.90" r="3.00" fill="#2eb07d"/>
<circle cx="135.39" cy="436.71" r="3.00" fill="#30b27c"/>
<circle cx="178.44" cy="422.02" r="3.00" fill="#22a187"/>
<circle cx="158.19" cy="397.32" r="3.00" fill="#21928c"/>
<circle cx="159.31" cy="433.91" r="3.00" fill="#33b37a"/>
<circle cx="147.18" cy="427.51" r="3.00" fill="#22a485"/>
<circle cx="202.95" cy="439.03" r="3.00" fill="#64ca5d"/>
<circle cx="170.43" cy="422.00" r="3.00" fill="#2caf7e"/>
<circle cx="136.91" cy="432.12" r="3.00" fill="#29ad80"/>
<circle cx="163.91" cy="429.42" r="3.00" fill="#22a884"/>
<circle cx="174.18" cy="428.36" r="3.00" fill="#229e88"/>
<circle cx="183.62" cy="441.57" r="3.00" fill="#29ad80"/>
<circle cx="157.05" cy="406.02" r="3.00" fill="#219989"/>
<circle cx="188.44" cy="436.48" r="3.00" fill="#2daf7e"/>
<circle cx="164.50" cy="422.20" r="3.00" fill="#219989"/>
<circle cx="190.22" cy="414.69" r="3.00" fill="#26ab82"/>
<circle cx="193.02" cy="442.93" r="3.00" fill="#27ab81"/>
<circle cx="157.76" cy="399.10" r="3.00" fill="#229f87"/>
<circle cx="154.80" cy="396.79" r="3.00" fill="#219a89"/>
<circle cx="163.85" cy="418.47" r="3.00" fill="#2aad7f"/>
<circle cx="178.63" cy="442.98" r="3.00" fill="#229d88"/>
<circle cx="179.25" cy="442.99" r="3.00" fill="#22a784"/>
<circle cx="182.38" cy="434.53" r="3.00" fill="#22a286"/>
<circle cx="178.00" cy="365.90" r="3.00" fill="#32658d"/>
<circle cx="174.40" cy="363.00" r="3.00" fill="#38588c"/>
<circle cx="181.60" cy="362.20" r="3.00" fill="#33658d"/>
<circle cx="185.30" cy="364.40" r="3.00" fill="#3a538a"/>
<circle cx="173.30" cy="367.90" r="3.00" fill="#32678d"/>
<circle cx="182.60" cy="368.50" r="3.00" fill="#31688d"/>
<circle cx="176.00" cy="370.60" r="3.00" fill="#33638d"/>
<circle cx="185.00" cy="360.60" r="3.00" fill="#30698d"/>
<circle cx="180.90" cy="372.40" r="3.00" fill="#38588b"/>
<circle cx="183.00" cy="374.80" r="3.00" fill="#355f8d"/>
<circle cx="178.50" cy="360.10" r="3.00" fill="#3a558b"/>
<circle cx="171.80" cy="364.80" r="3.00" fill="#306b8d"/>
<line x1="174.60" y1="377.20" x2="176.70" y2="366.70" stroke="#000" stroke-width="1.1"/>
<line x1="200.20" y1="409.70" x2="189.10" y2="421.10" stroke="#000" stroke-width="1.1"/>
<rect x="40.90" y="394.60" width="14.10" height="15.00" fill="#fff" stroke="#000" stroke-width="0.85" rx="2.2" ry="2.2"/>
<text x="47.95" y="404.40" font-size="7.1" text-anchor="middle" fill="#111" stroke="#111" stroke-width="0.22">x</text>
<rect x="92.60" y="423.80" width="14.10" height="15.00" fill="#fff" stroke="#000" stroke-width="0.85" rx="2.2" ry="2.2"/>
<text x="99.65" y="433.60" font-size="7.1" text-anchor="middle" fill="#111" stroke="#111" stroke-width="0.22">y</text>
<rect x="165.60" y="377.20" width="14.40" height="15.30" fill="#fff" stroke="#000" stroke-width="0.85" rx="2.2" ry="2.2"/>
<text x="172.80" y="387.15" font-size="7.1" text-anchor="middle" fill="#111" stroke="#111" stroke-width="0.22">y</text>
<rect x="199.30" y="399.80" width="14.40" height="15.30" fill="#fff" stroke="#000" stroke-width="0.85" rx="2.2" ry="2.2"/>
<text x="206.50" y="409.75" font-size="7.1" text-anchor="middle" fill="#111" stroke="#111" stroke-width="0.22">x</text>
<text x="254.00" y="328.40" font-size="7.1" text-anchor="start" fill="#000" stroke="#000" stroke-width="0.22">freq.</text>
<rect x="253.00" y="332.40" width="12.00" height="57.70" fill="url(#gvir)"/>
<line x1="253.00" y1="340.80" x2="258.00" y2="340.80" stroke="#fff" stroke-width="0.75"/>
<line x1="260.00" y1="340.80" x2="265.00" y2="340.80" stroke="#fff" stroke-width="0.75"/>
<text x="268.50" y="343.30" font-size="7.1" text-anchor="start" fill="#000" stroke="#000" stroke-width="0.22">1e-01</text>
<line x1="253.00" y1="357.20" x2="258.00" y2="357.20" stroke="#fff" stroke-width="0.75"/>
<line x1="260.00" y1="357.20" x2="265.00" y2="357.20" stroke="#fff" stroke-width="0.75"/>
<text x="268.50" y="359.70" font-size="7.1" text-anchor="start" fill="#000" stroke="#000" stroke-width="0.22">1e-03</text>
<line x1="253.00" y1="373.60" x2="258.00" y2="373.60" stroke="#fff" stroke-width="0.75"/>
<line x1="260.00" y1="373.60" x2="265.00" y2="373.60" stroke="#fff" stroke-width="0.75"/>
<text x="268.50" y="376.10" font-size="7.1" text-anchor="start" fill="#000" stroke="#000" stroke-width="0.22">1e-05</text>
<text x="268.50" y="392.40" font-size="7.1" text-anchor="start" fill="#000" stroke="#000" stroke-width="0.22">1e-07</text>
<text x="474.50" y="127.60" font-size="10.5" text-anchor="start" fill="#000" font-weight="bold" stroke="#000" stroke-width="0.22">e</text>
<rect x="495.10" y="119.80" width="70.20" height="18.60" fill="#fff" stroke="#000" stroke-width="0.8"/>
<text x="530.20" y="127.75" font-size="7.1" text-anchor="middle" fill="#1a1a1a" textLength="28.8" lengthAdjust="spacingAndGlyphs" stroke="#1a1a1a" stroke-width="0.22">p53 k.o. A</text>
<text x="530.20" y="135.50" font-size="7.1" text-anchor="middle" fill="#1a1a1a" textLength="38.6" lengthAdjust="spacing" stroke="#1a1a1a" stroke-width="0.22">(scenario A)</text>
<rect x="569.40" y="119.80" width="69.90" height="18.60" fill="#fff" stroke="#000" stroke-width="0.8"/>
<text x="604.35" y="127.75" font-size="7.1" text-anchor="middle" fill="#1a1a1a" textLength="19.6" lengthAdjust="spacingAndGlyphs" stroke="#1a1a1a" stroke-width="0.22">SA532</text>
<text x="604.35" y="135.50" font-size="7.1" text-anchor="middle" fill="#1a1a1a" textLength="38.6" lengthAdjust="spacing" stroke="#1a1a1a" stroke-width="0.22">(scenario B)</text>
<line x1="495.10" y1="138.40" x2="495.10" y2="214.75" stroke="#000" stroke-width="0.9"/>
<line x1="495.10" y1="214.30" x2="565.30" y2="214.30" stroke="#000" stroke-width="0.9"/>
<line x1="569.40" y1="214.30" x2="639.30" y2="214.30" stroke="#000" stroke-width="0.9"/>
<line x1="492.90" y1="153.90" x2="495.10" y2="153.90" stroke="#333" stroke-width="0.7"/>
<text x="491.40" y="156.30" font-size="6.6" text-anchor="end" fill="#4d4d4d" stroke="#4d4d4d" stroke-width="0.22">4</text>
<line x1="492.90" y1="169.70" x2="495.10" y2="169.70" stroke="#333" stroke-width="0.7"/>
<text x="491.40" y="172.10" font-size="6.6" text-anchor="end" fill="#4d4d4d" stroke="#4d4d4d" stroke-width="0.22">2</text>
<line x1="492.90" y1="185.60" x2="495.10" y2="185.60" stroke="#333" stroke-width="0.7"/>
<text x="491.40" y="188.00" font-size="6.6" text-anchor="end" fill="#4d4d4d" stroke="#4d4d4d" stroke-width="0.22">0</text>
<line x1="492.90" y1="201.40" x2="495.10" y2="201.40" stroke="#333" stroke-width="0.7"/>
<text x="491.40" y="203.80" font-size="6.6" text-anchor="end" fill="#4d4d4d" stroke="#4d4d4d" stroke-width="0.22">-2</text>
<line x1="499.70" y1="214.30" x2="499.70" y2="216.50" stroke="#333" stroke-width="0.7"/>
<text x="499.70" y="223.30" font-size="6.6" text-anchor="middle" fill="#4d4d4d" stroke="#4d4d4d" stroke-width="0.22">-10</text>
<line x1="523.10" y1="214.30" x2="523.10" y2="216.50" stroke="#333" stroke-width="0.7"/>
<text x="523.10" y="223.30" font-size="6.6" text-anchor="middle" fill="#4d4d4d" stroke="#4d4d4d" stroke-width="0.22">0</text>
<line x1="546.50" y1="214.30" x2="546.50" y2="216.50" stroke="#333" stroke-width="0.7"/>
<text x="546.50" y="223.30" font-size="6.6" text-anchor="middle" fill="#4d4d4d" stroke="#4d4d4d" stroke-width="0.22">10</text>
<line x1="578.50" y1="214.30" x2="578.50" y2="216.50" stroke="#333" stroke-width="0.7"/>
<text x="578.50" y="223.30" font-size="6.6" text-anchor="middle" fill="#4d4d4d" stroke="#4d4d4d" stroke-width="0.22">-2</text>
<line x1="591.80" y1="214.30" x2="591.80" y2="216.50" stroke="#333" stroke-width="0.7"/>
<text x="591.80" y="223.30" font-size="6.6" text-anchor="middle" fill="#4d4d4d" stroke="#4d4d4d" stroke-width="0.22">-1</text>
<line x1="605.00" y1="214.30" x2="605.00" y2="216.50" stroke="#333" stroke-width="0.7"/>
<text x="605.00" y="223.30" font-size="6.6" text-anchor="middle" fill="#4d4d4d" stroke="#4d4d4d" stroke-width="0.22">0</text>
<line x1="617.90" y1="214.30" x2="617.90" y2="216.50" stroke="#333" stroke-width="0.7"/>
<text x="617.90" y="223.30" font-size="6.6" text-anchor="middle" fill="#4d4d4d" stroke="#4d4d4d" stroke-width="0.22">1</text>
<line x1="631.10" y1="214.30" x2="631.10" y2="216.50" stroke="#333" stroke-width="0.7"/>
<text x="631.10" y="223.30" font-size="6.6" text-anchor="middle" fill="#4d4d4d" stroke="#4d4d4d" stroke-width="0.22">2</text>
<text font-size="7.1" text-anchor="middle" transform="translate(479.8 176.2) rotate(-90)" stroke="#000" stroke-width="0.22">X2</text>
<text x="566.80" y="230.40" font-size="6.7" text-anchor="middle" fill="#000" stroke="#000" stroke-width="0.22">X1</text>
<circle cx="500.54" cy="163.34" r="3.00" fill="#c13b82"/>
<circle cx="500.33" cy="164.83" r="3.00" fill="#b42d8d"/>
<circle cx="499.75" cy="164.63" r="3.00" fill="#ab2594"/>
<circle cx="500.71" cy="163.56" r="3.00" fill="#b22b8f"/>
<circle cx="501.17" cy="163.59" r="3.00" fill="#bf3983"/>
<circle cx="502.81" cy="162.95" r="3.00" fill="#af2991"/>
<circle cx="501.57" cy="163.43" r="3.00" fill="#ae2892"/>
<circle cx="500.89" cy="160.92" r="3.00" fill="#b52e8d"/>
<circle cx="502.24" cy="162.64" r="3.00" fill="#b22b8f"/>
<circle cx="502.34" cy="163.46" r="3.00" fill="#b42d8e"/>
<circle cx="502.09" cy="168.05" r="3.00" fill="#b83289"/>
<circle cx="501.75" cy="167.77" r="3.00" fill="#c03b82"/>
<circle cx="502.25" cy="166.92" r="3.00" fill="#b22b8f"/>
<circle cx="501.74" cy="165.84" r="3.00" fill="#bc3686"/>
<circle cx="501.06" cy="167.58" r="3.00" fill="#b52e8d"/>
<circle cx="500.22" cy="169.74" r="3.00" fill="#b93388"/>
<circle cx="500.17" cy="172.58" r="3.00" fill="#b52f8c"/>
<circle cx="500.04" cy="169.05" r="3.00" fill="#bf3984"/>
<circle cx="499.01" cy="172.36" r="3.00" fill="#bc3686"/>
<circle cx="501.35" cy="168.96" r="3.00" fill="#ba3488"/>
<circle cx="499.46" cy="168.95" r="3.00" fill="#bf3a83"/>
<circle cx="499.64" cy="169.53" r="3.00" fill="#b32c8e"/>
<circle cx="499.99" cy="169.07" r="3.00" fill="#ba3388"/>
<circle cx="499.22" cy="169.58" r="3.00" fill="#c13b82"/>
<circle cx="499.57" cy="169.78" r="3.00" fill="#bb3587"/>
<circle cx="500.32" cy="175.24" r="3.00" fill="#9c189c"/>
<circle cx="502.43" cy="177.10" r="3.00" fill="#9c189c"/>
<circle cx="500.62" cy="174.19" r="3.00" fill="#ab2594"/>
<circle cx="503.09" cy="176.14" r="3.00" fill="#ab2593"/>
<circle cx="501.43" cy="176.32" r="3.00" fill="#9d199c"/>
<circle cx="501.16" cy="167.53" r="3.00" fill="#b32c8e"/>
<circle cx="499.60" cy="166.36" r="3.00" fill="#bb3587"/>
<circle cx="499.39" cy="166.10" r="3.00" fill="#ba3388"/>
<circle cx="499.00" cy="164.42" r="3.00" fill="#b22b8f"/>
<circle cx="499.61" cy="165.86" r="3.00" fill="#b7308b"/>
<circle cx="502.39" cy="177.17" r="3.00" fill="#b02991"/>
<circle cx="503.61" cy="179.74" r="3.00" fill="#9a169e"/>
<circle cx="502.73" cy="176.44" r="3.00" fill="#a01b9a"/>
<circle cx="503.12" cy="177.87" r="3.00" fill="#a72296"/>
<circle cx="503.85" cy="179.59" r="3.00" fill="#9f1b9b"/>
<circle cx="501.95" cy="169.21" r="3.00" fill="#b7308b"/>
<circle cx="502.39" cy="168.30" r="3.00" fill="#b52e8d"/>
<circle cx="502.35" cy="168.63" r="3.00" fill="#ad2693"/>
<circle cx="501.42" cy="168.77" r="3.00" fill="#c03a83"/>
<circle cx="501.48" cy="168.46" r="3.00" fill="#b6308b"/>
<circle cx="503.89" cy="166.74" r="3.00" fill="#b42d8e"/>
<circle cx="504.05" cy="167.07" r="3.00" fill="#b7308b"/>
<circle cx="505.35" cy="167.19" r="3.00" fill="#bd3785"/>
<circle cx="502.89" cy="166.35" r="3.00" fill="#ab2593"/>
<circle cx="503.22" cy="167.10" r="3.00" fill="#b52e8d"/>
<circle cx="501.36" cy="177.80" r="3.00" fill="#a72196"/>
<circle cx="501.82" cy="177.19" r="3.00" fill="#9d199c"/>
<circle cx="501.11" cy="175.51" r="3.00" fill="#9b179d"/>
<circle cx="501.41" cy="176.90" r="3.00" fill="#a31e98"/>
<circle cx="500.48" cy="176.18" r="3.00" fill="#af2891"/>
<circle cx="502.53" cy="173.58" r="3.00" fill="#9c189c"/>
<circle cx="499.90" cy="171.62" r="3.00" fill="#b12a90"/>
<circle cx="500.20" cy="171.83" r="3.00" fill="#ba3488"/>
<circle cx="498.01" cy="170.17" r="3.00" fill="#b12a90"/>
<circle cx="501.56" cy="172.06" r="3.00" fill="#b12a90"/>
<circle cx="500.64" cy="168.73" r="3.00" fill="#b12a90"/>
<circle cx="500.73" cy="175.44" r="3.00" fill="#9b179d"/>
<circle cx="502.32" cy="175.40" r="3.00" fill="#a41f98"/>
<circle cx="500.75" cy="166.34" r="3.00" fill="#ae2792"/>
<circle cx="503.74" cy="175.70" r="3.00" fill="#a82395"/>
<circle cx="503.51" cy="174.63" r="3.00" fill="#a31e98"/>
<circle cx="500.68" cy="171.23" r="3.00" fill="#be3884"/>
<circle cx="500.63" cy="163.14" r="3.00" fill="#b42d8e"/>
<circle cx="501.03" cy="174.09" r="3.00" fill="#97149f"/>
<circle cx="503.74" cy="169.75" r="3.00" fill="#ba3488"/>
<circle cx="503.63" cy="168.40" r="3.00" fill="#b02a90"/>
<circle cx="500.29" cy="166.45" r="3.00" fill="#b7308b"/>
<circle cx="500.16" cy="166.09" r="3.00" fill="#b62f8c"/>
<circle cx="502.87" cy="177.35" r="3.00" fill="#97149f"/>
<circle cx="503.28" cy="170.34" r="3.00" fill="#b32c8e"/>
<circle cx="502.87" cy="175.68" r="3.00" fill="#98159f"/>
<circle cx="500.24" cy="173.64" r="3.00" fill="#9f1b9a"/>
<circle cx="503.95" cy="175.28" r="3.00" fill="#a31e98"/>
<circle cx="502.89" cy="170.35" r="3.00" fill="#b7308b"/>
<circle cx="500.80" cy="175.72" r="3.00" fill="#ae2792"/>
<circle cx="501.48" cy="175.84" r="3.00" fill="#b02991"/>
<circle cx="503.74" cy="168.90" r="3.00" fill="#b93389"/>
<circle cx="501.96" cy="178.21" r="3.00" fill="#a41f98"/>
<circle cx="502.40" cy="165.30" r="3.00" fill="#ae2892"/>
<circle cx="500.71" cy="176.35" r="3.00" fill="#a01c9a"/>
<circle cx="501.25" cy="171.69" r="3.00" fill="#b22b8f"/>
<circle cx="504.05" cy="173.08" r="3.00" fill="#a62097"/>
<circle cx="502.49" cy="177.94" r="3.00" fill="#9f1b9b"/>
<circle cx="502.01" cy="176.96" r="3.00" fill="#98159f"/>
<circle cx="502.88" cy="165.93" r="3.00" fill="#b62f8c"/>
<circle cx="500.51" cy="167.53" r="3.00" fill="#bd3686"/>
<circle cx="500.82" cy="172.36" r="3.00" fill="#b02991"/>
<circle cx="500.69" cy="169.60" r="3.00" fill="#bc3686"/>
<circle cx="501.15" cy="170.20" r="3.00" fill="#ab2594"/>
<circle cx="502.69" cy="177.43" r="3.00" fill="#a31e98"/>
<circle cx="502.01" cy="177.73" r="3.00" fill="#a31e98"/>
<circle cx="501.88" cy="171.34" r="3.00" fill="#b02991"/>
<circle cx="501.34" cy="162.90" r="3.00" fill="#b6308b"/>
<circle cx="501.18" cy="165.64" r="3.00" fill="#c13b82"/>
<circle cx="500.39" cy="170.53" r="3.00" fill="#ba3488"/>
<circle cx="505.47" cy="185.35" r="3.00" fill="#a21d99"/>
<circle cx="505.87" cy="184.67" r="3.00" fill="#b02991"/>
<circle cx="508.28" cy="184.75" r="3.00" fill="#9c189c"/>
<circle cx="506.81" cy="184.70" r="3.00" fill="#ab2594"/>
<circle cx="506.24" cy="184.87" r="3.00" fill="#9f1b9b"/>
<circle cx="502.34" cy="184.64" r="3.00" fill="#9a169e"/>
<circle cx="503.83" cy="182.83" r="3.00" fill="#9b179d"/>
<circle cx="502.38" cy="185.50" r="3.00" fill="#a52097"/>
<circle cx="500.73" cy="185.25" r="3.00" fill="#a72296"/>
<circle cx="503.88" cy="184.03" r="3.00" fill="#a01b9a"/>
<circle cx="506.96" cy="190.12" r="3.00" fill="#6c01a8"/>
<circle cx="505.07" cy="189.27" r="3.00" fill="#6d01a8"/>
<circle cx="506.98" cy="189.49" r="3.00" fill="#7a06a6"/>
<circle cx="505.67" cy="189.14" r="3.00" fill="#7303a7"/>
<circle cx="505.77" cy="189.23" r="3.00" fill="#7d07a6"/>
<circle cx="501.40" cy="185.58" r="3.00" fill="#ac2593"/>
<circle cx="502.94" cy="185.39" r="3.00" fill="#a21e99"/>
<circle cx="500.51" cy="185.90" r="3.00" fill="#9d199c"/>
<circle cx="501.33" cy="185.86" r="3.00" fill="#9f1b9b"/>
<circle cx="500.00" cy="186.26" r="3.00" fill="#ac2693"/>
<circle cx="501.14" cy="181.16" r="3.00" fill="#ac2693"/>
<circle cx="500.15" cy="181.41" r="3.00" fill="#9b179d"/>
<circle cx="500.50" cy="181.22" r="3.00" fill="#9b179d"/>
<circle cx="501.30" cy="181.19" r="3.00" fill="#9b189d"/>
<circle cx="501.76" cy="180.85" r="3.00" fill="#9f1b9a"/>
<circle cx="506.43" cy="182.98" r="3.00" fill="#a62097"/>
<circle cx="507.01" cy="184.33" r="3.00" fill="#9b179d"/>
<circle cx="507.05" cy="183.63" r="3.00" fill="#aa2494"/>
<circle cx="507.08" cy="183.19" r="3.00" fill="#98149f"/>
<circle cx="504.40" cy="183.62" r="3.00" fill="#a82295"/>
<circle cx="504.91" cy="186.93" r="3.00" fill="#a41f98"/>
<circle cx="505.84" cy="189.96" r="3.00" fill="#8309a5"/>
<circle cx="506.37" cy="189.55" r="3.00" fill="#6b00a8"/>
<circle cx="505.55" cy="187.86" r="3.00" fill="#6e01a8"/>
<circle cx="505.25" cy="188.65" r="3.00" fill="#7a05a6"/>
<circle cx="509.05" cy="183.34" r="3.00" fill="#a31e98"/>
<circle cx="507.50" cy="182.49" r="3.00" fill="#af2991"/>
<circle cx="509.17" cy="183.57" r="3.00" fill="#a82295"/>
<circle cx="508.91" cy="182.17" r="3.00" fill="#9d199c"/>
<circle cx="507.34" cy="182.50" r="3.00" fill="#af2891"/>
<circle cx="504.62" cy="183.48" r="3.00" fill="#a11c99"/>
<circle cx="504.45" cy="183.34" r="3.00" fill="#a52097"/>
<circle cx="507.11" cy="186.55" r="3.00" fill="#a41f98"/>
<circle cx="504.65" cy="183.20" r="3.00" fill="#9d199c"/>
<circle cx="505.71" cy="184.85" r="3.00" fill="#a21e99"/>
<circle cx="505.25" cy="188.88" r="3.00" fill="#7002a7"/>
<circle cx="504.10" cy="186.37" r="3.00" fill="#ad2792"/>
<circle cx="504.45" cy="188.42" r="3.00" fill="#7103a7"/>
<circle cx="505.14" cy="188.65" r="3.00" fill="#6b00a8"/>
<circle cx="504.95" cy="188.86" r="3.00" fill="#7d07a6"/>
<circle cx="504.61" cy="185.12" r="3.00" fill="#a82295"/>
<circle cx="503.75" cy="185.67" r="3.00" fill="#9d199c"/>
<circle cx="501.84" cy="184.46" r="3.00" fill="#a31e98"/>
<circle cx="502.77" cy="184.01" r="3.00" fill="#a01b9a"/>
<circle cx="504.53" cy="184.65" r="3.00" fill="#ae2892"/>
<circle cx="505.65" cy="193.01" r="3.00" fill="#7705a7"/>
<circle cx="505.74" cy="191.70" r="3.00" fill="#7f07a6"/>
<circle cx="506.15" cy="194.60" r="3.00" fill="#7905a6"/>
<circle cx="506.30" cy="193.36" r="3.00" fill="#870aa5"/>
<circle cx="505.94" cy="191.64" r="3.00" fill="#7905a6"/>
<circle cx="505.95" cy="189.93" r="3.00" fill="#7b06a6"/>
<circle cx="508.39" cy="190.39" r="3.00" fill="#8309a5"/>
<circle cx="507.99" cy="190.42" r="3.00" fill="#8409a5"/>
<circle cx="508.54" cy="190.86" r="3.00" fill="#7604a7"/>
<circle cx="507.00" cy="190.19" r="3.00" fill="#6e01a8"/>
<circle cx="506.74" cy="192.71" r="3.00" fill="#8108a6"/>
<circle cx="507.70" cy="193.08" r="3.00" fill="#6f02a7"/>
<circle cx="504.59" cy="191.77" r="3.00" fill="#8108a6"/>
<circle cx="504.90" cy="191.49" r="3.00" fill="#7604a7"/>
<circle cx="505.96" cy="192.22" r="3.00" fill="#8409a5"/>
<circle cx="506.28" cy="177.24" r="3.00" fill="#a31e98"/>
<circle cx="507.33" cy="175.74" r="3.00" fill="#af2891"/>
<circle cx="504.37" cy="177.58" r="3.00" fill="#9d199c"/>
<circle cx="505.82" cy="176.53" r="3.00" fill="#98159f"/>
<circle cx="505.61" cy="175.85" r="3.00" fill="#99159e"/>
<circle cx="500.93" cy="182.61" r="3.00" fill="#af2891"/>
<circle cx="499.39" cy="183.22" r="3.00" fill="#a01b9a"/>
<circle cx="498.87" cy="182.88" r="3.00" fill="#98159e"/>
<circle cx="500.83" cy="183.48" r="3.00" fill="#ad2792"/>
<circle cx="500.16" cy="183.64" r="3.00" fill="#a41f97"/>
<circle cx="498.76" cy="181.19" r="3.00" fill="#9b179d"/>
<circle cx="498.45" cy="180.74" r="3.00" fill="#a41f98"/>
<circle cx="499.51" cy="180.60" r="3.00" fill="#9a169e"/>
<circle cx="498.66" cy="181.02" r="3.00" fill="#98159f"/>
<circle cx="498.92" cy="179.35" r="3.00" fill="#9c189c"/>
<circle cx="499.89" cy="187.09" r="3.00" fill="#9c189c"/>
<circle cx="500.23" cy="187.81" r="3.00" fill="#97149f"/>
<circle cx="501.14" cy="188.69" r="3.00" fill="#9b179d"/>
<circle cx="502.35" cy="190.61" r="3.00" fill="#98159f"/>
<circle cx="501.33" cy="189.48" r="3.00" fill="#a31e98"/>
<circle cx="507.00" cy="191.72" r="3.00" fill="#8409a5"/>
<circle cx="507.87" cy="190.48" r="3.00" fill="#7d07a6"/>
<circle cx="507.41" cy="191.43" r="3.00" fill="#8409a5"/>
<circle cx="508.51" cy="190.65" r="3.00" fill="#7002a7"/>
<circle cx="510.42" cy="189.31" r="3.00" fill="#7604a7"/>
<circle cx="502.27" cy="188.68" r="3.00" fill="#aa2494"/>
<circle cx="502.96" cy="189.07" r="3.00" fill="#a72196"/>
<circle cx="501.37" cy="190.19" r="3.00" fill="#9a169e"/>
<circle cx="501.29" cy="188.85" r="3.00" fill="#a82395"/>
<circle cx="502.73" cy="189.60" r="3.00" fill="#a21e99"/>
<circle cx="504.00" cy="177.05" r="3.00" fill="#a31e98"/>
<circle cx="503.85" cy="176.66" r="3.00" fill="#97149f"/>
<circle cx="504.31" cy="177.27" r="3.00" fill="#a52097"/>
<circle cx="505.20" cy="177.07" r="3.00" fill="#9b189d"/>
<circle cx="503.82" cy="179.54" r="3.00" fill="#9f1b9b"/>
<circle cx="502.72" cy="185.05" r="3.00" fill="#ae2892"/>
<circle cx="503.23" cy="183.21" r="3.00" fill="#aa2494"/>
<circle cx="502.08" cy="185.57" r="3.00" fill="#a21d99"/>
<circle cx="503.18" cy="183.20" r="3.00" fill="#99169e"/>
<circle cx="502.93" cy="184.02" r="3.00" fill="#aa2494"/>
<circle cx="501.19" cy="183.49" r="3.00" fill="#9f1b9b"/>
<circle cx="501.43" cy="183.82" r="3.00" fill="#a41f98"/>
<circle cx="500.32" cy="184.29" r="3.00" fill="#af2991"/>
<circle cx="500.88" cy="184.33" r="3.00" fill="#a62097"/>
<circle cx="502.87" cy="184.22" r="3.00" fill="#9a169e"/>
<circle cx="505.46" cy="180.84" r="3.00" fill="#a82395"/>
<circle cx="502.62" cy="182.26" r="3.00" fill="#97149f"/>
<circle cx="503.74" cy="181.28" r="3.00" fill="#9d199c"/>
<circle cx="504.01" cy="181.60" r="3.00" fill="#9613a0"/>
<circle cx="503.97" cy="181.87" r="3.00" fill="#a62097"/>
<circle cx="501.84" cy="184.03" r="3.00" fill="#a11d99"/>
<circle cx="500.81" cy="182.63" r="3.00" fill="#97149f"/>
<circle cx="499.97" cy="181.30" r="3.00" fill="#9f1a9b"/>
<circle cx="501.47" cy="180.38" r="3.00" fill="#a72196"/>
<circle cx="499.94" cy="181.95" r="3.00" fill="#98149f"/>
<circle cx="503.82" cy="181.84" r="3.00" fill="#9c189c"/>
<circle cx="504.29" cy="183.45" r="3.00" fill="#a41f98"/>
<circle cx="503.85" cy="184.27" r="3.00" fill="#a41f98"/>
<circle cx="503.83" cy="182.21" r="3.00" fill="#9a169e"/>
<circle cx="506.90" cy="185.34" r="3.00" fill="#9d199c"/>
<circle cx="502.41" cy="177.92" r="3.00" fill="#9e1a9b"/>
<circle cx="501.34" cy="177.28" r="3.00" fill="#a62196"/>
<circle cx="501.01" cy="180.46" r="3.00" fill="#a21d99"/>
<circle cx="505.85" cy="190.89" r="3.00" fill="#7403a7"/>
<circle cx="505.84" cy="182.12" r="3.00" fill="#99159e"/>
<circle cx="503.35" cy="184.79" r="3.00" fill="#a31e98"/>
<circle cx="502.43" cy="181.58" r="3.00" fill="#9b179d"/>
<circle cx="499.57" cy="181.17" r="3.00" fill="#99169e"/>
<circle cx="504.45" cy="186.47" r="3.00" fill="#97149f"/>
<circle cx="506.16" cy="178.40" r="3.00" fill="#a52097"/>
<circle cx="501.24" cy="180.22" r="3.00" fill="#9a169e"/>
<circle cx="502.98" cy="183.44" r="3.00" fill="#97149f"/>
<circle cx="507.27" cy="182.88" r="3.00" fill="#a92395"/>
<circle cx="504.46" cy="191.96" r="3.00" fill="#8409a5"/>
<circle cx="507.91" cy="189.79" r="3.00" fill="#7e07a6"/>
<circle cx="504.78" cy="187.36" r="3.00" fill="#8509a5"/>
<circle cx="508.46" cy="187.18" r="3.00" fill="#8509a5"/>
<circle cx="506.11" cy="188.56" r="3.00" fill="#7102a7"/>
<circle cx="503.81" cy="185.19" r="3.00" fill="#a82295"/>
<circle cx="503.09" cy="192.17" r="3.00" fill="#a21d99"/>
<circle cx="504.60" cy="180.41" r="3.00" fill="#ac2693"/>
<circle cx="500.04" cy="180.57" r="3.00" fill="#ae2792"/>
<circle cx="505.80" cy="187.41" r="3.00" fill="#8509a5"/>
<circle cx="504.48" cy="185.60" r="3.00" fill="#a21d99"/>
<circle cx="502.16" cy="179.53" r="3.00" fill="#99169e"/>
<circle cx="503.27" cy="175.32" r="3.00" fill="#9b179d"/>
<circle cx="502.19" cy="183.91" r="3.00" fill="#ac2693"/>
<circle cx="508.36" cy="185.78" r="3.00" fill="#ab2593"/>
<circle cx="507.18" cy="182.95" r="3.00" fill="#a01b9a"/>
<circle cx="500.93" cy="180.27" r="3.00" fill="#9f1b9a"/>
<circle cx="504.55" cy="187.27" r="3.00" fill="#8209a5"/>
<circle cx="502.54" cy="180.06" r="3.00" fill="#a92395"/>
<circle cx="506.80" cy="191.35" r="3.00" fill="#8108a5"/>
<circle cx="502.37" cy="183.12" r="3.00" fill="#af2891"/>
<circle cx="504.57" cy="178.46" r="3.00" fill="#b02991"/>
<circle cx="507.29" cy="187.79" r="3.00" fill="#7704a7"/>
<circle cx="503.09" cy="178.96" r="3.00" fill="#9c189d"/>
<circle cx="505.84" cy="178.76" r="3.00" fill="#aa2494"/>
<circle cx="502.48" cy="189.37" r="3.00" fill="#a21d99"/>
<circle cx="503.73" cy="192.61" r="3.00" fill="#a62097"/>
<circle cx="502.95" cy="178.66" r="3.00" fill="#ab2593"/>
<circle cx="501.39" cy="183.30" r="3.00" fill="#af2991"/>
<circle cx="506.86" cy="191.78" r="3.00" fill="#8108a6"/>
<circle cx="500.66" cy="183.04" r="3.00" fill="#99169e"/>
<circle cx="499.93" cy="183.22" r="3.00" fill="#a92395"/>
<circle cx="507.11" cy="180.26" r="3.00" fill="#9613a0"/>
<circle cx="505.00" cy="181.69" r="3.00" fill="#a11c99"/>
<circle cx="502.39" cy="181.47" r="3.00" fill="#a31e98"/>
<circle cx="501.65" cy="182.02" r="3.00" fill="#a92395"/>
<circle cx="503.83" cy="190.17" r="3.00" fill="#b12a90"/>
<circle cx="506.51" cy="182.32" r="3.00" fill="#a62097"/>
<circle cx="500.09" cy="184.66" r="3.00" fill="#a21d99"/>
<circle cx="504.28" cy="191.87" r="3.00" fill="#7002a7"/>
<circle cx="500.96" cy="182.43" r="3.00" fill="#ae2892"/>
<circle cx="504.25" cy="189.89" r="3.00" fill="#6d01a8"/>
<circle cx="506.78" cy="179.01" r="3.00" fill="#a62196"/>
<circle cx="507.39" cy="190.72" r="3.00" fill="#8309a5"/>
<circle cx="501.90" cy="180.50" r="3.00" fill="#aa2494"/>
<circle cx="508.26" cy="185.30" r="3.00" fill="#a41f98"/>
<circle cx="502.69" cy="188.51" r="3.00" fill="#b02991"/>
<circle cx="501.72" cy="180.60" r="3.00" fill="#aa2494"/>
<circle cx="507.97" cy="185.68" r="3.00" fill="#98149f"/>
<circle cx="501.66" cy="184.30" r="3.00" fill="#ae2792"/>
<circle cx="502.23" cy="180.02" r="3.00" fill="#9613a0"/>
<circle cx="503.39" cy="184.22" r="3.00" fill="#9d199c"/>
<circle cx="507.34" cy="187.77" r="3.00" fill="#860aa5"/>
<circle cx="507.62" cy="188.33" r="3.00" fill="#6f02a7"/>
<circle cx="504.35" cy="180.92" r="3.00" fill="#a31e98"/>
<circle cx="502.02" cy="182.12" r="3.00" fill="#ad2693"/>
<circle cx="502.25" cy="189.29" r="3.00" fill="#a21d99"/>
<circle cx="500.22" cy="186.09" r="3.00" fill="#9f1a9b"/>
<circle cx="500.66" cy="177.32" r="3.00" fill="#9b189d"/>
<circle cx="500.57" cy="185.00" r="3.00" fill="#ad2792"/>
<circle cx="505.61" cy="182.81" r="3.00" fill="#a41f97"/>
<circle cx="501.48" cy="183.27" r="3.00" fill="#9a169e"/>
<circle cx="505.58" cy="187.01" r="3.00" fill="#870aa5"/>
<circle cx="507.23" cy="189.80" r="3.00" fill="#7203a7"/>
<circle cx="504.17" cy="177.14" r="3.00" fill="#af2891"/>
<circle cx="506.22" cy="179.83" r="3.00" fill="#a82395"/>
<circle cx="504.16" cy="181.80" r="3.00" fill="#a21d99"/>
<circle cx="505.05" cy="178.37" r="3.00" fill="#aa2494"/>
<circle cx="501.03" cy="180.21" r="3.00" fill="#9e1a9b"/>
<circle cx="504.10" cy="180.95" r="3.00" fill="#a92395"/>
<circle cx="503.19" cy="179.42" r="3.00" fill="#9c189d"/>
<circle cx="507.11" cy="186.25" r="3.00" fill="#a62196"/>
<circle cx="504.82" cy="189.88" r="3.00" fill="#7b06a6"/>
<circle cx="499.77" cy="179.49" r="3.00" fill="#a21d99"/>
<circle cx="508.28" cy="184.67" r="3.00" fill="#ae2792"/>
<circle cx="507.23" cy="181.03" r="3.00" fill="#aa2494"/>
<circle cx="506.94" cy="182.52" r="3.00" fill="#9b179d"/>
<circle cx="502.86" cy="189.60" r="3.00" fill="#ac2693"/>
<circle cx="505.20" cy="186.11" r="3.00" fill="#9e1a9b"/>
<circle cx="501.18" cy="182.45" r="3.00" fill="#ad2792"/>
<circle cx="500.00" cy="179.70" r="3.00" fill="#b02a90"/>
<circle cx="502.24" cy="186.46" r="3.00" fill="#9a169e"/>
<circle cx="504.33" cy="178.62" r="3.00" fill="#a01b9a"/>
<circle cx="504.49" cy="178.24" r="3.00" fill="#97149f"/>
<circle cx="501.45" cy="179.33" r="3.00" fill="#ac2693"/>
<circle cx="506.66" cy="184.42" r="3.00" fill="#a72296"/>
<circle cx="503.28" cy="185.29" r="3.00" fill="#9b179d"/>
<circle cx="503.86" cy="176.66" r="3.00" fill="#af2891"/>
<circle cx="501.78" cy="188.34" r="3.00" fill="#9f1b9b"/>
<circle cx="502.53" cy="180.54" r="3.00" fill="#9b189d"/>
<circle cx="503.84" cy="192.60" r="3.00" fill="#b02a90"/>
<circle cx="502.63" cy="185.75" r="3.00" fill="#ac2693"/>
<circle cx="502.52" cy="183.01" r="3.00" fill="#99169e"/>
<circle cx="501.86" cy="179.12" r="3.00" fill="#af2891"/>
<circle cx="504.97" cy="178.47" r="3.00" fill="#b12a90"/>
<circle cx="504.39" cy="190.01" r="3.00" fill="#8209a5"/>
<circle cx="504.45" cy="191.15" r="3.00" fill="#7905a6"/>
<circle cx="558.17" cy="189.82" r="3.00" fill="#f48948"/>
<circle cx="561.63" cy="190.91" r="3.00" fill="#f0804e"/>
<circle cx="560.72" cy="191.02" r="3.00" fill="#f48a47"/>
<circle cx="558.38" cy="189.96" r="3.00" fill="#f69143"/>
<circle cx="559.31" cy="190.84" r="3.00" fill="#f58d45"/>
<circle cx="556.94" cy="195.95" r="3.00" fill="#f1834c"/>
<circle cx="556.99" cy="196.33" r="3.00" fill="#f48b47"/>
<circle cx="556.42" cy="199.15" r="3.00" fill="#f48c46"/>
<circle cx="557.05" cy="196.70" r="3.00" fill="#f1814d"/>
<circle cx="557.58" cy="197.97" r="3.00" fill="#f69143"/>
<circle cx="559.74" cy="205.18" r="3.00" fill="#f07f4e"/>
<circle cx="560.03" cy="205.05" r="3.00" fill="#f0804e"/>
<circle cx="559.99" cy="204.07" r="3.00" fill="#f2834c"/>
<circle cx="559.78" cy="203.22" r="3.00" fill="#f38749"/>
<circle cx="560.15" cy="206.21" r="3.00" fill="#f48948"/>
<circle cx="557.25" cy="198.00" r="3.00" fill="#f69143"/>
<circle cx="556.90" cy="198.81" r="3.00" fill="#f58e45"/>
<circle cx="556.25" cy="198.61" r="3.00" fill="#f58d45"/>
<circle cx="557.77" cy="199.00" r="3.00" fill="#f48b47"/>
<circle cx="559.63" cy="198.26" r="3.00" fill="#f48b46"/>
<circle cx="558.96" cy="197.25" r="3.00" fill="#ef7f4f"/>
<circle cx="558.18" cy="197.89" r="3.00" fill="#f48c46"/>
<circle cx="557.65" cy="198.94" r="3.00" fill="#f38948"/>
<circle cx="557.81" cy="197.09" r="3.00" fill="#f48b47"/>
<circle cx="558.76" cy="197.16" r="3.00" fill="#f38948"/>
<circle cx="558.09" cy="192.44" r="3.00" fill="#ef7e4f"/>
<circle cx="558.34" cy="193.13" r="3.00" fill="#f38948"/>
<circle cx="558.15" cy="192.68" r="3.00" fill="#f58f44"/>
<circle cx="556.80" cy="190.12" r="3.00" fill="#ef7f4f"/>
<circle cx="557.64" cy="192.95" r="3.00" fill="#f48a47"/>
<circle cx="559.32" cy="204.64" r="3.00" fill="#f58f44"/>
<circle cx="559.19" cy="205.08" r="3.00" fill="#f1814d"/>
<circle cx="559.67" cy="206.47" r="3.00" fill="#f38749"/>
<circle cx="559.59" cy="205.37" r="3.00" fill="#f38848"/>
<circle cx="559.64" cy="204.92" r="3.00" fill="#f58e45"/>
<circle cx="557.84" cy="195.74" r="3.00" fill="#f38649"/>
<circle cx="557.77" cy="197.56" r="3.00" fill="#f58f45"/>
<circle cx="558.08" cy="194.31" r="3.00" fill="#f2834b"/>
<circle cx="556.35" cy="199.35" r="3.00" fill="#f69143"/>
<circle cx="557.85" cy="195.66" r="3.00" fill="#f58d46"/>
<circle cx="557.70" cy="188.15" r="3.00" fill="#ea7556"/>
<circle cx="559.09" cy="189.21" r="3.00" fill="#f58d45"/>
<circle cx="558.47" cy="190.14" r="3.00" fill="#f58d45"/>
<circle cx="557.26" cy="189.53" r="3.00" fill="#f38848"/>
<circle cx="556.64" cy="190.66" r="3.00" fill="#f48c46"/>
<circle cx="559.32" cy="185.94" r="3.00" fill="#ee7c51"/>
<circle cx="559.27" cy="186.97" r="3.00" fill="#f0804e"/>
<circle cx="559.92" cy="188.34" r="3.00" fill="#ef7e4f"/>
<circle cx="560.32" cy="188.87" r="3.00" fill="#f48a48"/>
<circle cx="559.60" cy="187.40" r="3.00" fill="#ed7b51"/>
<circle cx="562.32" cy="195.31" r="3.00" fill="#f2844b"/>
<circle cx="561.54" cy="195.02" r="3.00" fill="#f1834c"/>
<circle cx="562.18" cy="194.88" r="3.00" fill="#f48a48"/>
<circle cx="562.03" cy="194.44" r="3.00" fill="#f1824c"/>
<circle cx="561.96" cy="194.25" r="3.00" fill="#f58d45"/>
<circle cx="562.18" cy="198.55" r="3.00" fill="#ef7f4e"/>
<circle cx="562.43" cy="198.33" r="3.00" fill="#f2854a"/>
<circle cx="560.69" cy="200.75" r="3.00" fill="#f38948"/>
<circle cx="561.62" cy="199.12" r="3.00" fill="#f48b47"/>
<circle cx="561.20" cy="200.43" r="3.00" fill="#f2844b"/>
<circle cx="561.79" cy="191.04" r="3.00" fill="#f1834c"/>
<circle cx="561.79" cy="190.40" r="3.00" fill="#f48a47"/>
<circle cx="562.74" cy="190.58" r="3.00" fill="#f58f44"/>
<circle cx="562.42" cy="189.51" r="3.00" fill="#f69143"/>
<circle cx="563.78" cy="189.03" r="3.00" fill="#f38849"/>
<circle cx="560.80" cy="190.89" r="3.00" fill="#f2834c"/>
<circle cx="560.59" cy="192.57" r="3.00" fill="#f38948"/>
<circle cx="561.82" cy="190.93" r="3.00" fill="#f58f44"/>
<circle cx="560.19" cy="192.87" r="3.00" fill="#f38848"/>
<circle cx="560.62" cy="192.73" r="3.00" fill="#ef7e4f"/>
<circle cx="558.36" cy="203.08" r="3.00" fill="#f2854b"/>
<circle cx="559.85" cy="203.43" r="3.00" fill="#f38849"/>
<circle cx="560.14" cy="203.72" r="3.00" fill="#f0804e"/>
<circle cx="558.37" cy="202.95" r="3.00" fill="#f69143"/>
<circle cx="558.91" cy="203.08" r="3.00" fill="#f3864a"/>
<circle cx="561.73" cy="191.79" r="3.00" fill="#f38948"/>
<circle cx="559.91" cy="191.66" r="3.00" fill="#f0814d"/>
<circle cx="562.02" cy="191.43" r="3.00" fill="#f2854b"/>
<circle cx="562.04" cy="191.41" r="3.00" fill="#ef7f4e"/>
<circle cx="561.67" cy="190.70" r="3.00" fill="#f48a47"/>
<circle cx="558.77" cy="195.57" r="3.00" fill="#f58e45"/>
<circle cx="558.61" cy="194.18" r="3.00" fill="#ef7e4f"/>
<circle cx="559.24" cy="194.99" r="3.00" fill="#ef7f4f"/>
<circle cx="557.68" cy="195.16" r="3.00" fill="#f0814d"/>
<circle cx="556.69" cy="193.73" r="3.00" fill="#f2834b"/>
<circle cx="559.25" cy="194.35" r="3.00" fill="#f58e45"/>
<circle cx="559.89" cy="195.41" r="3.00" fill="#f58f44"/>
<circle cx="559.92" cy="194.73" r="3.00" fill="#f69143"/>
<circle cx="559.55" cy="194.49" r="3.00" fill="#f38849"/>
<circle cx="560.95" cy="194.55" r="3.00" fill="#f0814d"/>
<circle cx="557.86" cy="190.38" r="3.00" fill="#f58f44"/>
<circle cx="557.79" cy="191.33" r="3.00" fill="#f48a47"/>
<circle cx="557.13" cy="193.17" r="3.00" fill="#f38848"/>
<circle cx="558.57" cy="191.92" r="3.00" fill="#f2834c"/>
<circle cx="556.98" cy="192.89" r="3.00" fill="#f0814d"/>
<circle cx="561.60" cy="204.80" r="3.00" fill="#f3864a"/>
<circle cx="561.83" cy="203.18" r="3.00" fill="#f3864a"/>
<circle cx="561.40" cy="204.04" r="3.00" fill="#f0814d"/>
<circle cx="560.02" cy="203.90" r="3.00" fill="#f2834b"/>
<circle cx="558.62" cy="204.99" r="3.00" fill="#f0804e"/>
<circle cx="559.17" cy="190.25" r="3.00" fill="#f2844b"/>
<circle cx="560.55" cy="199.24" r="3.00" fill="#f1824c"/>
<circle cx="560.49" cy="201.10" r="3.00" fill="#f2854b"/>
<circle cx="557.37" cy="198.26" r="3.00" fill="#f58d45"/>
<circle cx="558.71" cy="202.45" r="3.00" fill="#f38849"/>
<circle cx="557.89" cy="191.33" r="3.00" fill="#f48a48"/>
<circle cx="561.21" cy="202.50" r="3.00" fill="#f38749"/>
<circle cx="560.10" cy="202.67" r="3.00" fill="#f48c46"/>
<circle cx="560.52" cy="192.96" r="3.00" fill="#f07f4e"/>
<circle cx="561.24" cy="191.52" r="3.00" fill="#f58d46"/>
<circle cx="558.81" cy="195.33" r="3.00" fill="#f38948"/>
<circle cx="558.38" cy="200.59" r="3.00" fill="#f48a47"/>
<circle cx="559.14" cy="193.49" r="3.00" fill="#f58f44"/>
<circle cx="562.06" cy="196.97" r="3.00" fill="#f38948"/>
<circle cx="561.38" cy="199.01" r="3.00" fill="#f48a48"/>
<circle cx="557.33" cy="195.04" r="3.00" fill="#f0814e"/>
<circle cx="559.12" cy="201.67" r="3.00" fill="#f2844b"/>
<circle cx="558.72" cy="200.41" r="3.00" fill="#f58f44"/>
<circle cx="560.10" cy="191.66" r="3.00" fill="#ef7e4f"/>
<circle cx="561.59" cy="190.91" r="3.00" fill="#f07f4e"/>
<circle cx="557.13" cy="196.44" r="3.00" fill="#f0814d"/>
<circle cx="559.39" cy="202.12" r="3.00" fill="#f69043"/>
<circle cx="558.06" cy="196.57" r="3.00" fill="#f3864a"/>
<circle cx="558.62" cy="202.71" r="3.00" fill="#f69143"/>
<circle cx="558.79" cy="191.54" r="3.00" fill="#f1834c"/>
<circle cx="560.70" cy="196.79" r="3.00" fill="#ef7f4f"/>
<circle cx="557.56" cy="199.11" r="3.00" fill="#f48c46"/>
<circle cx="560.45" cy="202.00" r="3.00" fill="#f1834c"/>
<circle cx="560.45" cy="194.20" r="3.00" fill="#f0804e"/>
<circle cx="559.25" cy="194.83" r="3.00" fill="#f2844b"/>
<circle cx="558.36" cy="192.39" r="3.00" fill="#f48a47"/>
<circle cx="561.73" cy="196.91" r="3.00" fill="#f69044"/>
<circle cx="558.74" cy="203.66" r="3.00" fill="#f38749"/>
<circle cx="558.34" cy="195.97" r="3.00" fill="#f48b47"/>
<circle cx="559.63" cy="201.37" r="3.00" fill="#ef7e4f"/>
<circle cx="560.85" cy="199.48" r="3.00" fill="#f2834b"/>
<circle cx="559.04" cy="193.59" r="3.00" fill="#f48c46"/>
<circle cx="557.62" cy="202.85" r="3.00" fill="#f0804e"/>
<circle cx="560.31" cy="201.18" r="3.00" fill="#f2844b"/>
<circle cx="558.02" cy="195.55" r="3.00" fill="#ef7f4f"/>
<circle cx="561.01" cy="198.28" r="3.00" fill="#f48c46"/>
<circle cx="557.78" cy="195.96" r="3.00" fill="#f38849"/>
<circle cx="561.87" cy="192.15" r="3.00" fill="#f48b47"/>
<circle cx="558.25" cy="193.08" r="3.00" fill="#f2844b"/>
<circle cx="560.44" cy="203.03" r="3.00" fill="#f38848"/>
<circle cx="558.18" cy="190.44" r="3.00" fill="#f48948"/>
<circle cx="558.52" cy="193.55" r="3.00" fill="#f3864a"/>
<circle cx="560.06" cy="190.65" r="3.00" fill="#f0804e"/>
<circle cx="559.04" cy="191.10" r="3.00" fill="#ef7f4f"/>
<circle cx="557.72" cy="194.55" r="3.00" fill="#f58f44"/>
<circle cx="560.93" cy="195.66" r="3.00" fill="#f48a47"/>
<circle cx="558.00" cy="199.16" r="3.00" fill="#f48b46"/>
<circle cx="557.89" cy="191.34" r="3.00" fill="#f48b47"/>
<circle cx="559.48" cy="188.31" r="3.00" fill="#ea7655"/>
<circle cx="558.92" cy="201.98" r="3.00" fill="#ef7e4f"/>
<circle cx="560.67" cy="196.83" r="3.00" fill="#f69044"/>
<circle cx="560.38" cy="196.14" r="3.00" fill="#f1834c"/>
<circle cx="557.75" cy="198.52" r="3.00" fill="#f69044"/>
<circle cx="558.99" cy="201.08" r="3.00" fill="#f0814d"/>
<circle cx="561.83" cy="195.63" r="3.00" fill="#f59044"/>
<circle cx="559.85" cy="201.28" r="3.00" fill="#f38848"/>
<circle cx="559.49" cy="191.84" r="3.00" fill="#f0804e"/>
<circle cx="560.51" cy="203.69" r="3.00" fill="#f1824c"/>
<circle cx="560.92" cy="200.46" r="3.00" fill="#f48b47"/>
<circle cx="561.34" cy="200.11" r="3.00" fill="#f69143"/>
<circle cx="560.44" cy="195.97" r="3.00" fill="#f3864a"/>
<circle cx="558.61" cy="199.02" r="3.00" fill="#f48a47"/>
<circle cx="557.67" cy="195.18" r="3.00" fill="#f58e45"/>
<circle cx="560.95" cy="200.70" r="3.00" fill="#ef7e50"/>
<circle cx="560.54" cy="192.29" r="3.00" fill="#f1824c"/>
<circle cx="559.32" cy="195.93" r="3.00" fill="#f1824c"/>
<circle cx="560.37" cy="195.16" r="3.00" fill="#f48c46"/>
<circle cx="560.22" cy="204.58" r="3.00" fill="#f58d46"/>
<circle cx="557.92" cy="199.45" r="3.00" fill="#f69044"/>
<circle cx="561.19" cy="194.84" r="3.00" fill="#f2854a"/>
<circle cx="559.23" cy="205.33" r="3.00" fill="#f58f44"/>
<circle cx="557.26" cy="197.40" r="3.00" fill="#f0804e"/>
<circle cx="557.70" cy="201.74" r="3.00" fill="#f58f44"/>
<circle cx="561.92" cy="197.25" r="3.00" fill="#f58f44"/>
<circle cx="557.56" cy="197.98" r="3.00" fill="#f58d46"/>
<circle cx="559.71" cy="200.70" r="3.00" fill="#f38948"/>
<circle cx="559.62" cy="199.28" r="3.00" fill="#f69143"/>
<circle cx="561.35" cy="197.26" r="3.00" fill="#f58e45"/>
<circle cx="558.85" cy="204.82" r="3.00" fill="#ef7e50"/>
<circle cx="558.03" cy="200.00" r="3.00" fill="#f58e45"/>
<circle cx="558.91" cy="201.47" r="3.00" fill="#f1824c"/>
<circle cx="559.29" cy="188.71" r="3.00" fill="#f2844b"/>
<circle cx="558.60" cy="194.88" r="3.00" fill="#f38948"/>
<circle cx="557.24" cy="195.14" r="3.00" fill="#f58d45"/>
<circle cx="559.10" cy="200.32" r="3.00" fill="#f69044"/>
<circle cx="560.28" cy="184.88" r="3.00" fill="#e66e5b"/>
<circle cx="559.86" cy="188.25" r="3.00" fill="#eb7655"/>
<circle cx="562.19" cy="186.73" r="3.00" fill="#e77059"/>
<circle cx="559.84" cy="188.68" r="3.00" fill="#f48a47"/>
<circle cx="560.41" cy="184.51" r="3.00" fill="#e77059"/>
<circle cx="559.55" cy="188.50" r="3.00" fill="#ec7953"/>
<circle cx="561.76" cy="187.49" r="3.00" fill="#ed7a52"/>
<circle cx="560.66" cy="186.98" r="3.00" fill="#e97457"/>
<circle cx="560.28" cy="187.53" r="3.00" fill="#ed7a52"/>
<circle cx="561.79" cy="188.78" r="3.00" fill="#f48c46"/>
<circle cx="560.65" cy="185.09" r="3.00" fill="#f0804e"/>
<circle cx="560.91" cy="183.89" r="3.00" fill="#ed7b51"/>
<circle cx="561.84" cy="185.52" r="3.00" fill="#ec7853"/>
<circle cx="561.90" cy="184.90" r="3.00" fill="#ec7854"/>
<circle cx="560.35" cy="184.80" r="3.00" fill="#e66e5b"/>
<circle cx="560.52" cy="184.32" r="3.00" fill="#eb7755"/>
<circle cx="593.62" cy="162.18" r="3.00" fill="#8f0da4"/>
<circle cx="596.01" cy="164.53" r="3.00" fill="#8f0da4"/>
<circle cx="621.22" cy="197.73" r="3.00" fill="#f99b3d"/>
<circle cx="600.93" cy="193.44" r="3.00" fill="#f1834c"/>
<circle cx="630.51" cy="188.90" r="3.00" fill="#f1814d"/>
<circle cx="586.87" cy="198.21" r="3.00" fill="#cb4678"/>
<circle cx="613.45" cy="201.93" r="3.00" fill="#f38849"/>
<circle cx="612.12" cy="184.62" r="3.00" fill="#e66e5b"/>
<circle cx="611.54" cy="201.32" r="3.00" fill="#f99b3d"/>
<circle cx="595.74" cy="207.87" r="3.00" fill="#d8576c"/>
<circle cx="590.95" cy="167.81" r="3.00" fill="#9c189c"/>
<circle cx="589.14" cy="172.19" r="3.00" fill="#7f08a6"/>
<circle cx="609.19" cy="183.59" r="3.00" fill="#e3695f"/>
<circle cx="575.92" cy="195.48" r="3.00" fill="#f69043"/>
<circle cx="586.61" cy="201.51" r="3.00" fill="#c6417d"/>
<circle cx="609.93" cy="184.01" r="3.00" fill="#dd5f66"/>
<circle cx="618.25" cy="201.75" r="3.00" fill="#e97258"/>
<circle cx="610.25" cy="197.06" r="3.00" fill="#f3864a"/>
<circle cx="604.46" cy="203.95" r="3.00" fill="#f48a48"/>
<circle cx="599.80" cy="193.09" r="3.00" fill="#ec7a53"/>
<circle cx="608.21" cy="181.27" r="3.00" fill="#e3685f"/>
<circle cx="598.24" cy="183.44" r="3.00" fill="#df6164"/>
<circle cx="576.18" cy="197.49" r="3.00" fill="#f38749"/>
<circle cx="607.33" cy="180.72" r="3.00" fill="#ce4a76"/>
<circle cx="606.54" cy="200.26" r="3.00" fill="#f1834c"/>
<circle cx="617.19" cy="182.06" r="3.00" fill="#ed7b52"/>
<circle cx="609.90" cy="200.12" r="3.00" fill="#f8983e"/>
<circle cx="612.39" cy="188.31" r="3.00" fill="#f58f44"/>
<circle cx="630.00" cy="184.55" r="3.00" fill="#f38749"/>
<circle cx="597.34" cy="191.48" r="3.00" fill="#e56b5d"/>
<circle cx="613.27" cy="198.61" r="3.00" fill="#fba338"/>
<circle cx="596.82" cy="182.31" r="3.00" fill="#dd5f66"/>
<circle cx="611.09" cy="209.49" r="3.00" fill="#e87258"/>
<circle cx="600.96" cy="178.78" r="3.00" fill="#da5a6a"/>
<circle cx="620.35" cy="202.83" r="3.00" fill="#f99c3c"/>
<circle cx="618.64" cy="200.36" r="3.00" fill="#f48a48"/>
<circle cx="592.71" cy="164.17" r="3.00" fill="#7a06a6"/>
<circle cx="619.99" cy="211.23" r="3.00" fill="#cc4778"/>
<circle cx="621.20" cy="192.12" r="3.00" fill="#e3685f"/>
<circle cx="609.14" cy="204.91" r="3.00" fill="#e46b5d"/>
<circle cx="599.21" cy="194.88" r="3.00" fill="#fba239"/>
<circle cx="577.24" cy="196.68" r="3.00" fill="#f59044"/>
<circle cx="572.63" cy="197.00" r="3.00" fill="#7303a7"/>
<circle cx="596.48" cy="186.68" r="3.00" fill="#dd5e67"/>
<circle cx="612.20" cy="185.83" r="3.00" fill="#f2844b"/>
<circle cx="632.02" cy="188.72" r="3.00" fill="#ef7f4f"/>
<circle cx="591.16" cy="186.03" r="3.00" fill="#b93289"/>
<circle cx="603.86" cy="209.88" r="3.00" fill="#dc5d67"/>
<circle cx="615.78" cy="181.02" r="3.00" fill="#d7576c"/>
<circle cx="591.31" cy="200.65" r="3.00" fill="#d7566c"/>
<circle cx="612.61" cy="198.54" r="3.00" fill="#f3864a"/>
<circle cx="618.20" cy="201.35" r="3.00" fill="#f58d45"/>
<circle cx="620.95" cy="202.76" r="3.00" fill="#ec7853"/>
<circle cx="611.52" cy="184.48" r="3.00" fill="#e46a5e"/>
<circle cx="589.76" cy="207.54" r="3.00" fill="#c13c81"/>
<circle cx="597.08" cy="167.36" r="3.00" fill="#b02990"/>
<circle cx="611.43" cy="197.54" r="3.00" fill="#fca835"/>
<circle cx="621.84" cy="201.74" r="3.00" fill="#ec7953"/>
<circle cx="595.72" cy="166.30" r="3.00" fill="#c23d80"/>
<circle cx="582.49" cy="185.36" r="3.00" fill="#cb4679"/>
<circle cx="590.82" cy="198.42" r="3.00" fill="#f58e45"/>
<circle cx="582.66" cy="183.31" r="3.00" fill="#c33e80"/>
<circle cx="576.66" cy="195.75" r="3.00" fill="#f2844b"/>
<circle cx="620.06" cy="200.38" r="3.00" fill="#e36760"/>
<circle cx="591.64" cy="202.53" r="3.00" fill="#e3685f"/>
<circle cx="575.02" cy="195.72" r="3.00" fill="#e76f5a"/>
<circle cx="614.54" cy="203.67" r="3.00" fill="#ef7f4e"/>
<circle cx="618.67" cy="195.73" r="3.00" fill="#f48b47"/>
<circle cx="627.74" cy="188.88" r="3.00" fill="#f07f4e"/>
<circle cx="592.07" cy="193.64" r="3.00" fill="#d35170"/>
<circle cx="592.25" cy="166.42" r="3.00" fill="#8108a5"/>
<circle cx="583.53" cy="168.56" r="3.00" fill="#7604a7"/>
<circle cx="612.98" cy="207.69" r="3.00" fill="#da5b69"/>
<circle cx="601.98" cy="202.11" r="3.00" fill="#ee7d50"/>
<circle cx="616.14" cy="185.29" r="3.00" fill="#e3685f"/>
<circle cx="577.38" cy="200.66" r="3.00" fill="#f48a47"/>
<circle cx="612.62" cy="207.03" r="3.00" fill="#db5b69"/>
<circle cx="587.50" cy="205.97" r="3.00" fill="#ca457a"/>
<circle cx="588.55" cy="175.05" r="3.00" fill="#c03a83"/>
<circle cx="597.37" cy="191.71" r="3.00" fill="#f79441"/>
<circle cx="594.20" cy="189.48" r="3.00" fill="#d4526f"/>
<circle cx="613.56" cy="203.85" r="3.00" fill="#e26561"/>
<circle cx="611.75" cy="203.31" r="3.00" fill="#ec7853"/>
<circle cx="589.20" cy="183.55" r="3.00" fill="#d5536f"/>
<circle cx="615.74" cy="179.62" r="3.00" fill="#d4526f"/>
<circle cx="581.47" cy="184.64" r="3.00" fill="#cd4877"/>
<circle cx="621.60" cy="193.20" r="3.00" fill="#f38749"/>
<circle cx="591.70" cy="168.60" r="3.00" fill="#9411a1"/>
<circle cx="574.99" cy="199.07" r="3.00" fill="#ea7456"/>
<circle cx="584.04" cy="198.67" r="3.00" fill="#d7566d"/>
<circle cx="619.42" cy="199.82" r="3.00" fill="#ec7853"/>
<circle cx="612.80" cy="179.68" r="3.00" fill="#df6164"/>
<circle cx="604.75" cy="190.37" r="3.00" fill="#ec7953"/>
<circle cx="590.88" cy="167.57" r="3.00" fill="#7002a7"/>
<circle cx="617.89" cy="207.86" r="3.00" fill="#f1824c"/>
<circle cx="600.79" cy="197.10" r="3.00" fill="#f79540"/>
<circle cx="620.55" cy="203.87" r="3.00" fill="#e16561"/>
<circle cx="609.29" cy="198.63" r="3.00" fill="#f8973f"/>
<circle cx="610.33" cy="203.88" r="3.00" fill="#f69143"/>
<circle cx="611.45" cy="203.40" r="3.00" fill="#e56b5d"/>
<circle cx="592.29" cy="176.03" r="3.00" fill="#b7308b"/>
<circle cx="600.98" cy="192.51" r="3.00" fill="#f38848"/>
<circle cx="631.37" cy="186.78" r="3.00" fill="#f58f44"/>
<circle cx="602.63" cy="189.51" r="3.00" fill="#f69143"/>
<circle cx="605.89" cy="185.51" r="3.00" fill="#ed7b51"/>
<circle cx="588.36" cy="186.08" r="3.00" fill="#b7308b"/>
<circle cx="616.00" cy="186.66" r="3.00" fill="#ed7a52"/>
<circle cx="626.39" cy="189.59" r="3.00" fill="#f69143"/>
<circle cx="619.28" cy="196.02" r="3.00" fill="#f58e45"/>
<circle cx="600.75" cy="184.15" r="3.00" fill="#dc5d67"/>
<circle cx="618.76" cy="196.55" r="3.00" fill="#e56b5d"/>
<circle cx="588.07" cy="197.14" r="3.00" fill="#da5b69"/>
<circle cx="591.70" cy="168.08" r="3.00" fill="#9512a1"/>
<circle cx="621.44" cy="202.65" r="3.00" fill="#ea7456"/>
<circle cx="598.01" cy="182.31" r="3.00" fill="#da5a6a"/>
<circle cx="614.52" cy="201.97" r="3.00" fill="#f59044"/>
<circle cx="585.47" cy="171.43" r="3.00" fill="#6b00a8"/>
<circle cx="578.74" cy="197.98" r="3.00" fill="#f38948"/>
<circle cx="607.88" cy="186.68" r="3.00" fill="#f2844b"/>
<circle cx="607.31" cy="206.39" r="3.00" fill="#ef7d50"/>
<circle cx="601.40" cy="203.02" r="3.00" fill="#e97457"/>
<circle cx="591.96" cy="194.13" r="3.00" fill="#d4526f"/>
<circle cx="600.97" cy="181.63" r="3.00" fill="#d24f72"/>
<circle cx="601.58" cy="204.48" r="3.00" fill="#f0804e"/>
<circle cx="615.44" cy="206.52" r="3.00" fill="#dd5e67"/>
<circle cx="611.49" cy="202.20" r="3.00" fill="#ea7555"/>
<circle cx="618.16" cy="187.89" r="3.00" fill="#eb7655"/>
<circle cx="611.38" cy="208.26" r="3.00" fill="#e26561"/>
<circle cx="611.03" cy="195.68" r="3.00" fill="#fcb82e"/>
<circle cx="611.05" cy="188.00" r="3.00" fill="#e76f5a"/>
<circle cx="607.90" cy="201.33" r="3.00" fill="#f58d45"/>
<circle cx="609.64" cy="206.39" r="3.00" fill="#d9596a"/>
<circle cx="580.61" cy="198.58" r="3.00" fill="#b8318a"/>
<circle cx="614.77" cy="208.05" r="3.00" fill="#ed7b51"/>
<circle cx="610.84" cy="183.68" r="3.00" fill="#df6264"/>
<circle cx="600.17" cy="198.92" r="3.00" fill="#ef7e4f"/>
<circle cx="593.51" cy="184.29" r="3.00" fill="#b7308b"/>
<circle cx="622.41" cy="196.49" r="3.00" fill="#e26661"/>
<circle cx="613.90" cy="207.48" r="3.00" fill="#f0804e"/>
<circle cx="612.24" cy="190.50" r="3.00" fill="#fa9e3b"/>
<circle cx="575.02" cy="194.59" r="3.00" fill="#e06363"/>
<circle cx="616.80" cy="209.15" r="3.00" fill="#d04c74"/>
<circle cx="632.29" cy="188.65" r="3.00" fill="#f2844b"/>
<circle cx="593.07" cy="193.43" r="3.00" fill="#eb7754"/>
<circle cx="604.91" cy="208.85" r="3.00" fill="#f38948"/>
<circle cx="616.31" cy="203.59" r="3.00" fill="#de6065"/>
<circle cx="616.82" cy="187.51" r="3.00" fill="#f2844b"/>
<circle cx="598.81" cy="180.15" r="3.00" fill="#d6556e"/>
<circle cx="617.04" cy="208.10" r="3.00" fill="#e66d5b"/>
<circle cx="630.02" cy="185.77" r="3.00" fill="#f69243"/>
<circle cx="583.40" cy="195.39" r="3.00" fill="#ca447a"/>
<circle cx="602.50" cy="183.99" r="3.00" fill="#e16362"/>
<circle cx="624.03" cy="195.78" r="3.00" fill="#df6164"/>
<circle cx="610.56" cy="200.67" r="3.00" fill="#f1814d"/>
<circle cx="608.28" cy="200.57" r="3.00" fill="#f69342"/>
<circle cx="627.36" cy="191.67" r="3.00" fill="#f38848"/>
<circle cx="610.08" cy="201.90" r="3.00" fill="#f58f44"/>
<circle cx="619.61" cy="211.33" r="3.00" fill="#f2844b"/>
<circle cx="629.76" cy="188.35" r="3.00" fill="#f58d45"/>
<circle cx="622.67" cy="203.41" r="3.00" fill="#d7576c"/>
<circle cx="587.33" cy="202.47" r="3.00" fill="#d24f72"/>
<circle cx="615.21" cy="203.47" r="3.00" fill="#f2854a"/>
<circle cx="619.68" cy="186.25" r="3.00" fill="#ea7555"/>
<circle cx="589.21" cy="189.82" r="3.00" fill="#c03a82"/>
<circle cx="606.76" cy="201.12" r="3.00" fill="#ef7f4f"/>
<circle cx="633.63" cy="186.49" r="3.00" fill="#f38749"/>
<circle cx="635.47" cy="188.91" r="3.00" fill="#ec7953"/>
<circle cx="610.27" cy="206.60" r="3.00" fill="#e56c5d"/>
<circle cx="621.11" cy="188.39" r="3.00" fill="#ed7a52"/>
<circle cx="619.96" cy="210.91" r="3.00" fill="#df6164"/>
<circle cx="594.61" cy="181.13" r="3.00" fill="#bd3785"/>
<circle cx="606.81" cy="187.24" r="3.00" fill="#ed7b51"/>
<circle cx="596.40" cy="166.56" r="3.00" fill="#b8318a"/>
<circle cx="599.99" cy="183.29" r="3.00" fill="#e16562"/>
<circle cx="591.36" cy="188.66" r="3.00" fill="#c23c81"/>
<circle cx="620.61" cy="184.45" r="3.00" fill="#e7705a"/>
<circle cx="581.03" cy="201.15" r="3.00" fill="#bf3984"/>
<circle cx="598.86" cy="183.20" r="3.00" fill="#dd5e66"/>
<circle cx="616.50" cy="205.30" r="3.00" fill="#f0804e"/>
<circle cx="603.27" cy="178.39" r="3.00" fill="#ca457a"/>
<circle cx="589.54" cy="198.63" r="3.00" fill="#d7566d"/>
<circle cx="594.56" cy="195.37" r="3.00" fill="#e4695e"/>
<circle cx="600.46" cy="196.19" r="3.00" fill="#ef7f4f"/>
<circle cx="623.22" cy="195.89" r="3.00" fill="#e87158"/>
<circle cx="598.63" cy="200.36" r="3.00" fill="#f3864a"/>
<circle cx="605.38" cy="185.57" r="3.00" fill="#eb7754"/>
<circle cx="609.71" cy="196.03" r="3.00" fill="#fcb231"/>
<circle cx="617.59" cy="189.58" r="3.00" fill="#f59044"/>
<circle cx="617.23" cy="188.96" r="3.00" fill="#f48c46"/>
<circle cx="591.84" cy="201.60" r="3.00" fill="#d35071"/>
<circle cx="598.02" cy="200.06" r="3.00" fill="#e97357"/>
<circle cx="633.98" cy="189.60" r="3.00" fill="#f69143"/>
<circle cx="608.38" cy="184.46" r="3.00" fill="#da5a6a"/>
<circle cx="606.86" cy="185.36" r="3.00" fill="#db5b69"/>
<circle cx="578.02" cy="198.41" r="3.00" fill="#f79341"/>
<circle cx="600.27" cy="196.83" r="3.00" fill="#e77059"/>
<circle cx="594.00" cy="185.29" r="3.00" fill="#d8576c"/>
<circle cx="612.82" cy="197.69" r="3.00" fill="#f58e45"/>
<circle cx="591.38" cy="202.72" r="3.00" fill="#db5c68"/>
<circle cx="604.22" cy="200.15" r="3.00" fill="#fa9e3b"/>
<circle cx="590.26" cy="169.86" r="3.00" fill="#98159f"/>
<circle cx="586.01" cy="168.18" r="3.00" fill="#6c01a8"/>
<circle cx="592.83" cy="167.22" r="3.00" fill="#7303a7"/>
<circle cx="599.40" cy="205.57" r="3.00" fill="#df6264"/>
<circle cx="610.76" cy="203.40" r="3.00" fill="#ec7953"/>
<circle cx="631.41" cy="189.88" r="3.00" fill="#f48c46"/>
<circle cx="609.41" cy="187.81" r="3.00" fill="#ec7953"/>
<circle cx="585.91" cy="197.68" r="3.00" fill="#cb4679"/>
<circle cx="615.33" cy="208.74" r="3.00" fill="#e87158"/>
<circle cx="592.60" cy="168.79" r="3.00" fill="#6c01a8"/>
<circle cx="596.73" cy="204.69" r="3.00" fill="#e06363"/>
<circle cx="589.15" cy="192.97" r="3.00" fill="#dd5f66"/>
<circle cx="575.23" cy="195.58" r="3.00" fill="#eb7754"/>
<circle cx="599.83" cy="188.46" r="3.00" fill="#de5f66"/>
<circle cx="596.02" cy="191.70" r="3.00" fill="#e56c5c"/>
<circle cx="580.72" cy="198.18" r="3.00" fill="#c23c81"/>
<circle cx="609.43" cy="188.36" r="3.00" fill="#ec7953"/>
<circle cx="609.16" cy="191.26" r="3.00" fill="#f58d45"/>
<circle cx="590.68" cy="166.86" r="3.00" fill="#7203a7"/>
<circle cx="619.42" cy="189.93" r="3.00" fill="#f1814d"/>
<circle cx="613.60" cy="196.47" r="3.00" fill="#f69044"/>
<circle cx="617.42" cy="202.65" r="3.00" fill="#f2844b"/>
<circle cx="596.13" cy="203.63" r="3.00" fill="#ec7953"/>
<circle cx="616.93" cy="180.76" r="3.00" fill="#cf4b75"/>
<circle cx="582.46" cy="184.55" r="3.00" fill="#cc4878"/>
<circle cx="611.92" cy="185.48" r="3.00" fill="#f69242"/>
<circle cx="604.90" cy="179.76" r="3.00" fill="#d9596b"/>
<circle cx="599.92" cy="197.02" r="3.00" fill="#ea7456"/>
<circle cx="600.15" cy="186.71" r="3.00" fill="#eb7655"/>
<circle cx="595.57" cy="209.15" r="3.00" fill="#e26561"/>
<circle cx="595.46" cy="207.15" r="3.00" fill="#e3685f"/>
<circle cx="609.35" cy="196.41" r="3.00" fill="#fa9e3b"/>
<circle cx="625.36" cy="186.85" r="3.00" fill="#ee7c50"/>
<circle cx="602.16" cy="181.64" r="3.00" fill="#db5b69"/>
<circle cx="599.91" cy="180.88" r="3.00" fill="#d5546e"/>
<circle cx="606.78" cy="196.22" r="3.00" fill="#fca735"/>
<circle cx="598.10" cy="203.49" r="3.00" fill="#ef7f4f"/>
<circle cx="614.86" cy="182.32" r="3.00" fill="#e76f5a"/>
<circle cx="617.61" cy="210.47" r="3.00" fill="#d7566d"/>
<circle cx="597.23" cy="197.20" r="3.00" fill="#e06363"/>
<circle cx="607.65" cy="179.68" r="3.00" fill="#cb4679"/>
<circle cx="618.56" cy="184.06" r="3.00" fill="#ea7556"/>
<circle cx="596.39" cy="203.48" r="3.00" fill="#eb7755"/>
<circle cx="610.55" cy="196.02" r="3.00" fill="#fcb330"/>
<circle cx="616.22" cy="205.98" r="3.00" fill="#da5a69"/>
<circle cx="591.61" cy="167.34" r="3.00" fill="#8409a5"/>
<circle cx="596.94" cy="188.88" r="3.00" fill="#e7705a"/>
<circle cx="628.46" cy="188.64" r="3.00" fill="#f1814d"/>
<circle cx="606.24" cy="199.86" r="3.00" fill="#f8973f"/>
<circle cx="601.66" cy="197.81" r="3.00" fill="#ec7a53"/>
<circle cx="618.24" cy="207.60" r="3.00" fill="#d8586b"/>
<circle cx="613.72" cy="207.48" r="3.00" fill="#eb7655"/>
<circle cx="608.48" cy="196.81" r="3.00" fill="#fca536"/>
<circle cx="605.94" cy="200.94" r="3.00" fill="#f58d45"/>
<circle cx="611.58" cy="195.28" r="3.00" fill="#fcb231"/>
<circle cx="611.72" cy="185.29" r="3.00" fill="#f07f4e"/>
<circle cx="610.73" cy="201.93" r="3.00" fill="#eb7754"/>
<circle cx="587.14" cy="201.24" r="3.00" fill="#cd4977"/>
<circle cx="596.19" cy="192.12" r="3.00" fill="#fca536"/>
<circle cx="599.09" cy="194.06" r="3.00" fill="#ea7556"/>
<circle cx="600.61" cy="180.53" r="3.00" fill="#cd4977"/>
<circle cx="606.85" cy="187.00" r="3.00" fill="#e4695f"/>
<circle cx="609.85" cy="175.58" r="3.00" fill="#d4536f"/>
<circle cx="596.57" cy="200.05" r="3.00" fill="#e16462"/>
<circle cx="589.66" cy="198.73" r="3.00" fill="#d24f72"/>
<circle cx="606.08" cy="201.17" r="3.00" fill="#eb7755"/>
<circle cx="596.64" cy="206.75" r="3.00" fill="#d6556e"/>
<circle cx="585.84" cy="168.69" r="3.00" fill="#9a179d"/>
<circle cx="584.16" cy="200.15" r="3.00" fill="#c8437c"/>
<circle cx="602.36" cy="191.05" r="3.00" fill="#fba338"/>
<circle cx="610.68" cy="192.28" r="3.00" fill="#f0804e"/>
<circle cx="610.95" cy="182.34" r="3.00" fill="#d5546e"/>
<circle cx="595.24" cy="184.12" r="3.00" fill="#cc4878"/>
<circle cx="603.96" cy="192.58" r="3.00" fill="#f2834c"/>
<circle cx="606.06" cy="199.97" r="3.00" fill="#f8983e"/>
<circle cx="592.35" cy="180.85" r="3.00" fill="#d04c74"/>
<circle cx="596.74" cy="166.09" r="3.00" fill="#b7308b"/>
<circle cx="635.79" cy="189.48" r="3.00" fill="#f58d45"/>
<circle cx="590.65" cy="190.07" r="3.00" fill="#ba3388"/>
<circle cx="595.27" cy="191.44" r="3.00" fill="#e36760"/>
<circle cx="618.59" cy="211.01" r="3.00" fill="#e3685f"/>
<circle cx="622.12" cy="195.99" r="3.00" fill="#de6065"/>
<circle cx="587.36" cy="203.00" r="3.00" fill="#cc4778"/>
<circle cx="579.62" cy="197.57" r="3.00" fill="#f99a3d"/>
<circle cx="592.95" cy="183.49" r="3.00" fill="#bf3984"/>
<circle cx="593.67" cy="183.25" r="3.00" fill="#bb3587"/>
<circle cx="599.11" cy="201.97" r="3.00" fill="#ef7e4f"/>
<circle cx="602.93" cy="194.78" r="3.00" fill="#fcca27"/>
<circle cx="598.76" cy="184.29" r="3.00" fill="#d4536f"/>
<circle cx="616.20" cy="203.22" r="3.00" fill="#e4695e"/>
<circle cx="609.84" cy="195.35" r="3.00" fill="#f69043"/>
<circle cx="587.76" cy="170.07" r="3.00" fill="#9412a1"/>
<circle cx="622.21" cy="193.77" r="3.00" fill="#e16561"/>
<circle cx="592.62" cy="168.25" r="3.00" fill="#6c01a8"/>
<circle cx="598.47" cy="198.89" r="3.00" fill="#e26760"/>
<circle cx="592.60" cy="191.44" r="3.00" fill="#d35071"/>
<circle cx="604.80" cy="205.02" r="3.00" fill="#e3685f"/>
<circle cx="610.63" cy="201.82" r="3.00" fill="#ef7f4f"/>
<circle cx="601.61" cy="193.11" r="3.00" fill="#fca636"/>
<circle cx="628.50" cy="190.16" r="3.00" fill="#f1834c"/>
<circle cx="597.70" cy="191.96" r="3.00" fill="#df6264"/>
<circle cx="610.56" cy="188.11" r="3.00" fill="#ee7d50"/>
<circle cx="633.21" cy="191.32" r="3.00" fill="#ec7953"/>
<circle cx="591.32" cy="182.12" r="3.00" fill="#b7308b"/>
<circle cx="616.45" cy="185.53" r="3.00" fill="#db5c68"/>
<circle cx="588.73" cy="201.94" r="3.00" fill="#cd4976"/>
<circle cx="614.16" cy="181.69" r="3.00" fill="#dc5d67"/>
<circle cx="617.32" cy="194.90" r="3.00" fill="#f89a3e"/>
<circle cx="609.94" cy="203.02" r="3.00" fill="#e66d5b"/>
<circle cx="611.79" cy="190.72" r="3.00" fill="#ea7556"/>
<circle cx="609.91" cy="186.92" r="3.00" fill="#e97357"/>
<circle cx="580.65" cy="198.00" r="3.00" fill="#ef7f4f"/>
<circle cx="613.17" cy="210.67" r="3.00" fill="#dc5d68"/>
<circle cx="582.52" cy="194.81" r="3.00" fill="#c13c81"/>
<circle cx="605.28" cy="205.53" r="3.00" fill="#f7973f"/>
<circle cx="619.70" cy="195.07" r="3.00" fill="#f58f44"/>
<circle cx="596.03" cy="197.89" r="3.00" fill="#eb7655"/>
<circle cx="621.77" cy="192.05" r="3.00" fill="#e4695e"/>
<circle cx="604.78" cy="191.04" r="3.00" fill="#ee7c51"/>
<circle cx="598.06" cy="182.72" r="3.00" fill="#d7576c"/>
<circle cx="587.47" cy="186.62" r="3.00" fill="#d4536f"/>
<circle cx="586.40" cy="171.23" r="3.00" fill="#8309a5"/>
<circle cx="578.98" cy="197.52" r="3.00" fill="#f38848"/>
<circle cx="614.88" cy="178.51" r="3.00" fill="#c13b82"/>
<circle cx="597.85" cy="188.49" r="3.00" fill="#eb7854"/>
<circle cx="617.35" cy="208.31" r="3.00" fill="#da5a6a"/>
<circle cx="592.93" cy="204.33" r="3.00" fill="#e66e5b"/>
<circle cx="636.11" cy="188.97" r="3.00" fill="#f0804e"/>
<circle cx="587.40" cy="192.16" r="3.00" fill="#cd4877"/>
<circle cx="588.03" cy="198.74" r="3.00" fill="#d35071"/>
<circle cx="592.33" cy="176.50" r="3.00" fill="#c23c81"/>
<circle cx="624.69" cy="195.03" r="3.00" fill="#d8576c"/>
<circle cx="593.25" cy="169.58" r="3.00" fill="#7203a7"/>
<circle cx="591.80" cy="189.14" r="3.00" fill="#ba3388"/>
<circle cx="598.41" cy="185.38" r="3.00" fill="#e76f5a"/>
<circle cx="595.38" cy="192.60" r="3.00" fill="#ee7d50"/>
<circle cx="594.91" cy="193.91" r="3.00" fill="#f0804e"/>
<circle cx="593.51" cy="181.23" r="3.00" fill="#d7576c"/>
<circle cx="572.88" cy="197.34" r="3.00" fill="#7002a7"/>
<circle cx="595.37" cy="193.86" r="3.00" fill="#e97357"/>
<circle cx="589.53" cy="189.00" r="3.00" fill="#d45270"/>
<circle cx="586.29" cy="187.25" r="3.00" fill="#d7566d"/>
<circle cx="634.15" cy="190.27" r="3.00" fill="#f48b47"/>
<circle cx="596.30" cy="180.31" r="3.00" fill="#dc5d67"/>
<circle cx="606.10" cy="201.99" r="3.00" fill="#f48c46"/>
<circle cx="593.16" cy="203.75" r="3.00" fill="#e56b5d"/>
<circle cx="610.58" cy="199.28" r="3.00" fill="#f0814d"/>
<circle cx="617.41" cy="187.38" r="3.00" fill="#ef7e4f"/>
<circle cx="603.77" cy="194.12" r="3.00" fill="#f38948"/>
<circle cx="611.19" cy="201.81" r="3.00" fill="#f99b3d"/>
<circle cx="596.47" cy="187.18" r="3.00" fill="#eb7755"/>
<circle cx="610.99" cy="185.65" r="3.00" fill="#f0814d"/>
<circle cx="604.03" cy="185.11" r="3.00" fill="#dc5d67"/>
<circle cx="601.83" cy="202.88" r="3.00" fill="#e56b5d"/>
<circle cx="609.55" cy="183.53" r="3.00" fill="#db5c68"/>
<circle cx="615.44" cy="202.66" r="3.00" fill="#f58d45"/>
<circle cx="589.21" cy="186.63" r="3.00" fill="#c23c81"/>
<circle cx="602.25" cy="195.06" r="3.00" fill="#f2834b"/>
<circle cx="610.38" cy="188.06" r="3.00" fill="#f48a47"/>
<circle cx="620.45" cy="191.78" r="3.00" fill="#e06363"/>
<circle cx="587.35" cy="171.92" r="3.00" fill="#6f02a7"/>
<circle cx="605.86" cy="178.68" r="3.00" fill="#c8427c"/>
<circle cx="615.65" cy="203.15" r="3.00" fill="#e76f5a"/>
<circle cx="604.04" cy="194.28" r="3.00" fill="#fca636"/>
<circle cx="598.68" cy="188.84" r="3.00" fill="#ef7e50"/>
<circle cx="585.78" cy="171.02" r="3.00" fill="#8209a5"/>
<circle cx="587.93" cy="175.01" r="3.00" fill="#b42d8d"/>
<circle cx="599.06" cy="185.42" r="3.00" fill="#e97357"/>
<circle cx="593.89" cy="168.04" r="3.00" fill="#c7427c"/>
<circle cx="611.19" cy="189.21" r="3.00" fill="#f48b47"/>
<circle cx="606.70" cy="189.66" r="3.00" fill="#f0804e"/>
<circle cx="605.48" cy="189.85" r="3.00" fill="#fca736"/>
<circle cx="591.29" cy="199.54" r="3.00" fill="#d9596a"/>
<circle cx="599.71" cy="197.05" r="3.00" fill="#e97457"/>
<circle cx="600.90" cy="182.11" r="3.00" fill="#cf4b75"/>
<circle cx="608.21" cy="200.51" r="3.00" fill="#fba338"/>
<circle cx="603.42" cy="205.92" r="3.00" fill="#e06363"/>
<circle cx="603.58" cy="200.88" r="3.00" fill="#f69242"/>
<circle cx="596.53" cy="189.22" r="3.00" fill="#ef7e4f"/>
<circle cx="593.16" cy="167.43" r="3.00" fill="#910fa3"/>
<circle cx="612.14" cy="209.08" r="3.00" fill="#de6065"/>
<circle cx="576.25" cy="195.81" r="3.00" fill="#ee7c51"/>
<circle cx="617.94" cy="195.63" r="3.00" fill="#e87159"/>
<circle cx="610.38" cy="198.32" r="3.00" fill="#f1824c"/>
<circle cx="617.09" cy="201.89" r="3.00" fill="#f38948"/>
<circle cx="597.45" cy="183.67" r="3.00" fill="#e26660"/>
<circle cx="597.72" cy="201.52" r="3.00" fill="#ea7556"/>
<circle cx="617.65" cy="188.41" r="3.00" fill="#e66d5b"/>
<circle cx="621.60" cy="192.77" r="3.00" fill="#e26760"/>
<circle cx="600.68" cy="203.72" r="3.00" fill="#e26760"/>
<circle cx="590.17" cy="167.06" r="3.00" fill="#7704a7"/>
<circle cx="592.52" cy="192.16" r="3.00" fill="#eb7754"/>
<circle cx="601.40" cy="192.93" r="3.00" fill="#f79540"/>
<circle cx="598.80" cy="192.61" r="3.00" fill="#ef7f4f"/>
<circle cx="598.28" cy="180.69" r="3.00" fill="#d9586b"/>
<circle cx="596.50" cy="167.65" r="3.00" fill="#af2891"/>
<circle cx="617.94" cy="187.21" r="3.00" fill="#e4695e"/>
<circle cx="587.19" cy="203.48" r="3.00" fill="#cb4679"/>
<circle cx="602.35" cy="182.15" r="3.00" fill="#d35170"/>
<circle cx="601.98" cy="205.89" r="3.00" fill="#e56c5c"/>
<circle cx="610.07" cy="174.35" r="3.00" fill="#c7417d"/>
<circle cx="604.69" cy="193.80" r="3.00" fill="#f1834c"/>
<circle cx="589.55" cy="201.82" r="3.00" fill="#d7566d"/>
<circle cx="587.71" cy="187.76" r="3.00" fill="#be3884"/>
<circle cx="611.73" cy="183.19" r="3.00" fill="#dd5e67"/>
<circle cx="580.31" cy="198.03" r="3.00" fill="#f8973f"/>
<circle cx="620.48" cy="196.69" r="3.00" fill="#ea7456"/>
<circle cx="612.20" cy="181.26" r="3.00" fill="#d14e73"/>
<circle cx="621.46" cy="197.09" r="3.00" fill="#e3685f"/>
<circle cx="611.97" cy="188.66" r="3.00" fill="#f69143"/>
<circle cx="619.49" cy="195.46" r="3.00" fill="#f48b46"/>
<circle cx="602.61" cy="206.36" r="3.00" fill="#f99a3d"/>
<circle cx="592.05" cy="167.80" r="3.00" fill="#7404a7"/>
<circle cx="627.83" cy="188.09" r="3.00" fill="#ec7953"/>
<circle cx="621.52" cy="190.44" r="3.00" fill="#e66e5b"/>
<circle cx="596.71" cy="192.93" r="3.00" fill="#eb7755"/>
<circle cx="617.37" cy="194.58" r="3.00" fill="#f99d3c"/>
<circle cx="632.57" cy="189.73" r="3.00" fill="#f58f44"/>
<circle cx="603.16" cy="177.81" r="3.00" fill="#d04d74"/>
<circle cx="600.77" cy="180.02" r="3.00" fill="#d5546e"/>
<circle cx="633.93" cy="188.05" r="3.00" fill="#ee7c50"/>
<circle cx="622.83" cy="194.40" r="3.00" fill="#e97258"/>
<circle cx="636.65" cy="190.02" r="3.00" fill="#f1824d"/>
<circle cx="599.08" cy="194.04" r="3.00" fill="#f69044"/>
<circle cx="589.59" cy="199.08" r="3.00" fill="#df6264"/>
<circle cx="601.55" cy="205.34" r="3.00" fill="#e66e5b"/>
<circle cx="591.06" cy="184.05" r="3.00" fill="#c8437c"/>
<circle cx="610.48" cy="194.06" r="3.00" fill="#fca736"/>
<circle cx="612.98" cy="194.05" r="3.00" fill="#fba437"/>
<circle cx="592.07" cy="198.69" r="3.00" fill="#d35071"/>
<circle cx="585.35" cy="195.26" r="3.00" fill="#d6556d"/>
<circle cx="591.98" cy="196.50" r="3.00" fill="#eb7655"/>
<circle cx="598.39" cy="180.78" r="3.00" fill="#cf4b75"/>
<circle cx="611.19" cy="188.01" r="3.00" fill="#f58d46"/>
<circle cx="598.33" cy="182.28" r="3.00" fill="#e46a5e"/>
<circle cx="630.85" cy="189.73" r="3.00" fill="#ed7a52"/>
<circle cx="610.41" cy="199.94" r="3.00" fill="#fba139"/>
<circle cx="571.79" cy="197.16" r="3.00" fill="#6201a6"/>
<circle cx="597.45" cy="199.65" r="3.00" fill="#eb7754"/>
<circle cx="577.20" cy="194.58" r="3.00" fill="#f38848"/>
<circle cx="594.22" cy="183.36" r="3.00" fill="#c43e7f"/>
<circle cx="590.59" cy="169.72" r="3.00" fill="#910fa3"/>
<circle cx="587.11" cy="186.40" r="3.00" fill="#d35071"/>
<circle cx="587.21" cy="175.03" r="3.00" fill="#c43e7f"/>
<circle cx="592.27" cy="191.09" r="3.00" fill="#e56c5c"/>
<circle cx="601.51" cy="200.33" r="3.00" fill="#f48c46"/>
<circle cx="631.13" cy="191.13" r="3.00" fill="#f48b47"/>
<circle cx="601.83" cy="183.85" r="3.00" fill="#e26561"/>
<circle cx="603.64" cy="183.86" r="3.00" fill="#ea7556"/>
<circle cx="617.16" cy="200.42" r="3.00" fill="#f69242"/>
<circle cx="588.99" cy="192.28" r="3.00" fill="#cc4678"/>
<circle cx="587.37" cy="174.92" r="3.00" fill="#b93389"/>
<circle cx="603.09" cy="194.87" r="3.00" fill="#fca537"/>
<circle cx="622.89" cy="201.68" r="3.00" fill="#d6556d"/>
<circle cx="576.80" cy="195.30" r="3.00" fill="#f1824c"/>
<circle cx="606.91" cy="200.60" r="3.00" fill="#f2844b"/>
<circle cx="605.49" cy="189.36" r="3.00" fill="#f0804e"/>
<circle cx="612.09" cy="184.36" r="3.00" fill="#e3685f"/>
<circle cx="592.03" cy="167.33" r="3.00" fill="#7905a6"/>
<circle cx="595.76" cy="197.17" r="3.00" fill="#e26760"/>
<circle cx="610.29" cy="176.48" r="3.00" fill="#bf3984"/>
<circle cx="615.33" cy="190.49" r="3.00" fill="#f48a47"/>
<circle cx="620.89" cy="198.02" r="3.00" fill="#e46a5e"/>
<circle cx="621.17" cy="188.08" r="3.00" fill="#e26760"/>
<circle cx="594.32" cy="182.37" r="3.00" fill="#ce4a76"/>
<circle cx="601.63" cy="183.82" r="3.00" fill="#e66e5b"/>
<circle cx="598.68" cy="183.73" r="3.00" fill="#e56c5c"/>
<circle cx="610.61" cy="203.55" r="3.00" fill="#fcab34"/>
<circle cx="608.18" cy="202.90" r="3.00" fill="#e7705a"/>
<circle cx="603.11" cy="191.07" r="3.00" fill="#f69044"/>
<circle cx="617.75" cy="202.29" r="3.00" fill="#e87059"/>
<circle cx="609.97" cy="189.92" r="3.00" fill="#f99b3d"/>
<circle cx="620.54" cy="194.95" r="3.00" fill="#e66d5b"/>
<circle cx="609.28" cy="200.95" r="3.00" fill="#f48a47"/>
<circle cx="618.60" cy="209.25" r="3.00" fill="#e16561"/>
<circle cx="612.33" cy="188.19" r="3.00" fill="#ea7556"/>
<circle cx="572.99" cy="196.62" r="3.00" fill="#890ba5"/>
<circle cx="589.19" cy="204.76" r="3.00" fill="#d35071"/>
<circle cx="611.61" cy="196.54" r="3.00" fill="#fca536"/>
<circle cx="604.37" cy="184.88" r="3.00" fill="#d9586b"/>
<circle cx="604.37" cy="185.43" r="3.00" fill="#ed7a52"/>
<circle cx="594.80" cy="194.64" r="3.00" fill="#ec7953"/>
<circle cx="610.54" cy="187.58" r="3.00" fill="#e3685f"/>
<circle cx="627.66" cy="189.17" r="3.00" fill="#f58e45"/>
<circle cx="596.30" cy="194.61" r="3.00" fill="#f48a48"/>
<circle cx="628.07" cy="187.81" r="3.00" fill="#ee7d50"/>
<circle cx="595.89" cy="206.01" r="3.00" fill="#e87159"/>
<circle cx="608.01" cy="191.50" r="3.00" fill="#f69342"/>
<circle cx="591.31" cy="201.21" r="3.00" fill="#d24f72"/>
<circle cx="585.56" cy="168.72" r="3.00" fill="#9c189d"/>
<circle cx="590.27" cy="194.39" r="3.00" fill="#d45270"/>
<circle cx="634.02" cy="192.36" r="3.00" fill="#f48c46"/>
<circle cx="601.79" cy="190.41" r="3.00" fill="#f1824d"/>
<circle cx="620.26" cy="200.87" r="3.00" fill="#de5f66"/>
<circle cx="611.74" cy="189.59" r="3.00" fill="#f0804e"/>
<circle cx="610.82" cy="186.16" r="3.00" fill="#e06263"/>
<circle cx="617.01" cy="199.45" r="3.00" fill="#f2854b"/>
<circle cx="611.32" cy="198.92" r="3.00" fill="#ee7d50"/>
<circle cx="585.28" cy="204.10" r="3.00" fill="#c9447a"/>
<circle cx="603.24" cy="182.93" r="3.00" fill="#e16362"/>
<circle cx="587.47" cy="204.29" r="3.00" fill="#e36760"/>
<circle cx="595.92" cy="192.19" r="3.00" fill="#dd5f66"/>
<circle cx="621.62" cy="203.22" r="3.00" fill="#f48a47"/>
<circle cx="587.67" cy="175.34" r="3.00" fill="#c13b82"/>
<circle cx="606.15" cy="189.93" r="3.00" fill="#f89a3d"/>
<circle cx="623.70" cy="192.74" r="3.00" fill="#e4695e"/>
<circle cx="610.03" cy="191.71" r="3.00" fill="#f8973f"/>
<circle cx="607.62" cy="180.72" r="3.00" fill="#e76f5a"/>
<circle cx="590.28" cy="171.12" r="3.00" fill="#7102a7"/>
<circle cx="607.36" cy="203.51" r="3.00" fill="#e36760"/>
<circle cx="633.70" cy="189.30" r="3.00" fill="#f48b47"/>
<circle cx="610.88" cy="205.28" r="3.00" fill="#f3864a"/>
<circle cx="613.49" cy="192.85" r="3.00" fill="#ed7a52"/>
<circle cx="587.10" cy="174.46" r="3.00" fill="#bc3686"/>
<circle cx="590.88" cy="186.92" r="3.00" fill="#d04d74"/>
<circle cx="610.18" cy="187.71" r="3.00" fill="#f48948"/>
<circle cx="589.30" cy="167.88" r="3.00" fill="#8309a5"/>
<circle cx="612.22" cy="197.42" r="3.00" fill="#f69143"/>
<circle cx="613.15" cy="194.86" r="3.00" fill="#f8983f"/>
<circle cx="591.34" cy="204.09" r="3.00" fill="#dd5e67"/>
<circle cx="632.96" cy="186.92" r="3.00" fill="#ee7c50"/>
<circle cx="610.54" cy="200.24" r="3.00" fill="#ee7c51"/>
<circle cx="604.25" cy="203.15" r="3.00" fill="#e66d5c"/>
<circle cx="592.28" cy="169.94" r="3.00" fill="#7f08a6"/>
<circle cx="601.59" cy="194.64" r="3.00" fill="#f8973f"/>
<circle cx="612.73" cy="189.25" r="3.00" fill="#e56c5c"/>
<circle cx="613.03" cy="210.52" r="3.00" fill="#e06263"/>
<circle cx="605.83" cy="190.75" r="3.00" fill="#f89a3d"/>
<circle cx="602.19" cy="195.20" r="3.00" fill="#f7973f"/>
<circle cx="623.79" cy="195.91" r="3.00" fill="#e36760"/>
<circle cx="602.83" cy="192.95" r="3.00" fill="#ef7f4f"/>
<circle cx="593.69" cy="180.83" r="3.00" fill="#c43e7f"/>
<circle cx="611.81" cy="181.43" r="3.00" fill="#e7705a"/>
<circle cx="588.64" cy="169.51" r="3.00" fill="#99159e"/>
<circle cx="617.00" cy="211.41" r="3.00" fill="#d45270"/>
<circle cx="585.00" cy="194.84" r="3.00" fill="#de6065"/>
<circle cx="595.49" cy="190.87" r="3.00" fill="#ed7a52"/>
<circle cx="589.90" cy="186.27" r="3.00" fill="#cd4877"/>
<circle cx="606.19" cy="183.06" r="3.00" fill="#e87258"/>
<circle cx="603.31" cy="200.79" r="3.00" fill="#f2844b"/>
<circle cx="612.06" cy="201.25" r="3.00" fill="#eb7854"/>
<circle cx="597.37" cy="189.77" r="3.00" fill="#e77059"/>
<circle cx="591.34" cy="197.31" r="3.00" fill="#d25071"/>
<circle cx="606.73" cy="201.01" r="3.00" fill="#eb7854"/>
<circle cx="595.68" cy="180.99" r="3.00" fill="#c13b82"/>
<circle cx="606.64" cy="188.30" r="3.00" fill="#f48b47"/>
<circle cx="608.64" cy="195.37" r="3.00" fill="#f6e223"/>
<circle cx="597.92" cy="190.86" r="3.00" fill="#f79640"/>
<circle cx="603.64" cy="179.47" r="3.00" fill="#dd5f66"/>
<circle cx="600.28" cy="184.12" r="3.00" fill="#d35171"/>
<circle cx="590.88" cy="200.32" r="3.00" fill="#d14e73"/>
<circle cx="611.35" cy="176.75" r="3.00" fill="#e97357"/>
<circle cx="607.01" cy="186.18" r="3.00" fill="#ef7f4f"/>
<circle cx="589.05" cy="201.11" r="3.00" fill="#da5b69"/>
<circle cx="617.37" cy="186.83" r="3.00" fill="#e87258"/>
<circle cx="598.04" cy="204.47" r="3.00" fill="#eb7655"/>
<circle cx="604.17" cy="203.78" r="3.00" fill="#fba139"/>
<circle cx="578.36" cy="197.18" r="3.00" fill="#f69143"/>
<circle cx="586.96" cy="175.26" r="3.00" fill="#bf3984"/>
<circle cx="614.16" cy="205.71" r="3.00" fill="#dd5e66"/>
<circle cx="606.57" cy="181.70" r="3.00" fill="#d24f72"/>
<circle cx="605.18" cy="203.27" r="3.00" fill="#f99d3c"/>
<circle cx="601.07" cy="194.22" r="3.00" fill="#fca636"/>
<circle cx="587.07" cy="188.57" r="3.00" fill="#bc3686"/>
<circle cx="595.73" cy="189.86" r="3.00" fill="#dd5e67"/>
<circle cx="623.19" cy="195.10" r="3.00" fill="#ed7a52"/>
<circle cx="597.73" cy="179.03" r="3.00" fill="#d5536f"/>
<circle cx="618.63" cy="194.38" r="3.00" fill="#ed7b52"/>
<circle cx="613.87" cy="180.88" r="3.00" fill="#d5546e"/>
<circle cx="583.21" cy="169.55" r="3.00" fill="#9c189c"/>
<circle cx="605.19" cy="200.57" r="3.00" fill="#f99b3d"/>
<circle cx="575.33" cy="195.45" r="3.00" fill="#ea7655"/>
<circle cx="620.84" cy="210.95" r="3.00" fill="#ec7953"/>
<circle cx="593.49" cy="168.49" r="3.00" fill="#7805a7"/>
<circle cx="601.79" cy="183.95" r="3.00" fill="#e87159"/>
<circle cx="612.60" cy="185.65" r="3.00" fill="#e87258"/>
<circle cx="593.47" cy="182.22" r="3.00" fill="#bc3686"/>
<circle cx="578.40" cy="199.16" r="3.00" fill="#f48a47"/>
<circle cx="593.38" cy="168.51" r="3.00" fill="#8a0ba5"/>
<circle cx="600.42" cy="180.30" r="3.00" fill="#ee7c51"/>
<circle cx="622.61" cy="193.99" r="3.00" fill="#f38749"/>
<circle cx="615.19" cy="177.40" r="3.00" fill="#d5546e"/>
<circle cx="611.15" cy="189.56" r="3.00" fill="#f69044"/>
<circle cx="611.69" cy="206.09" r="3.00" fill="#ec7854"/>
<circle cx="573.44" cy="196.55" r="3.00" fill="#9f1a9b"/>
<circle cx="608.45" cy="185.58" r="3.00" fill="#ea7456"/>
<circle cx="631.32" cy="190.53" r="3.00" fill="#ed7b52"/>
<circle cx="592.19" cy="186.47" r="3.00" fill="#c5407e"/>
<circle cx="616.08" cy="204.97" r="3.00" fill="#da5a69"/>
<circle cx="594.94" cy="194.55" r="3.00" fill="#f2834c"/>
<circle cx="592.38" cy="175.76" r="3.00" fill="#bc3587"/>
<circle cx="575.28" cy="195.49" r="3.00" fill="#f48a48"/>
<circle cx="587.11" cy="187.99" r="3.00" fill="#ca457a"/>
<circle cx="608.18" cy="188.41" r="3.00" fill="#f79640"/>
<circle cx="589.08" cy="200.84" r="3.00" fill="#d7566c"/>
<circle cx="598.86" cy="186.42" r="3.00" fill="#ee7c51"/>
<circle cx="608.17" cy="205.61" r="3.00" fill="#e06363"/>
<circle cx="591.75" cy="200.39" r="3.00" fill="#ea7456"/>
<circle cx="634.68" cy="190.82" r="3.00" fill="#f2854b"/>
<circle cx="634.25" cy="189.08" r="3.00" fill="#f1824c"/>
<circle cx="594.40" cy="185.86" r="3.00" fill="#c13b82"/>
<circle cx="611.26" cy="204.02" r="3.00" fill="#eb7754"/>
<circle cx="613.80" cy="201.90" r="3.00" fill="#eb7754"/>
<circle cx="608.38" cy="186.23" r="3.00" fill="#e87159"/>
<circle cx="602.56" cy="194.38" r="3.00" fill="#f48b46"/>
<circle cx="616.60" cy="198.41" r="3.00" fill="#f38749"/>
<circle cx="610.54" cy="188.39" r="3.00" fill="#f79640"/>
<circle cx="619.33" cy="193.96" r="3.00" fill="#e3685f"/>
<circle cx="620.47" cy="186.15" r="3.00" fill="#e76f5a"/>
<circle cx="604.59" cy="190.06" r="3.00" fill="#e87059"/>
<circle cx="599.55" cy="182.53" r="3.00" fill="#dc5d67"/>
<circle cx="603.23" cy="207.66" r="3.00" fill="#e87059"/>
<circle cx="592.00" cy="180.79" r="3.00" fill="#d6546e"/>
<circle cx="635.27" cy="189.31" r="3.00" fill="#ec7953"/>
<circle cx="580.09" cy="200.22" r="3.00" fill="#b52f8c"/>
<circle cx="593.09" cy="175.80" r="3.00" fill="#c7417d"/>
<circle cx="613.03" cy="197.34" r="3.00" fill="#f69243"/>
<circle cx="592.42" cy="198.30" r="3.00" fill="#d5536f"/>
<circle cx="596.85" cy="184.85" r="3.00" fill="#d04d74"/>
<circle cx="608.98" cy="174.61" r="3.00" fill="#b62f8b"/>
<circle cx="610.11" cy="185.56" r="3.00" fill="#e36760"/>
<circle cx="620.15" cy="192.01" r="3.00" fill="#e87159"/>
<circle cx="602.42" cy="192.72" r="3.00" fill="#f8983f"/>
<circle cx="594.53" cy="195.30" r="3.00" fill="#f69143"/>
<circle cx="632.52" cy="186.69" r="3.00" fill="#f38749"/>
<circle cx="589.00" cy="194.35" r="3.00" fill="#d35171"/>
<circle cx="611.65" cy="198.46" r="3.00" fill="#f99c3c"/>
<circle cx="616.03" cy="182.95" r="3.00" fill="#ea7556"/>
<circle cx="612.73" cy="201.05" r="3.00" fill="#f69242"/>
<circle cx="579.68" cy="198.88" r="3.00" fill="#f58e45"/>
<circle cx="595.27" cy="200.29" r="3.00" fill="#f07f4e"/>
<circle cx="592.40" cy="166.46" r="3.00" fill="#900da4"/>
<circle cx="583.96" cy="186.47" r="3.00" fill="#ba3488"/>
<circle cx="612.67" cy="184.71" r="3.00" fill="#ee7d50"/>
<circle cx="593.04" cy="186.93" r="3.00" fill="#bb3587"/>
<circle cx="594.93" cy="202.54" r="3.00" fill="#e87258"/>
<circle cx="592.44" cy="200.60" r="3.00" fill="#dd5e66"/>
<circle cx="609.41" cy="197.03" r="3.00" fill="#fcb330"/>
<circle cx="607.68" cy="200.79" r="3.00" fill="#fcaf32"/>
<circle cx="613.01" cy="196.40" r="3.00" fill="#f48a47"/>
<circle cx="611.12" cy="191.11" r="3.00" fill="#eb7754"/>
<circle cx="622.05" cy="194.38" r="3.00" fill="#ea7655"/>
<circle cx="611.14" cy="197.12" r="3.00" fill="#f69143"/>
<circle cx="580.33" cy="201.44" r="3.00" fill="#cc4778"/>
<circle cx="596.25" cy="190.99" r="3.00" fill="#f2844b"/>
<circle cx="621.86" cy="202.38" r="3.00" fill="#ec7953"/>
<circle cx="590.51" cy="180.11" r="3.00" fill="#ca447a"/>
<circle cx="603.02" cy="209.01" r="3.00" fill="#e77059"/>
<circle cx="603.69" cy="179.09" r="3.00" fill="#d9596a"/>
<circle cx="618.76" cy="193.68" r="3.00" fill="#f69243"/>
<circle cx="600.03" cy="182.19" r="3.00" fill="#dc5e67"/>
<circle cx="608.11" cy="180.69" r="3.00" fill="#d25071"/>
<circle cx="610.58" cy="201.51" r="3.00" fill="#ea7556"/>
<circle cx="595.14" cy="206.14" r="3.00" fill="#d9596a"/>
<circle cx="597.86" cy="205.61" r="3.00" fill="#dc5d67"/>
<circle cx="627.38" cy="190.60" r="3.00" fill="#f3864a"/>
<circle cx="595.73" cy="186.54" r="3.00" fill="#dc5d67"/>
<circle cx="596.77" cy="203.22" r="3.00" fill="#e97357"/>
<circle cx="610.40" cy="201.18" r="3.00" fill="#f38749"/>
<circle cx="594.22" cy="185.09" r="3.00" fill="#d8586b"/>
<circle cx="596.92" cy="192.67" r="3.00" fill="#ed7a52"/>
<circle cx="634.19" cy="190.54" r="3.00" fill="#f38749"/>
<circle cx="600.48" cy="197.39" r="3.00" fill="#f8983e"/>
<circle cx="574.13" cy="200.38" r="3.00" fill="#c53f7f"/>
<circle cx="603.46" cy="188.84" r="3.00" fill="#e87158"/>
<circle cx="589.66" cy="169.42" r="3.00" fill="#7e07a6"/>
<circle cx="590.43" cy="198.19" r="3.00" fill="#e16462"/>
<circle cx="582.16" cy="193.15" r="3.00" fill="#ba3388"/>
<circle cx="620.16" cy="202.21" r="3.00" fill="#ec7953"/>
<circle cx="598.01" cy="188.82" r="3.00" fill="#db5b69"/>
<circle cx="575.17" cy="196.78" r="3.00" fill="#e16462"/>
<circle cx="593.56" cy="194.65" r="3.00" fill="#e97357"/>
<circle cx="600.56" cy="193.82" r="3.00" fill="#ef7f4f"/>
<circle cx="606.99" cy="204.21" r="3.00" fill="#ea7456"/>
<circle cx="588.89" cy="176.26" r="3.00" fill="#be3785"/>
<circle cx="610.27" cy="200.21" r="3.00" fill="#f1814d"/>
<circle cx="593.96" cy="188.98" r="3.00" fill="#c23d81"/>
<circle cx="611.48" cy="183.08" r="3.00" fill="#e87159"/>
<circle cx="613.40" cy="205.27" r="3.00" fill="#f0804e"/>
<circle cx="589.37" cy="170.82" r="3.00" fill="#8e0da4"/>
<circle cx="587.35" cy="169.01" r="3.00" fill="#8108a6"/>
<circle cx="593.52" cy="186.04" r="3.00" fill="#c6417d"/>
<circle cx="603.59" cy="205.31" r="3.00" fill="#e46a5e"/>
<circle cx="604.01" cy="205.32" r="3.00" fill="#e4695e"/>
<circle cx="606.15" cy="198.67" r="3.00" fill="#fba238"/>
<circle cx="600.71" cy="142.44" r="3.00" fill="#ed7b52"/>
<circle cx="605.61" cy="141.82" r="3.00" fill="#f99b3d"/>
<circle cx="608.13" cy="143.55" r="3.00" fill="#f58d45"/>
<circle cx="599.96" cy="146.30" r="3.00" fill="#f2844b"/>
<circle cx="606.29" cy="146.77" r="3.00" fill="#f59044"/>
<circle cx="601.80" cy="148.42" r="3.00" fill="#f58d46"/>
<circle cx="607.93" cy="140.56" r="3.00" fill="#eb7655"/>
<circle cx="605.14" cy="149.83" r="3.00" fill="#d6566d"/>
<circle cx="606.57" cy="151.72" r="3.00" fill="#8f0da4"/>
<circle cx="603.50" cy="140.17" r="3.00" fill="#ec7953"/>
<circle cx="598.94" cy="143.86" r="3.00" fill="#f79640"/>
<circle cx="603.16" cy="144.72" r="3.00" fill="#f0f921"/>
<line x1="502.50" y1="172.90" x2="513.20" y2="169.60" stroke="#000" stroke-width="1.1"/>
<line x1="550.00" y1="197.60" x2="560.20" y2="196.30" stroke="#000" stroke-width="1.1"/>
<line x1="600.50" y1="156.30" x2="602.80" y2="146.20" stroke="#000" stroke-width="1.1"/>
<rect x="513.20" y="162.50" width="13.20" height="14.20" fill="#fff" stroke="#000" stroke-width="0.85" rx="2.2" ry="2.2"/>
<text x="519.80" y="171.90" font-size="7.1" text-anchor="middle" fill="#111" stroke="#111" stroke-width="0.22">x</text>
<rect x="536.60" y="190.00" width="13.40" height="14.40" fill="#fff" stroke="#000" stroke-width="0.85" rx="2.2" ry="2.2"/>
<text x="543.30" y="199.50" font-size="7.1" text-anchor="middle" fill="#111" stroke="#111" stroke-width="0.22">y</text>
<rect x="593.80" y="156.30" width="14.10" height="14.70" fill="#fff" stroke="#000" stroke-width="0.85" rx="2.2" ry="2.2"/>
<text x="600.85" y="165.95" font-size="7.1" text-anchor="middle" fill="#111" stroke="#111" stroke-width="0.22">y</text>
<rect x="615.10" y="190.00" width="14.40" height="15.30" fill="#fff" stroke="#000" stroke-width="0.85" rx="2.2" ry="2.2"/>
<text x="622.30" y="199.95" font-size="7.1" text-anchor="middle" fill="#111" stroke="#111" stroke-width="0.22">x</text>
<text x="649.00" y="148.60" font-size="7.1" text-anchor="start" fill="#000" stroke="#000" stroke-width="0.22">fitness</text>
<rect x="649.10" y="152.80" width="12.00" height="57.50" fill="url(#gpla)"/>
<line x1="649.10" y1="154.90" x2="654.10" y2="154.90" stroke="#fff" stroke-width="0.75"/>
<line x1="656.10" y1="154.90" x2="661.10" y2="154.90" stroke="#fff" stroke-width="0.75"/>
<text x="664.50" y="157.40" font-size="7.1" text-anchor="start" fill="#000" stroke="#000" stroke-width="0.22">0.08</text>
<line x1="649.10" y1="169.70" x2="654.10" y2="169.70" stroke="#fff" stroke-width="0.75"/>
<line x1="656.10" y1="169.70" x2="661.10" y2="169.70" stroke="#fff" stroke-width="0.75"/>
<text x="664.50" y="172.20" font-size="7.1" text-anchor="start" fill="#000" stroke="#000" stroke-width="0.22">0.04</text>
<line x1="649.10" y1="184.90" x2="654.10" y2="184.90" stroke="#fff" stroke-width="0.75"/>
<line x1="656.10" y1="184.90" x2="661.10" y2="184.90" stroke="#fff" stroke-width="0.75"/>
<text x="664.50" y="187.40" font-size="7.1" text-anchor="start" fill="#000" stroke="#000" stroke-width="0.22">0.00</text>
<line x1="649.10" y1="200.10" x2="654.10" y2="200.10" stroke="#fff" stroke-width="0.75"/>
<line x1="656.10" y1="200.10" x2="661.10" y2="200.10" stroke="#fff" stroke-width="0.75"/>
<text x="664.50" y="202.60" font-size="7.1" text-anchor="start" fill="#000" stroke="#000" stroke-width="0.22">-0.04</text>
<text x="473.40" y="246.90" font-size="10.5" text-anchor="start" fill="#000" font-weight="bold" stroke="#000" stroke-width="0.22">f</text>
<rect x="498.40" y="239.60" width="75.80" height="18.80" fill="#fff" stroke="#000" stroke-width="0.8"/>
<text x="536.30" y="247.65" font-size="7.1" text-anchor="middle" fill="#1a1a1a" textLength="28.8" lengthAdjust="spacingAndGlyphs" stroke="#1a1a1a" stroke-width="0.22">p53 k.o. A</text>
<text x="536.30" y="255.40" font-size="7.1" text-anchor="middle" fill="#1a1a1a" textLength="38.6" lengthAdjust="spacing" stroke="#1a1a1a" stroke-width="0.22">(scenario A)</text>
<rect x="577.60" y="239.60" width="75.10" height="18.80" fill="#fff" stroke="#000" stroke-width="0.8"/>
<text x="615.15" y="247.65" font-size="7.1" text-anchor="middle" fill="#1a1a1a" textLength="19.6" lengthAdjust="spacingAndGlyphs" stroke="#1a1a1a" stroke-width="0.22">SA532</text>
<text x="615.15" y="255.40" font-size="7.1" text-anchor="middle" fill="#1a1a1a" textLength="38.6" lengthAdjust="spacing" stroke="#1a1a1a" stroke-width="0.22">(scenario B)</text>
<line x1="498.50" y1="258.40" x2="498.50" y2="334.95" stroke="#000" stroke-width="0.9"/>
<line x1="498.50" y1="334.50" x2="574.20" y2="334.50" stroke="#000" stroke-width="0.9"/>
<line x1="577.60" y1="334.50" x2="652.70" y2="334.50" stroke="#000" stroke-width="0.9"/>
<line x1="496.40" y1="263.50" x2="498.40" y2="263.50" stroke="#333" stroke-width="0.7"/>
<text x="494.80" y="265.90" font-size="6.6" text-anchor="end" fill="#4d4d4d" stroke="#4d4d4d" stroke-width="0.22">200</text>
<line x1="496.40" y1="280.38" x2="498.40" y2="280.38" stroke="#333" stroke-width="0.7"/>
<text x="494.80" y="282.77" font-size="6.6" text-anchor="end" fill="#4d4d4d" stroke="#4d4d4d" stroke-width="0.22">150</text>
<line x1="496.40" y1="297.25" x2="498.40" y2="297.25" stroke="#333" stroke-width="0.7"/>
<text x="494.80" y="299.65" font-size="6.6" text-anchor="end" fill="#4d4d4d" stroke="#4d4d4d" stroke-width="0.22">100</text>
<line x1="496.40" y1="314.12" x2="498.40" y2="314.12" stroke="#333" stroke-width="0.7"/>
<text x="494.80" y="316.52" font-size="6.6" text-anchor="end" fill="#4d4d4d" stroke="#4d4d4d" stroke-width="0.22">50</text>
<line x1="496.40" y1="331.00" x2="498.40" y2="331.00" stroke="#333" stroke-width="0.7"/>
<text x="494.80" y="333.40" font-size="6.6" text-anchor="end" fill="#4d4d4d" stroke="#4d4d4d" stroke-width="0.22">0</text>
<line x1="516.00" y1="334.50" x2="516.00" y2="336.50" stroke="#333" stroke-width="0.7"/>
<text x="516.00" y="343.70" font-size="6.6" text-anchor="middle" fill="#4d4d4d" stroke="#4d4d4d" stroke-width="0.22">0.93</text>
<line x1="536.60" y1="334.50" x2="536.60" y2="336.50" stroke="#333" stroke-width="0.7"/>
<text x="536.60" y="343.70" font-size="6.6" text-anchor="middle" fill="#4d4d4d" stroke="#4d4d4d" stroke-width="0.22">0.96</text>
<line x1="557.10" y1="334.50" x2="557.10" y2="336.50" stroke="#333" stroke-width="0.7"/>
<text x="557.10" y="343.70" font-size="6.6" text-anchor="middle" fill="#4d4d4d" stroke="#4d4d4d" stroke-width="0.22">0.99</text>
<line x1="596.10" y1="334.50" x2="596.10" y2="336.50" stroke="#333" stroke-width="0.7"/>
<text x="596.10" y="343.70" font-size="6.6" text-anchor="middle" fill="#4d4d4d" stroke="#4d4d4d" stroke-width="0.22">0.85</text>
<line x1="615.00" y1="334.50" x2="615.00" y2="336.50" stroke="#333" stroke-width="0.7"/>
<text x="615.00" y="343.70" font-size="6.6" text-anchor="middle" fill="#4d4d4d" stroke="#4d4d4d" stroke-width="0.22">0.90</text>
<line x1="634.40" y1="334.50" x2="634.40" y2="336.50" stroke="#333" stroke-width="0.7"/>
<text x="634.40" y="343.70" font-size="6.6" text-anchor="middle" fill="#4d4d4d" stroke="#4d4d4d" stroke-width="0.22">0.95</text>
<text font-size="7.1" text-anchor="middle" transform="translate(481.0 296.5) rotate(-90)" stroke="#000" stroke-width="0.22">count</text>
<text x="575.20" y="351.20" font-size="7.1" text-anchor="middle" fill="#000" stroke="#000" stroke-width="0.22">fitness</text>
<rect x="501.80" y="315.81" width="13.72" height="15.19" fill="#e6bcd3" stroke="#000" stroke-width="1.5" stroke-linejoin="miter"/>
<rect x="515.52" y="261.81" width="13.72" height="69.19" fill="#e6bcd3" stroke="#000" stroke-width="1.5" stroke-linejoin="miter"/>
<rect x="529.24" y="328.64" width="13.72" height="2.36" fill="#b796ab" stroke="#000" stroke-width="1.5" stroke-linejoin="miter"/>
<rect x="542.96" y="308.05" width="13.72" height="22.95" fill="#80bca9" stroke="#000" stroke-width="1.5" stroke-linejoin="miter"/>
<rect x="556.68" y="306.02" width="13.72" height="24.98" fill="#80bca9" stroke="#000" stroke-width="1.5" stroke-linejoin="miter"/>
<rect x="580.20" y="330.32" width="7.78" height="0.68" fill="#e6bcd3" stroke="#000" stroke-width="1.5" stroke-linejoin="miter"/>
<rect x="587.98" y="324.25" width="7.78" height="6.75" fill="#e6bcd3" stroke="#000" stroke-width="1.5" stroke-linejoin="miter"/>
<rect x="595.76" y="311.43" width="7.78" height="19.57" fill="#e6bcd3" stroke="#000" stroke-width="1.5" stroke-linejoin="miter"/>
<rect x="603.54" y="302.31" width="7.78" height="28.69" fill="#e6bcd3" stroke="#000" stroke-width="1.5" stroke-linejoin="miter"/>
<rect x="611.32" y="293.88" width="7.78" height="37.12" fill="#e6bcd3" stroke="#000" stroke-width="1.5" stroke-linejoin="miter"/>
<rect x="619.10" y="308.73" width="7.78" height="22.27" fill="#e6bcd3" stroke="#000" stroke-width="1.5" stroke-linejoin="miter"/>
<rect x="626.88" y="324.25" width="7.78" height="6.75" fill="#e6bcd3" stroke="#000" stroke-width="1.5" stroke-linejoin="miter"/>
<rect x="634.66" y="329.99" width="7.78" height="1.01" fill="#e6bcd3" stroke="#000" stroke-width="1.5" stroke-linejoin="miter"/>
<rect x="642.44" y="330.66" width="7.78" height="0.34" fill="#e6bcd3" stroke="#000" stroke-width="1.5" stroke-linejoin="miter"/>
<rect x="595.76" y="330.66" width="7.78" height="0.34" fill="#5e9e8a" stroke="#000" stroke-width="1.5" stroke-linejoin="miter"/>
<rect x="603.54" y="329.65" width="7.78" height="1.35" fill="#5e9e8a" stroke="#000" stroke-width="1.5" stroke-linejoin="miter"/>
<rect x="611.32" y="327.62" width="7.78" height="3.38" fill="#5e9e8a" stroke="#000" stroke-width="1.5" stroke-linejoin="miter"/>
<rect x="619.10" y="328.64" width="7.78" height="2.36" fill="#5e9e8a" stroke="#000" stroke-width="1.5" stroke-linejoin="miter"/>
<rect x="626.88" y="329.65" width="7.78" height="1.35" fill="#5e9e8a" stroke="#000" stroke-width="1.5" stroke-linejoin="miter"/>
<rect x="634.66" y="330.66" width="7.78" height="0.34" fill="#5e9e8a" stroke="#000" stroke-width="1.5" stroke-linejoin="miter"/>
<text x="663.00" y="285.60" font-size="7.1" text-anchor="start" fill="#000" stroke="#000" stroke-width="0.22">group</text>
<rect x="663.90" y="291.30" width="9.70" height="9.20" fill="#e6bcd3" stroke="#000" stroke-width="1.2"/>
<rect x="663.90" y="302.60" width="9.70" height="9.30" fill="#80bca9" stroke="#000" stroke-width="1.2"/>
<text x="677.50" y="298.40" font-size="7.1" text-anchor="start" fill="#000" stroke="#000" stroke-width="0.22">x</text>
<text x="677.50" y="309.70" font-size="7.1" text-anchor="start" fill="#000" stroke="#000" stroke-width="0.22">y</text>
<text x="474.70" y="367.40" font-size="10.5" text-anchor="start" fill="#000" font-weight="bold" stroke="#000" stroke-width="0.22">g</text>
<rect x="498.40" y="359.60" width="75.90" height="18.30" fill="#fff" stroke="#000" stroke-width="0.8"/>
<text x="536.35" y="367.40" font-size="7.1" text-anchor="middle" fill="#1a1a1a" textLength="28.8" lengthAdjust="spacingAndGlyphs" stroke="#1a1a1a" stroke-width="0.22">p53 k.o. A</text>
<text x="536.35" y="375.15" font-size="7.1" text-anchor="middle" fill="#1a1a1a" textLength="38.6" lengthAdjust="spacing" stroke="#1a1a1a" stroke-width="0.22">(scenario A)</text>
<rect x="577.20" y="359.60" width="75.50" height="18.30" fill="#fff" stroke="#000" stroke-width="0.8"/>
<text x="614.95" y="367.40" font-size="7.1" text-anchor="middle" fill="#1a1a1a" textLength="19.6" lengthAdjust="spacingAndGlyphs" stroke="#1a1a1a" stroke-width="0.22">SA532</text>
<text x="614.95" y="375.15" font-size="7.1" text-anchor="middle" fill="#1a1a1a" textLength="38.6" lengthAdjust="spacing" stroke="#1a1a1a" stroke-width="0.22">(scenario B)</text>
<line x1="498.50" y1="377.90" x2="498.50" y2="454.85" stroke="#000" stroke-width="0.9"/>
<line x1="498.50" y1="454.40" x2="574.30" y2="454.40" stroke="#000" stroke-width="0.9"/>
<line x1="577.20" y1="454.40" x2="652.70" y2="454.40" stroke="#000" stroke-width="0.9"/>
<line x1="496.40" y1="394.45" x2="498.40" y2="394.45" stroke="#333" stroke-width="0.7"/>
<text x="494.90" y="396.85" font-size="6.6" text-anchor="end" fill="#4d4d4d" stroke="#4d4d4d" stroke-width="0.22">150</text>
<line x1="496.40" y1="413.30" x2="498.40" y2="413.30" stroke="#333" stroke-width="0.7"/>
<text x="494.90" y="415.70" font-size="6.6" text-anchor="end" fill="#4d4d4d" stroke="#4d4d4d" stroke-width="0.22">100</text>
<line x1="496.40" y1="432.15" x2="498.40" y2="432.15" stroke="#333" stroke-width="0.7"/>
<text x="494.90" y="434.55" font-size="6.6" text-anchor="end" fill="#4d4d4d" stroke="#4d4d4d" stroke-width="0.22">50</text>
<line x1="496.40" y1="451.00" x2="498.40" y2="451.00" stroke="#333" stroke-width="0.7"/>
<text x="494.90" y="453.40" font-size="6.6" text-anchor="end" fill="#4d4d4d" stroke="#4d4d4d" stroke-width="0.22">0</text>
<line x1="503.60" y1="454.40" x2="503.60" y2="456.40" stroke="#333" stroke-width="0.7"/>
<text x="503.60" y="463.60" font-size="6.6" text-anchor="middle" fill="#4d4d4d" stroke="#4d4d4d" stroke-width="0.22">2.0</text>
<line x1="521.60" y1="454.40" x2="521.60" y2="456.40" stroke="#333" stroke-width="0.7"/>
<text x="521.60" y="463.60" font-size="6.6" text-anchor="middle" fill="#4d4d4d" stroke="#4d4d4d" stroke-width="0.22">2.5</text>
<line x1="539.70" y1="454.40" x2="539.70" y2="456.40" stroke="#333" stroke-width="0.7"/>
<text x="539.70" y="463.60" font-size="6.6" text-anchor="middle" fill="#4d4d4d" stroke="#4d4d4d" stroke-width="0.22">3.0</text>
<line x1="557.80" y1="454.40" x2="557.80" y2="456.40" stroke="#333" stroke-width="0.7"/>
<text x="557.80" y="463.60" font-size="6.6" text-anchor="middle" fill="#4d4d4d" stroke="#4d4d4d" stroke-width="0.22">3.5</text>
<line x1="592.20" y1="454.40" x2="592.20" y2="456.40" stroke="#333" stroke-width="0.7"/>
<text x="592.20" y="463.60" font-size="6.6" text-anchor="middle" fill="#4d4d4d" stroke="#4d4d4d" stroke-width="0.22">2.4</text>
<line x1="615.20" y1="454.40" x2="615.20" y2="456.40" stroke="#333" stroke-width="0.7"/>
<text x="615.20" y="463.60" font-size="6.6" text-anchor="middle" fill="#4d4d4d" stroke="#4d4d4d" stroke-width="0.22">2.5</text>
<line x1="638.00" y1="454.40" x2="638.00" y2="456.40" stroke="#333" stroke-width="0.7"/>
<text x="638.00" y="463.60" font-size="6.6" text-anchor="middle" fill="#4d4d4d" stroke="#4d4d4d" stroke-width="0.22">2.6</text>
<text font-size="7.1" text-anchor="middle" transform="translate(481.0 416.0) rotate(-90)" stroke="#000" stroke-width="0.22">count</text>
<text x="575.50" y="470.80" font-size="7.1" text-anchor="middle" fill="#000" stroke="#000" stroke-width="0.22">ploidy</text>
<line x1="501.50" y1="451.00" x2="571.16" y2="451.00" stroke="#000" stroke-width="1.5"/>
<rect x="501.50" y="434.04" width="3.87" height="16.96" fill="#e6bcd3" stroke="#000" stroke-width="1.5" stroke-linejoin="miter"/>
<rect x="505.37" y="429.51" width="3.87" height="21.49" fill="#e6bcd3" stroke="#000" stroke-width="1.5" stroke-linejoin="miter"/>
<rect x="509.24" y="390.68" width="3.87" height="60.32" fill="#e6bcd3" stroke="#000" stroke-width="1.5" stroke-linejoin="miter"/>
<rect x="559.55" y="444.97" width="3.87" height="6.03" fill="#80bca9" stroke="#000" stroke-width="1.5" stroke-linejoin="miter"/>
<rect x="563.42" y="426.12" width="3.87" height="24.88" fill="#80bca9" stroke="#000" stroke-width="1.5" stroke-linejoin="miter"/>
<rect x="567.29" y="428.00" width="3.87" height="23.00" fill="#80bca9" stroke="#000" stroke-width="1.5" stroke-linejoin="miter"/>
<rect x="580.90" y="447.23" width="22.70" height="3.77" fill="#2f6b57" stroke="#000" stroke-width="1.5" stroke-linejoin="miter"/>
<rect x="603.60" y="382.01" width="23.00" height="68.99" fill="#e6bcd3" stroke="#000" stroke-width="1.5" stroke-linejoin="miter"/>
<rect x="603.60" y="441.95" width="23.00" height="9.05" fill="#7aa99b" stroke="#000" stroke-width="1.5" stroke-linejoin="miter"/>
<rect x="626.60" y="383.89" width="23.00" height="67.11" fill="#e6bcd3" stroke="#000" stroke-width="1.5" stroke-linejoin="miter"/>
<text x="663.00" y="405.90" font-size="7.1" text-anchor="start" fill="#000" stroke="#000" stroke-width="0.22">group</text>
<rect x="664.00" y="410.50" width="9.90" height="9.60" fill="#e6bcd3" stroke="#000" stroke-width="1.2"/>
<rect x="664.00" y="422.60" width="9.90" height="9.40" fill="#80bca9" stroke="#000" stroke-width="1.2"/>
<text x="677.50" y="417.80" font-size="7.1" text-anchor="start" fill="#000" stroke="#000" stroke-width="0.22">x</text>
<text x="677.50" y="429.80" font-size="7.1" text-anchor="start" fill="#000" stroke="#000" stroke-width="0.22">y</text>
</svg></body></html>
